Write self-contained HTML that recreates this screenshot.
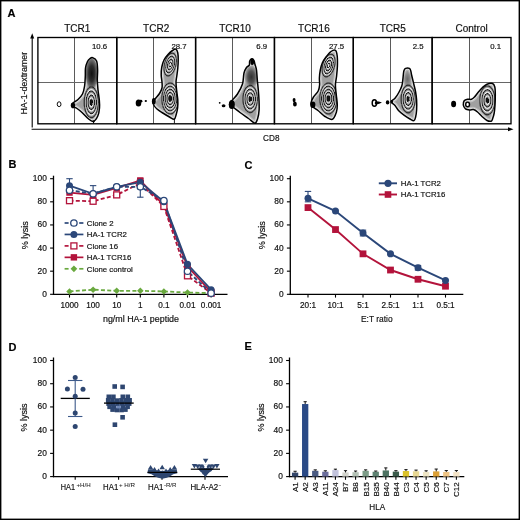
<!DOCTYPE html>
<html><head><meta charset="utf-8"><style>
html,body{margin:0;padding:0;background:#fff;width:520px;height:520px;overflow:hidden}
svg{display:block;will-change:transform}
text{font-family:"Liberation Sans",sans-serif;stroke:#111;stroke-width:0.18px;paint-order:stroke}
</style></head><body>
<svg width="520" height="520" viewBox="0 0 520 520" font-family="Liberation Sans, sans-serif"><text x="7.6" y="17.3" font-size="11" text-anchor="start" font-weight="bold" fill="#000" >A</text>
<text x="8.4" y="168.2" font-size="11" text-anchor="start" font-weight="bold" fill="#000" >B</text>
<text x="244.4" y="169.2" font-size="11" text-anchor="start" font-weight="bold" fill="#000" >C</text>
<text x="8.4" y="350.6" font-size="11" text-anchor="start" font-weight="bold" fill="#000" >D</text>
<text x="244.5" y="350.4" font-size="11" text-anchor="start" font-weight="bold" fill="#000" >E</text>
<line x1="32.2" y1="127.5" x2="32.2" y2="36.5" stroke="#000" stroke-width="1.1"/>
<path d="M32.2,33.2 L30.2,38.5 L34.2,38.5 Z" fill="#000"/>
<line x1="31.6" y1="129.3" x2="510" y2="129.3" stroke="#000" stroke-width="1.1"/>
<path d="M513.5,129.3 L508,127.3 L508,131.3 Z" fill="#000"/>
<text x="0" y="0" font-size="8.8" text-anchor="middle" font-weight="normal" fill="#111" transform="translate(26.5,83.2) rotate(-90)">HA-1-dextramer</text>
<text x="263.1" y="141.1" font-size="9.6" text-anchor="start" font-weight="normal" fill="#111" textLength="16.4" lengthAdjust="spacingAndGlyphs">CD8</text>
<text x="77.32499999999999" y="32.4" font-size="10" text-anchor="middle" font-weight="normal" fill="#111" >TCR1</text>
<text x="107.2" y="48.9" font-size="7.8" text-anchor="end" font-weight="normal" fill="#111" >10.6</text>
<text x="156.175" y="32.4" font-size="10" text-anchor="middle" font-weight="normal" fill="#111" >TCR2</text>
<text x="186.6" y="48.9" font-size="7.8" text-anchor="end" font-weight="normal" fill="#111" >28.7</text>
<text x="235.02499999999998" y="32.4" font-size="10" text-anchor="middle" font-weight="normal" fill="#111" >TCR10</text>
<text x="267.2" y="48.9" font-size="7.8" text-anchor="end" font-weight="normal" fill="#111" >6.9</text>
<text x="313.875" y="32.4" font-size="10" text-anchor="middle" font-weight="normal" fill="#111" >TCR16</text>
<text x="344.2" y="48.9" font-size="7.8" text-anchor="end" font-weight="normal" fill="#111" >27.5</text>
<text x="392.72499999999997" y="32.4" font-size="10" text-anchor="middle" font-weight="normal" fill="#111" >TCR5</text>
<text x="423.6" y="48.9" font-size="7.8" text-anchor="end" font-weight="normal" fill="#111" >2.5</text>
<text x="471.575" y="32.4" font-size="10" text-anchor="middle" font-weight="normal" fill="#111" >Control</text>
<text x="501.0" y="48.9" font-size="7.8" text-anchor="end" font-weight="normal" fill="#111" >0.1</text>
<line x1="74.5" y1="37.5" x2="74.5" y2="123.8" stroke="#5a5a5a" stroke-width="1.0"/>
<line x1="153.5" y1="37.5" x2="153.5" y2="123.8" stroke="#5a5a5a" stroke-width="1.0"/>
<line x1="232.5" y1="37.5" x2="232.5" y2="123.8" stroke="#5a5a5a" stroke-width="1.0"/>
<line x1="311.5" y1="37.5" x2="311.5" y2="123.8" stroke="#5a5a5a" stroke-width="1.0"/>
<line x1="390.5" y1="37.5" x2="390.5" y2="123.8" stroke="#5a5a5a" stroke-width="1.0"/>
<line x1="469.5" y1="37.5" x2="469.5" y2="123.8" stroke="#5a5a5a" stroke-width="1.0"/>
<line x1="37.9" y1="82.5" x2="510.99999999999994" y2="82.5" stroke="#666" stroke-width="1.0"/>
<clipPath id="cp1"><path d="M92.60,57.60 C93.70,58.02 95.77,58.93 96.60,61.00 C97.43,63.07 97.48,66.83 97.60,70.00 C97.72,73.17 97.23,76.67 97.30,80.00 C97.37,83.33 97.67,86.67 98.00,90.00 C98.33,93.33 99.05,97.00 99.30,100.00 C99.55,103.00 99.75,105.33 99.50,108.00 C99.25,110.67 98.83,113.77 97.80,116.00 C96.77,118.23 94.93,120.98 93.30,121.40 C91.67,121.82 89.88,119.98 88.00,118.50 C86.12,117.02 83.83,114.17 82.00,112.50 C80.17,110.83 78.42,109.45 77.00,108.50 C75.58,107.55 74.40,107.33 73.50,106.80 C72.60,106.27 71.60,106.02 71.60,105.30 C71.60,104.58 72.43,103.47 73.50,102.50 C74.57,101.53 76.50,100.92 78.00,99.50 C79.50,98.08 81.40,96.25 82.50,94.00 C83.60,91.75 84.13,89.00 84.60,86.00 C85.07,83.00 85.15,79.00 85.30,76.00 C85.45,73.00 85.13,70.42 85.50,68.00 C85.87,65.58 86.75,63.08 87.50,61.50 C88.25,59.92 89.15,59.15 90.00,58.50 C90.85,57.85 91.50,57.18 92.60,57.60 Z"/></clipPath>
<path d="M92.60,57.60 C93.70,58.02 95.77,58.93 96.60,61.00 C97.43,63.07 97.48,66.83 97.60,70.00 C97.72,73.17 97.23,76.67 97.30,80.00 C97.37,83.33 97.67,86.67 98.00,90.00 C98.33,93.33 99.05,97.00 99.30,100.00 C99.55,103.00 99.75,105.33 99.50,108.00 C99.25,110.67 98.83,113.77 97.80,116.00 C96.77,118.23 94.93,120.98 93.30,121.40 C91.67,121.82 89.88,119.98 88.00,118.50 C86.12,117.02 83.83,114.17 82.00,112.50 C80.17,110.83 78.42,109.45 77.00,108.50 C75.58,107.55 74.40,107.33 73.50,106.80 C72.60,106.27 71.60,106.02 71.60,105.30 C71.60,104.58 72.43,103.47 73.50,102.50 C74.57,101.53 76.50,100.92 78.00,99.50 C79.50,98.08 81.40,96.25 82.50,94.00 C83.60,91.75 84.13,89.00 84.60,86.00 C85.07,83.00 85.15,79.00 85.30,76.00 C85.45,73.00 85.13,70.42 85.50,68.00 C85.87,65.58 86.75,63.08 87.50,61.50 C88.25,59.92 89.15,59.15 90.00,58.50 C90.85,57.85 91.50,57.18 92.60,57.60 Z" fill="#a0a0a0" stroke="none"/>
<g clip-path="url(#cp1)">
<path d="M92.60,57.60 C93.70,58.02 95.77,58.93 96.60,61.00 C97.43,63.07 97.48,66.83 97.60,70.00 C97.72,73.17 97.23,76.67 97.30,80.00 C97.37,83.33 97.67,86.67 98.00,90.00 C98.33,93.33 99.05,97.00 99.30,100.00 C99.55,103.00 99.75,105.33 99.50,108.00 C99.25,110.67 98.83,113.77 97.80,116.00 C96.77,118.23 94.93,120.98 93.30,121.40 C91.67,121.82 89.88,119.98 88.00,118.50 C86.12,117.02 83.83,114.17 82.00,112.50 C80.17,110.83 78.42,109.45 77.00,108.50 C75.58,107.55 74.40,107.33 73.50,106.80 C72.60,106.27 71.60,106.02 71.60,105.30 C71.60,104.58 72.43,103.47 73.50,102.50 C74.57,101.53 76.50,100.92 78.00,99.50 C79.50,98.08 81.40,96.25 82.50,94.00 C83.60,91.75 84.13,89.00 84.60,86.00 C85.07,83.00 85.15,79.00 85.30,76.00 C85.45,73.00 85.13,70.42 85.50,68.00 C85.87,65.58 86.75,63.08 87.50,61.50 C88.25,59.92 89.15,59.15 90.00,58.50 C90.85,57.85 91.50,57.18 92.60,57.60 Z" fill="none" stroke="#f4f4f4" stroke-width="3.2"/>
<path d="M92.60,57.60 C93.70,58.02 95.77,58.93 96.60,61.00 C97.43,63.07 97.48,66.83 97.60,70.00 C97.72,73.17 97.23,76.67 97.30,80.00 C97.37,83.33 97.67,86.67 98.00,90.00 C98.33,93.33 99.05,97.00 99.30,100.00 C99.55,103.00 99.75,105.33 99.50,108.00 C99.25,110.67 98.83,113.77 97.80,116.00 C96.77,118.23 94.93,120.98 93.30,121.40 C91.67,121.82 89.88,119.98 88.00,118.50 C86.12,117.02 83.83,114.17 82.00,112.50 C80.17,110.83 78.42,109.45 77.00,108.50 C75.58,107.55 74.40,107.33 73.50,106.80 C72.60,106.27 71.60,106.02 71.60,105.30 C71.60,104.58 72.43,103.47 73.50,102.50 C74.57,101.53 76.50,100.92 78.00,99.50 C79.50,98.08 81.40,96.25 82.50,94.00 C83.60,91.75 84.13,89.00 84.60,86.00 C85.07,83.00 85.15,79.00 85.30,76.00 C85.45,73.00 85.13,70.42 85.50,68.00 C85.87,65.58 86.75,63.08 87.50,61.50 C88.25,59.92 89.15,59.15 90.00,58.50 C90.85,57.85 91.50,57.18 92.60,57.60 Z" fill="none" stroke="#d8d8d8" stroke-width="5.5" opacity="0.6"/>
<radialGradient id="rg1_1" cx="0.5" cy="0.5" r="0.5"><stop offset="0" stop-color="#111"/><stop offset="0.45" stop-color="#2e2e2e"/><stop offset="0.8" stop-color="#707070"/><stop offset="1" stop-color="#a0a0a0" stop-opacity="0"/></radialGradient>
<ellipse cx="91.7" cy="73.5" rx="6.8" ry="17.5" fill="url(#rg1_1)"/>
<radialGradient id="rg1_2" gradientUnits="userSpaceOnUse" cx="91.3" cy="102.3" r="7.6" gradientTransform="translate(91.3,102.3) rotate(0.0) scale(1,2.1711) translate(-91.3,-102.3)"><stop offset="0.000" stop-color="#141414"/><stop offset="0.170" stop-color="#141414"/><stop offset="0.174" stop-color="#f8f8f8"/><stop offset="0.177" stop-color="#f8f8f8"/><stop offset="0.188" stop-color="#8c8c8c"/><stop offset="0.196" stop-color="#2c2c2c"/><stop offset="0.200" stop-color="#f8f8f8"/><stop offset="0.262" stop-color="#f8f8f8"/><stop offset="0.350" stop-color="#8c8c8c"/><stop offset="0.446" stop-color="#2c2c2c"/><stop offset="0.450" stop-color="#f8f8f8"/><stop offset="0.512" stop-color="#f8f8f8"/><stop offset="0.600" stop-color="#8c8c8c"/><stop offset="0.696" stop-color="#2c2c2c"/><stop offset="0.700" stop-color="#f8f8f8"/><stop offset="0.762" stop-color="#f8f8f8"/><stop offset="0.850" stop-color="#8c8c8c"/><stop offset="0.946" stop-color="#2c2c2c"/><stop offset="0.950" stop-color="#f8f8f8"/><stop offset="1.000" stop-color="#a0a0a0"/></radialGradient>
<path d="M91.4,118.0 L91.0,118.0 L90.5,117.9 L90.1,117.8 L89.8,117.6 L89.5,117.5 L89.2,117.3 L88.9,117.1 L88.6,116.8 L88.3,116.6 L88.1,116.4 L87.9,116.1 L87.6,115.8 L87.4,115.5 L87.2,115.2 L87.0,114.9 L86.8,114.6 L86.6,114.3 L86.5,114.0 L86.3,113.6 L86.1,113.3 L86.0,112.9 L85.8,112.6 L85.7,112.2 L85.6,111.9 L85.4,111.5 L85.3,111.1 L85.2,110.7 L85.1,110.3 L85.0,110.0 L84.9,109.6 L84.8,109.1 L84.7,108.7 L84.6,108.3 L84.6,107.9 L84.5,107.5 L84.4,107.0 L84.4,106.6 L84.3,106.1 L84.2,105.7 L84.2,105.2 L84.2,104.8 L84.1,104.3 L84.1,103.8 L84.1,103.4 L84.1,102.9 L84.1,102.4 L84.1,101.9 L84.1,101.4 L84.1,101.0 L84.1,100.5 L84.2,100.0 L84.2,99.5 L84.2,99.1 L84.3,98.6 L84.3,98.2 L84.4,97.7 L84.5,97.3 L84.5,96.9 L84.6,96.5 L84.7,96.0 L84.8,95.6 L84.9,95.2 L85.0,94.8 L85.1,94.4 L85.2,94.0 L85.3,93.6 L85.4,93.3 L85.5,92.9 L85.7,92.5 L85.8,92.1 L86.0,91.8 L86.1,91.4 L86.3,91.1 L86.4,90.8 L86.6,90.4 L86.8,90.1 L87.0,89.8 L87.2,89.5 L87.4,89.2 L87.6,88.9 L87.8,88.6 L88.0,88.4 L88.3,88.1 L88.5,87.9 L88.8,87.6 L89.1,87.4 L89.4,87.2 L89.7,87.0 L90.0,86.9 L90.4,86.7 L90.8,86.7 L91.3,86.6 L91.8,86.7 L92.2,86.7 L92.6,86.9 L92.9,87.0 L93.2,87.2 L93.5,87.4 L93.8,87.6 L94.1,87.9 L94.3,88.1 L94.6,88.4 L94.8,88.6 L95.0,88.9 L95.2,89.2 L95.4,89.5 L95.6,89.8 L95.8,90.1 L96.0,90.4 L96.2,90.8 L96.3,91.1 L96.5,91.4 L96.6,91.8 L96.8,92.1 L96.9,92.5 L97.1,92.9 L97.2,93.3 L97.3,93.6 L97.4,94.0 L97.5,94.4 L97.6,94.8 L97.7,95.2 L97.8,95.6 L97.9,96.0 L98.0,96.5 L98.1,96.9 L98.1,97.3 L98.2,97.7 L98.3,98.2 L98.3,98.6 L98.4,99.1 L98.4,99.5 L98.4,100.0 L98.5,100.5 L98.5,101.0 L98.5,101.4 L98.5,101.9 L98.5,102.4 L98.5,102.9 L98.5,103.4 L98.5,103.8 L98.5,104.3 L98.4,104.8 L98.4,105.2 L98.4,105.7 L98.3,106.1 L98.2,106.6 L98.2,107.0 L98.1,107.5 L98.0,107.9 L98.0,108.3 L97.9,108.7 L97.8,109.1 L97.7,109.6 L97.6,110.0 L97.5,110.3 L97.4,110.7 L97.3,111.1 L97.2,111.5 L97.0,111.9 L96.9,112.2 L96.8,112.6 L96.6,112.9 L96.5,113.3 L96.3,113.6 L96.1,114.0 L96.0,114.3 L95.8,114.6 L95.6,114.9 L95.4,115.2 L95.2,115.5 L95.0,115.8 L94.7,116.1 L94.5,116.4 L94.3,116.6 L94.0,116.8 L93.7,117.1 L93.4,117.3 L93.1,117.5 L92.8,117.6 L92.5,117.8 L92.1,117.9 L91.6,118.0Z" fill="url(#rg1_2)" stroke="none"/>
<path d="M91.4,118.0 L91.0,118.0 L90.5,117.9 L90.1,117.8 L89.8,117.6 L89.5,117.5 L89.2,117.3 L88.9,117.1 L88.6,116.8 L88.3,116.6 L88.1,116.4 L87.9,116.1 L87.6,115.8 L87.4,115.5 L87.2,115.2 L87.0,114.9 L86.8,114.6 L86.6,114.3 L86.5,114.0 L86.3,113.6 L86.1,113.3 L86.0,112.9 L85.8,112.6 L85.7,112.2 L85.6,111.9 L85.4,111.5 L85.3,111.1 L85.2,110.7 L85.1,110.3 L85.0,110.0 L84.9,109.6 L84.8,109.1 L84.7,108.7 L84.6,108.3 L84.6,107.9 L84.5,107.5 L84.4,107.0 L84.4,106.6 L84.3,106.1 L84.2,105.7 L84.2,105.2 L84.2,104.8 L84.1,104.3 L84.1,103.8 L84.1,103.4 L84.1,102.9 L84.1,102.4 L84.1,101.9 L84.1,101.4 L84.1,101.0 L84.1,100.5 L84.2,100.0 L84.2,99.5 L84.2,99.1 L84.3,98.6 L84.3,98.2 L84.4,97.7 L84.5,97.3 L84.5,96.9 L84.6,96.5 L84.7,96.0 L84.8,95.6 L84.9,95.2 L85.0,94.8 L85.1,94.4 L85.2,94.0 L85.3,93.6 L85.4,93.3 L85.5,92.9 L85.7,92.5 L85.8,92.1 L86.0,91.8 L86.1,91.4 L86.3,91.1 L86.4,90.8 L86.6,90.4 L86.8,90.1 L87.0,89.8 L87.2,89.5 L87.4,89.2 L87.6,88.9 L87.8,88.6 L88.0,88.4 L88.3,88.1 L88.5,87.9 L88.8,87.6 L89.1,87.4 L89.4,87.2 L89.7,87.0 L90.0,86.9 L90.4,86.7 L90.8,86.7 L91.3,86.6 L91.8,86.7 L92.2,86.7 L92.6,86.9 L92.9,87.0 L93.2,87.2 L93.5,87.4 L93.8,87.6 L94.1,87.9 L94.3,88.1 L94.6,88.4 L94.8,88.6 L95.0,88.9 L95.2,89.2 L95.4,89.5 L95.6,89.8 L95.8,90.1 L96.0,90.4 L96.2,90.8 L96.3,91.1 L96.5,91.4 L96.6,91.8 L96.8,92.1 L96.9,92.5 L97.1,92.9 L97.2,93.3 L97.3,93.6 L97.4,94.0 L97.5,94.4 L97.6,94.8 L97.7,95.2 L97.8,95.6 L97.9,96.0 L98.0,96.5 L98.1,96.9 L98.1,97.3 L98.2,97.7 L98.3,98.2 L98.3,98.6 L98.4,99.1 L98.4,99.5 L98.4,100.0 L98.5,100.5 L98.5,101.0 L98.5,101.4 L98.5,101.9 L98.5,102.4 L98.5,102.9 L98.5,103.4 L98.5,103.8 L98.5,104.3 L98.4,104.8 L98.4,105.2 L98.4,105.7 L98.3,106.1 L98.2,106.6 L98.2,107.0 L98.1,107.5 L98.0,107.9 L98.0,108.3 L97.9,108.7 L97.8,109.1 L97.7,109.6 L97.6,110.0 L97.5,110.3 L97.4,110.7 L97.3,111.1 L97.2,111.5 L97.0,111.9 L96.9,112.2 L96.8,112.6 L96.6,112.9 L96.5,113.3 L96.3,113.6 L96.1,114.0 L96.0,114.3 L95.8,114.6 L95.6,114.9 L95.4,115.2 L95.2,115.5 L95.0,115.8 L94.7,116.1 L94.5,116.4 L94.3,116.6 L94.0,116.8 L93.7,117.1 L93.4,117.3 L93.1,117.5 L92.8,117.6 L92.5,117.8 L92.1,117.9 L91.6,118.0Z" fill="none" stroke="#000" stroke-width="0.7"/>
<path d="M91.9,113.8 L91.4,113.8 L90.9,113.8 L90.5,113.7 L90.1,113.6 L89.8,113.4 L89.5,113.2 L89.3,113.0 L89.0,112.7 L88.8,112.5 L88.5,112.2 L88.3,111.9 L88.1,111.6 L88.0,111.3 L87.8,111.0 L87.6,110.6 L87.5,110.3 L87.3,109.9 L87.2,109.6 L87.0,109.2 L86.9,108.8 L86.8,108.5 L86.7,108.1 L86.6,107.7 L86.5,107.3 L86.4,106.8 L86.3,106.4 L86.3,106.0 L86.2,105.6 L86.1,105.1 L86.1,104.7 L86.1,104.2 L86.0,103.7 L86.0,103.3 L86.0,102.8 L86.0,102.3 L86.0,101.8 L86.0,101.3 L86.0,100.9 L86.1,100.4 L86.1,99.9 L86.1,99.5 L86.2,99.0 L86.3,98.6 L86.3,98.2 L86.4,97.8 L86.5,97.3 L86.6,96.9 L86.7,96.5 L86.8,96.1 L86.9,95.8 L87.0,95.4 L87.2,95.0 L87.3,94.7 L87.5,94.3 L87.6,94.0 L87.8,93.6 L88.0,93.3 L88.2,93.0 L88.4,92.7 L88.6,92.4 L88.8,92.1 L89.0,91.9 L89.3,91.6 L89.6,91.4 L89.9,91.2 L90.2,91.0 L90.5,90.9 L91.0,90.8 L91.4,90.8 L91.8,90.8 L92.2,90.9 L92.5,91.1 L92.9,91.3 L93.2,91.5 L93.4,91.7 L93.7,92.0 L93.9,92.2 L94.1,92.5 L94.3,92.8 L94.5,93.1 L94.7,93.4 L94.9,93.8 L95.0,94.1 L95.2,94.4 L95.3,94.8 L95.5,95.2 L95.6,95.5 L95.7,95.9 L95.8,96.3 L95.9,96.7 L96.0,97.1 L96.1,97.5 L96.2,97.9 L96.3,98.4 L96.4,98.8 L96.4,99.2 L96.5,99.7 L96.5,100.1 L96.6,100.6 L96.6,101.1 L96.6,101.5 L96.6,102.0 L96.6,102.5 L96.6,103.0 L96.6,103.4 L96.6,103.9 L96.5,104.4 L96.5,104.8 L96.4,105.3 L96.4,105.7 L96.3,106.2 L96.2,106.6 L96.2,107.0 L96.1,107.4 L96.0,107.8 L95.9,108.2 L95.8,108.6 L95.6,109.0 L95.5,109.4 L95.4,109.7 L95.2,110.1 L95.1,110.4 L94.9,110.8 L94.8,111.1 L94.6,111.4 L94.4,111.7 L94.2,112.0 L94.0,112.3 L93.7,112.6 L93.5,112.8 L93.2,113.1 L93.0,113.3 L92.6,113.5 L92.3,113.6 L91.9,113.8Z" fill="none" stroke="#000" stroke-width="0.7"/>
<path d="M91.7,109.7 L91.2,109.7 L90.8,109.6 L90.4,109.5 L90.1,109.3 L89.9,109.1 L89.6,108.8 L89.4,108.5 L89.2,108.2 L89.0,107.9 L88.9,107.6 L88.7,107.2 L88.6,106.9 L88.5,106.5 L88.4,106.1 L88.3,105.7 L88.2,105.3 L88.1,104.9 L88.0,104.4 L88.0,104.0 L87.9,103.5 L87.9,103.1 L87.9,102.6 L87.9,102.1 L87.9,101.6 L87.9,101.2 L88.0,100.7 L88.0,100.3 L88.1,99.8 L88.2,99.4 L88.2,99.0 L88.3,98.6 L88.5,98.2 L88.6,97.8 L88.7,97.5 L88.9,97.1 L89.0,96.8 L89.2,96.4 L89.4,96.1 L89.6,95.9 L89.9,95.6 L90.1,95.3 L90.4,95.1 L90.7,95.0 L91.2,94.9 L91.7,94.9 L92.1,95.1 L92.4,95.3 L92.6,95.5 L92.9,95.7 L93.1,96.0 L93.3,96.3 L93.5,96.6 L93.7,97.0 L93.8,97.3 L94.0,97.7 L94.1,98.0 L94.2,98.4 L94.3,98.8 L94.4,99.2 L94.5,99.7 L94.6,100.1 L94.6,100.5 L94.7,101.0 L94.7,101.5 L94.7,101.9 L94.7,102.4 L94.7,102.9 L94.7,103.3 L94.7,103.8 L94.6,104.2 L94.5,104.7 L94.5,105.1 L94.4,105.5 L94.3,105.9 L94.2,106.3 L94.1,106.7 L93.9,107.1 L93.8,107.4 L93.6,107.8 L93.5,108.1 L93.3,108.4 L93.1,108.7 L92.8,109.0 L92.6,109.2 L92.3,109.4 L92.0,109.6Z" fill="none" stroke="#000" stroke-width="0.7"/>
<path d="M91.4,105.6 L91.0,105.5 L90.7,105.3 L90.5,105.1 L90.3,104.8 L90.1,104.4 L90.0,104.0 L89.9,103.6 L89.8,103.2 L89.8,102.8 L89.8,102.3 L89.8,101.8 L89.8,101.4 L89.9,101.0 L90.0,100.6 L90.1,100.2 L90.3,99.8 L90.5,99.5 L90.7,99.3 L91.0,99.1 L91.5,99.0 L91.8,99.2 L92.1,99.5 L92.3,99.8 L92.4,100.1 L92.6,100.5 L92.7,100.9 L92.7,101.3 L92.8,101.8 L92.8,102.2 L92.8,102.7 L92.8,103.1 L92.7,103.6 L92.6,104.0 L92.5,104.3 L92.4,104.7 L92.2,105.0 L92.0,105.3 L91.7,105.5Z" fill="none" stroke="#000" stroke-width="0.7"/>
</g>
<path d="M92.60,57.60 C93.70,58.02 95.77,58.93 96.60,61.00 C97.43,63.07 97.48,66.83 97.60,70.00 C97.72,73.17 97.23,76.67 97.30,80.00 C97.37,83.33 97.67,86.67 98.00,90.00 C98.33,93.33 99.05,97.00 99.30,100.00 C99.55,103.00 99.75,105.33 99.50,108.00 C99.25,110.67 98.83,113.77 97.80,116.00 C96.77,118.23 94.93,120.98 93.30,121.40 C91.67,121.82 89.88,119.98 88.00,118.50 C86.12,117.02 83.83,114.17 82.00,112.50 C80.17,110.83 78.42,109.45 77.00,108.50 C75.58,107.55 74.40,107.33 73.50,106.80 C72.60,106.27 71.60,106.02 71.60,105.30 C71.60,104.58 72.43,103.47 73.50,102.50 C74.57,101.53 76.50,100.92 78.00,99.50 C79.50,98.08 81.40,96.25 82.50,94.00 C83.60,91.75 84.13,89.00 84.60,86.00 C85.07,83.00 85.15,79.00 85.30,76.00 C85.45,73.00 85.13,70.42 85.50,68.00 C85.87,65.58 86.75,63.08 87.50,61.50 C88.25,59.92 89.15,59.15 90.00,58.50 C90.85,57.85 91.50,57.18 92.60,57.60 Z" fill="none" stroke="#000" stroke-width="1.5"/>
<ellipse cx="59.1" cy="104.2" rx="1.9" ry="2.45" fill="#fff" stroke="#000" stroke-width="0.95"/>
<ellipse cx="73" cy="105.4" rx="2.2" ry="2.8" fill="#000"/>
<clipPath id="cp2"><path d="M176.00,49.20 C176.88,49.62 177.43,51.20 177.80,53.00 C178.17,54.80 178.20,57.50 178.20,60.00 C178.20,62.50 178.03,65.33 177.80,68.00 C177.57,70.67 177.10,73.67 176.80,76.00 C176.50,78.33 176.03,79.67 176.00,82.00 C175.97,84.33 176.30,87.00 176.60,90.00 C176.90,93.00 177.63,97.00 177.80,100.00 C177.97,103.00 177.87,105.58 177.60,108.00 C177.33,110.42 176.77,112.62 176.20,114.50 C175.63,116.38 175.32,118.88 174.20,119.30 C173.08,119.72 171.53,118.13 169.50,117.00 C167.47,115.87 164.08,113.83 162.00,112.50 C159.92,111.17 158.33,110.17 157.00,109.00 C155.67,107.83 154.67,106.67 154.00,105.50 C153.33,104.33 152.75,103.17 153.00,102.00 C153.25,100.83 154.42,99.92 155.50,98.50 C156.58,97.08 158.42,95.25 159.50,93.50 C160.58,91.75 161.58,89.92 162.00,88.00 C162.42,86.08 162.13,84.17 162.00,82.00 C161.87,79.83 161.23,77.50 161.20,75.00 C161.17,72.50 161.33,69.50 161.80,67.00 C162.27,64.50 162.97,62.08 164.00,60.00 C165.03,57.92 166.58,56.08 168.00,54.50 C169.42,52.92 171.17,51.38 172.50,50.50 C173.83,49.62 175.12,48.78 176.00,49.20 Z"/></clipPath>
<path d="M176.00,49.20 C176.88,49.62 177.43,51.20 177.80,53.00 C178.17,54.80 178.20,57.50 178.20,60.00 C178.20,62.50 178.03,65.33 177.80,68.00 C177.57,70.67 177.10,73.67 176.80,76.00 C176.50,78.33 176.03,79.67 176.00,82.00 C175.97,84.33 176.30,87.00 176.60,90.00 C176.90,93.00 177.63,97.00 177.80,100.00 C177.97,103.00 177.87,105.58 177.60,108.00 C177.33,110.42 176.77,112.62 176.20,114.50 C175.63,116.38 175.32,118.88 174.20,119.30 C173.08,119.72 171.53,118.13 169.50,117.00 C167.47,115.87 164.08,113.83 162.00,112.50 C159.92,111.17 158.33,110.17 157.00,109.00 C155.67,107.83 154.67,106.67 154.00,105.50 C153.33,104.33 152.75,103.17 153.00,102.00 C153.25,100.83 154.42,99.92 155.50,98.50 C156.58,97.08 158.42,95.25 159.50,93.50 C160.58,91.75 161.58,89.92 162.00,88.00 C162.42,86.08 162.13,84.17 162.00,82.00 C161.87,79.83 161.23,77.50 161.20,75.00 C161.17,72.50 161.33,69.50 161.80,67.00 C162.27,64.50 162.97,62.08 164.00,60.00 C165.03,57.92 166.58,56.08 168.00,54.50 C169.42,52.92 171.17,51.38 172.50,50.50 C173.83,49.62 175.12,48.78 176.00,49.20 Z" fill="#a0a0a0" stroke="none"/>
<g clip-path="url(#cp2)">
<path d="M176.00,49.20 C176.88,49.62 177.43,51.20 177.80,53.00 C178.17,54.80 178.20,57.50 178.20,60.00 C178.20,62.50 178.03,65.33 177.80,68.00 C177.57,70.67 177.10,73.67 176.80,76.00 C176.50,78.33 176.03,79.67 176.00,82.00 C175.97,84.33 176.30,87.00 176.60,90.00 C176.90,93.00 177.63,97.00 177.80,100.00 C177.97,103.00 177.87,105.58 177.60,108.00 C177.33,110.42 176.77,112.62 176.20,114.50 C175.63,116.38 175.32,118.88 174.20,119.30 C173.08,119.72 171.53,118.13 169.50,117.00 C167.47,115.87 164.08,113.83 162.00,112.50 C159.92,111.17 158.33,110.17 157.00,109.00 C155.67,107.83 154.67,106.67 154.00,105.50 C153.33,104.33 152.75,103.17 153.00,102.00 C153.25,100.83 154.42,99.92 155.50,98.50 C156.58,97.08 158.42,95.25 159.50,93.50 C160.58,91.75 161.58,89.92 162.00,88.00 C162.42,86.08 162.13,84.17 162.00,82.00 C161.87,79.83 161.23,77.50 161.20,75.00 C161.17,72.50 161.33,69.50 161.80,67.00 C162.27,64.50 162.97,62.08 164.00,60.00 C165.03,57.92 166.58,56.08 168.00,54.50 C169.42,52.92 171.17,51.38 172.50,50.50 C173.83,49.62 175.12,48.78 176.00,49.20 Z" fill="none" stroke="#f4f4f4" stroke-width="3.2"/>
<path d="M176.00,49.20 C176.88,49.62 177.43,51.20 177.80,53.00 C178.17,54.80 178.20,57.50 178.20,60.00 C178.20,62.50 178.03,65.33 177.80,68.00 C177.57,70.67 177.10,73.67 176.80,76.00 C176.50,78.33 176.03,79.67 176.00,82.00 C175.97,84.33 176.30,87.00 176.60,90.00 C176.90,93.00 177.63,97.00 177.80,100.00 C177.97,103.00 177.87,105.58 177.60,108.00 C177.33,110.42 176.77,112.62 176.20,114.50 C175.63,116.38 175.32,118.88 174.20,119.30 C173.08,119.72 171.53,118.13 169.50,117.00 C167.47,115.87 164.08,113.83 162.00,112.50 C159.92,111.17 158.33,110.17 157.00,109.00 C155.67,107.83 154.67,106.67 154.00,105.50 C153.33,104.33 152.75,103.17 153.00,102.00 C153.25,100.83 154.42,99.92 155.50,98.50 C156.58,97.08 158.42,95.25 159.50,93.50 C160.58,91.75 161.58,89.92 162.00,88.00 C162.42,86.08 162.13,84.17 162.00,82.00 C161.87,79.83 161.23,77.50 161.20,75.00 C161.17,72.50 161.33,69.50 161.80,67.00 C162.27,64.50 162.97,62.08 164.00,60.00 C165.03,57.92 166.58,56.08 168.00,54.50 C169.42,52.92 171.17,51.38 172.50,50.50 C173.83,49.62 175.12,48.78 176.00,49.20 Z" fill="none" stroke="#d8d8d8" stroke-width="5.5" opacity="0.6"/>
<radialGradient id="rg2_1" gradientUnits="userSpaceOnUse" cx="170.2" cy="64.5" r="6.2" gradientTransform="translate(170.2,64.5) rotate(14) scale(1,2.0161) translate(-170.2,-64.5)"><stop offset="0.000" stop-color="#f4f4f4"/><stop offset="0.110" stop-color="#e0e0e0"/><stop offset="0.200" stop-color="#202020"/><stop offset="0.204" stop-color="#f8f8f8"/><stop offset="0.200" stop-color="#f8f8f8"/><stop offset="0.200" stop-color="#8c8c8c"/><stop offset="0.196" stop-color="#2c2c2c"/><stop offset="0.200" stop-color="#f8f8f8"/><stop offset="0.262" stop-color="#f8f8f8"/><stop offset="0.350" stop-color="#8c8c8c"/><stop offset="0.446" stop-color="#2c2c2c"/><stop offset="0.450" stop-color="#f8f8f8"/><stop offset="0.512" stop-color="#f8f8f8"/><stop offset="0.600" stop-color="#8c8c8c"/><stop offset="0.696" stop-color="#2c2c2c"/><stop offset="0.700" stop-color="#f8f8f8"/><stop offset="0.762" stop-color="#f8f8f8"/><stop offset="0.850" stop-color="#8c8c8c"/><stop offset="0.946" stop-color="#2c2c2c"/><stop offset="0.950" stop-color="#f8f8f8"/><stop offset="1.000" stop-color="#a0a0a0"/></radialGradient>
<path d="M168.3,76.1 L167.8,76.1 L167.4,76.0 L167.0,75.9 L166.7,75.8 L166.4,75.6 L166.1,75.4 L165.8,75.2 L165.6,74.9 L165.4,74.6 L165.1,74.3 L165.0,74.0 L164.8,73.7 L164.6,73.3 L164.5,73.0 L164.4,72.6 L164.3,72.2 L164.2,71.8 L164.1,71.4 L164.0,71.0 L163.9,70.6 L163.9,70.1 L163.8,69.6 L163.8,69.2 L163.8,68.7 L163.8,68.2 L163.8,67.7 L163.8,67.2 L163.9,66.8 L163.9,66.3 L164.0,65.9 L164.0,65.4 L164.1,65.0 L164.2,64.6 L164.2,64.2 L164.3,63.7 L164.4,63.3 L164.5,62.9 L164.6,62.5 L164.7,62.1 L164.8,61.8 L165.0,61.4 L165.1,61.0 L165.2,60.6 L165.4,60.3 L165.5,59.9 L165.6,59.6 L165.8,59.2 L166.0,58.9 L166.1,58.5 L166.3,58.2 L166.5,57.9 L166.6,57.6 L166.8,57.2 L167.0,56.9 L167.2,56.6 L167.4,56.3 L167.6,56.0 L167.8,55.8 L168.1,55.5 L168.3,55.2 L168.5,55.0 L168.8,54.7 L169.0,54.5 L169.3,54.2 L169.6,54.0 L169.9,53.8 L170.2,53.6 L170.5,53.4 L170.8,53.2 L171.2,53.1 L171.5,53.0 L172.0,52.9 L172.4,52.9 L172.8,52.9 L173.2,53.0 L173.6,53.2 L173.9,53.3 L174.2,53.6 L174.5,53.8 L174.7,54.0 L175.0,54.3 L175.2,54.6 L175.4,54.9 L175.5,55.2 L175.7,55.6 L175.8,55.9 L176.0,56.3 L176.1,56.7 L176.2,57.1 L176.3,57.5 L176.4,57.9 L176.4,58.3 L176.5,58.8 L176.5,59.2 L176.6,59.7 L176.6,60.2 L176.6,60.7 L176.6,61.2 L176.6,61.7 L176.5,62.1 L176.5,62.6 L176.4,63.1 L176.4,63.5 L176.3,63.9 L176.2,64.4 L176.2,64.8 L176.1,65.2 L176.0,65.6 L175.9,66.0 L175.8,66.4 L175.7,66.8 L175.6,67.2 L175.4,67.6 L175.3,67.9 L175.2,68.3 L175.0,68.7 L174.9,69.0 L174.8,69.4 L174.6,69.7 L174.4,70.1 L174.3,70.4 L174.1,70.7 L173.9,71.1 L173.8,71.4 L173.6,71.7 L173.4,72.0 L173.2,72.3 L173.0,72.6 L172.8,72.9 L172.6,73.2 L172.3,73.5 L172.1,73.7 L171.9,74.0 L171.6,74.3 L171.4,74.5 L171.1,74.7 L170.8,75.0 L170.6,75.2 L170.3,75.4 L169.9,75.6 L169.6,75.7 L169.3,75.9 L168.9,76.0 L168.4,76.1Z" fill="url(#rg2_1)" stroke="none"/>
<path d="M168.3,76.1 L167.8,76.1 L167.4,76.0 L167.0,75.9 L166.7,75.8 L166.4,75.6 L166.1,75.4 L165.8,75.2 L165.6,74.9 L165.4,74.6 L165.1,74.3 L165.0,74.0 L164.8,73.7 L164.6,73.3 L164.5,73.0 L164.4,72.6 L164.3,72.2 L164.2,71.8 L164.1,71.4 L164.0,71.0 L163.9,70.6 L163.9,70.1 L163.8,69.6 L163.8,69.2 L163.8,68.7 L163.8,68.2 L163.8,67.7 L163.8,67.2 L163.9,66.8 L163.9,66.3 L164.0,65.9 L164.0,65.4 L164.1,65.0 L164.2,64.6 L164.2,64.2 L164.3,63.7 L164.4,63.3 L164.5,62.9 L164.6,62.5 L164.7,62.1 L164.8,61.8 L165.0,61.4 L165.1,61.0 L165.2,60.6 L165.4,60.3 L165.5,59.9 L165.6,59.6 L165.8,59.2 L166.0,58.9 L166.1,58.5 L166.3,58.2 L166.5,57.9 L166.6,57.6 L166.8,57.2 L167.0,56.9 L167.2,56.6 L167.4,56.3 L167.6,56.0 L167.8,55.8 L168.1,55.5 L168.3,55.2 L168.5,55.0 L168.8,54.7 L169.0,54.5 L169.3,54.2 L169.6,54.0 L169.9,53.8 L170.2,53.6 L170.5,53.4 L170.8,53.2 L171.2,53.1 L171.5,53.0 L172.0,52.9 L172.4,52.9 L172.8,52.9 L173.2,53.0 L173.6,53.2 L173.9,53.3 L174.2,53.6 L174.5,53.8 L174.7,54.0 L175.0,54.3 L175.2,54.6 L175.4,54.9 L175.5,55.2 L175.7,55.6 L175.8,55.9 L176.0,56.3 L176.1,56.7 L176.2,57.1 L176.3,57.5 L176.4,57.9 L176.4,58.3 L176.5,58.8 L176.5,59.2 L176.6,59.7 L176.6,60.2 L176.6,60.7 L176.6,61.2 L176.6,61.7 L176.5,62.1 L176.5,62.6 L176.4,63.1 L176.4,63.5 L176.3,63.9 L176.2,64.4 L176.2,64.8 L176.1,65.2 L176.0,65.6 L175.9,66.0 L175.8,66.4 L175.7,66.8 L175.6,67.2 L175.4,67.6 L175.3,67.9 L175.2,68.3 L175.0,68.7 L174.9,69.0 L174.8,69.4 L174.6,69.7 L174.4,70.1 L174.3,70.4 L174.1,70.7 L173.9,71.1 L173.8,71.4 L173.6,71.7 L173.4,72.0 L173.2,72.3 L173.0,72.6 L172.8,72.9 L172.6,73.2 L172.3,73.5 L172.1,73.7 L171.9,74.0 L171.6,74.3 L171.4,74.5 L171.1,74.7 L170.8,75.0 L170.6,75.2 L170.3,75.4 L169.9,75.6 L169.6,75.7 L169.3,75.9 L168.9,76.0 L168.4,76.1Z" fill="none" stroke="#000" stroke-width="0.7"/>
<path d="M169.1,73.0 L168.6,73.1 L168.1,73.0 L167.8,72.9 L167.4,72.7 L167.1,72.5 L166.9,72.3 L166.7,72.0 L166.5,71.7 L166.3,71.4 L166.1,71.1 L166.0,70.7 L165.9,70.3 L165.8,69.9 L165.7,69.5 L165.6,69.1 L165.5,68.6 L165.5,68.2 L165.5,67.7 L165.5,67.2 L165.5,66.7 L165.5,66.2 L165.6,65.8 L165.6,65.3 L165.7,64.9 L165.8,64.5 L165.8,64.1 L165.9,63.6 L166.0,63.2 L166.1,62.9 L166.3,62.5 L166.4,62.1 L166.5,61.7 L166.6,61.4 L166.8,61.0 L166.9,60.7 L167.1,60.3 L167.3,60.0 L167.4,59.7 L167.6,59.3 L167.8,59.0 L168.0,58.7 L168.2,58.4 L168.4,58.1 L168.6,57.8 L168.9,57.6 L169.1,57.3 L169.4,57.1 L169.6,56.8 L169.9,56.6 L170.2,56.4 L170.5,56.3 L170.9,56.1 L171.3,56.0 L171.7,55.9 L172.2,56.0 L172.6,56.1 L172.9,56.3 L173.2,56.5 L173.5,56.7 L173.7,57.0 L173.9,57.3 L174.1,57.6 L174.2,57.9 L174.4,58.3 L174.5,58.7 L174.6,59.1 L174.7,59.5 L174.8,59.9 L174.8,60.3 L174.9,60.8 L174.9,61.3 L174.9,61.8 L174.9,62.3 L174.9,62.8 L174.8,63.2 L174.8,63.7 L174.7,64.1 L174.6,64.5 L174.5,65.0 L174.5,65.4 L174.3,65.8 L174.2,66.2 L174.1,66.5 L174.0,66.9 L173.9,67.3 L173.7,67.7 L173.6,68.0 L173.4,68.4 L173.3,68.7 L173.1,69.0 L172.9,69.4 L172.8,69.7 L172.6,70.0 L172.4,70.3 L172.2,70.6 L172.0,70.9 L171.7,71.2 L171.5,71.4 L171.3,71.7 L171.0,71.9 L170.7,72.2 L170.5,72.4 L170.1,72.6 L169.8,72.8 L169.5,72.9 L169.1,73.0Z" fill="none" stroke="#000" stroke-width="0.7"/>
<path d="M169.3,70.0 L168.9,70.0 L168.5,69.8 L168.2,69.6 L168.0,69.4 L167.8,69.1 L167.6,68.8 L167.5,68.4 L167.3,68.0 L167.3,67.6 L167.2,67.2 L167.2,66.7 L167.2,66.2 L167.2,65.7 L167.2,65.2 L167.3,64.8 L167.4,64.4 L167.5,64.0 L167.6,63.6 L167.7,63.2 L167.8,62.8 L167.9,62.4 L168.1,62.1 L168.2,61.7 L168.4,61.4 L168.6,61.1 L168.8,60.8 L169.0,60.5 L169.2,60.2 L169.4,59.9 L169.7,59.7 L170.0,59.5 L170.3,59.3 L170.6,59.1 L171.0,59.0 L171.5,59.0 L171.9,59.2 L172.2,59.4 L172.4,59.6 L172.6,59.9 L172.8,60.3 L172.9,60.6 L173.0,61.0 L173.1,61.5 L173.2,61.9 L173.2,62.4 L173.2,62.9 L173.2,63.4 L173.1,63.9 L173.1,64.3 L173.0,64.7 L172.9,65.1 L172.8,65.5 L172.7,65.9 L172.6,66.3 L172.4,66.6 L172.3,67.0 L172.1,67.3 L171.9,67.7 L171.8,68.0 L171.6,68.3 L171.4,68.6 L171.1,68.8 L170.9,69.1 L170.6,69.4 L170.3,69.6 L170.0,69.8 L169.7,69.9 L169.3,70.0Z" fill="none" stroke="#000" stroke-width="0.7"/>
<path d="M169.9,66.9 L169.5,66.9 L169.2,66.7 L169.0,66.4 L168.9,66.0 L168.9,65.5 L168.9,65.0 L168.9,64.5 L169.0,64.1 L169.1,63.7 L169.3,63.4 L169.4,63.1 L169.6,62.7 L169.9,62.5 L170.1,62.2 L170.4,62.1 L170.9,62.1 L171.2,62.3 L171.3,62.6 L171.5,63.0 L171.5,63.5 L171.5,63.9 L171.5,64.3 L171.4,64.7 L171.3,65.1 L171.2,65.5 L171.0,65.8 L170.8,66.1 L170.6,66.4 L170.4,66.7 L170.0,66.9Z" fill="none" stroke="#000" stroke-width="0.7"/>
<radialGradient id="rg2_2" gradientUnits="userSpaceOnUse" cx="170.2" cy="98.5" r="9.0" gradientTransform="translate(170.2,98.5) rotate(0.0) scale(1,1.8333) translate(-170.2,-98.5)"><stop offset="0.000" stop-color="#141414"/><stop offset="0.170" stop-color="#141414"/><stop offset="0.174" stop-color="#f8f8f8"/><stop offset="0.177" stop-color="#f8f8f8"/><stop offset="0.188" stop-color="#8c8c8c"/><stop offset="0.196" stop-color="#2c2c2c"/><stop offset="0.200" stop-color="#f8f8f8"/><stop offset="0.247" stop-color="#f8f8f8"/><stop offset="0.312" stop-color="#8c8c8c"/><stop offset="0.383" stop-color="#2c2c2c"/><stop offset="0.387" stop-color="#f8f8f8"/><stop offset="0.434" stop-color="#f8f8f8"/><stop offset="0.500" stop-color="#8c8c8c"/><stop offset="0.571" stop-color="#2c2c2c"/><stop offset="0.575" stop-color="#f8f8f8"/><stop offset="0.622" stop-color="#f8f8f8"/><stop offset="0.688" stop-color="#8c8c8c"/><stop offset="0.758" stop-color="#2c2c2c"/><stop offset="0.762" stop-color="#f8f8f8"/><stop offset="0.809" stop-color="#f8f8f8"/><stop offset="0.875" stop-color="#8c8c8c"/><stop offset="0.946" stop-color="#2c2c2c"/><stop offset="0.950" stop-color="#f8f8f8"/><stop offset="1.000" stop-color="#a0a0a0"/></radialGradient>
<path d="M171.0,114.1 L170.5,114.2 L170.0,114.2 L169.5,114.1 L169.1,114.1 L168.7,113.9 L168.3,113.8 L168.0,113.7 L167.7,113.5 L167.4,113.3 L167.1,113.1 L166.8,112.9 L166.5,112.7 L166.2,112.4 L166.0,112.2 L165.8,111.9 L165.5,111.6 L165.3,111.4 L165.1,111.1 L164.9,110.8 L164.7,110.5 L164.5,110.2 L164.3,109.9 L164.1,109.6 L163.9,109.2 L163.8,108.9 L163.6,108.6 L163.5,108.2 L163.3,107.9 L163.2,107.5 L163.0,107.1 L162.9,106.8 L162.8,106.4 L162.7,106.0 L162.6,105.6 L162.5,105.2 L162.4,104.8 L162.3,104.4 L162.2,104.0 L162.1,103.6 L162.0,103.2 L162.0,102.7 L161.9,102.3 L161.8,101.8 L161.8,101.4 L161.7,100.9 L161.7,100.5 L161.7,100.0 L161.7,99.5 L161.7,99.0 L161.7,98.5 L161.7,98.0 L161.7,97.5 L161.7,97.0 L161.7,96.5 L161.8,96.1 L161.8,95.6 L161.8,95.2 L161.9,94.7 L162.0,94.3 L162.0,93.8 L162.1,93.4 L162.2,93.0 L162.3,92.6 L162.4,92.2 L162.5,91.8 L162.6,91.4 L162.7,91.0 L162.8,90.6 L162.9,90.2 L163.1,89.9 L163.2,89.5 L163.3,89.1 L163.5,88.8 L163.6,88.4 L163.8,88.1 L164.0,87.8 L164.1,87.4 L164.3,87.1 L164.5,86.8 L164.7,86.5 L164.9,86.2 L165.1,85.9 L165.3,85.6 L165.5,85.4 L165.8,85.1 L166.0,84.8 L166.3,84.6 L166.5,84.3 L166.8,84.1 L167.1,83.9 L167.4,83.7 L167.7,83.5 L168.0,83.3 L168.4,83.2 L168.7,83.1 L169.1,82.9 L169.5,82.9 L170.0,82.8 L170.5,82.8 L171.0,82.9 L171.4,83.0 L171.8,83.1 L172.1,83.2 L172.5,83.4 L172.8,83.6 L173.1,83.8 L173.4,84.0 L173.7,84.2 L173.9,84.4 L174.2,84.7 L174.4,84.9 L174.7,85.2 L174.9,85.5 L175.1,85.7 L175.4,86.0 L175.6,86.3 L175.7,86.6 L175.9,87.0 L175.9,87.4 L176.1,87.8 L176.1,88.3 L176.2,88.7 L176.3,89.1 L176.3,89.5 L176.4,90.0 L176.5,90.4 L176.5,90.8 L176.6,91.3 L176.7,91.7 L176.7,92.1 L176.8,92.6 L176.9,93.0 L176.9,93.5 L177.0,93.9 L177.0,94.3 L177.1,94.8 L177.2,95.2 L177.2,95.7 L177.3,96.1 L177.3,96.5 L177.4,97.0 L177.5,97.4 L177.5,97.9 L177.6,98.3 L177.6,98.8 L177.6,99.2 L177.7,99.7 L177.7,100.2 L177.7,100.7 L177.7,101.2 L177.7,101.7 L177.7,102.2 L177.7,102.7 L177.7,103.2 L177.7,103.7 L177.7,104.2 L177.6,104.6 L177.5,105.0 L177.5,105.5 L177.4,106.0 L177.4,106.4 L177.3,106.8 L177.2,107.2 L177.1,107.6 L177.0,108.0 L176.8,108.4 L176.7,108.7 L176.5,109.0 L176.3,109.4 L176.2,109.7 L176.0,110.0 L175.8,110.3 L175.6,110.6 L175.4,110.9 L175.2,111.2 L175.0,111.5 L174.7,111.8 L174.5,112.0 L174.3,112.3 L174.0,112.5 L173.7,112.8 L173.5,113.0 L173.2,113.2 L172.9,113.4 L172.5,113.6 L172.2,113.7 L171.8,113.9 L171.5,114.0 L171.1,114.1Z" fill="url(#rg2_2)" stroke="none"/>
<path d="M171.0,114.1 L170.5,114.2 L170.0,114.2 L169.5,114.1 L169.1,114.1 L168.7,113.9 L168.3,113.8 L168.0,113.7 L167.7,113.5 L167.4,113.3 L167.1,113.1 L166.8,112.9 L166.5,112.7 L166.2,112.4 L166.0,112.2 L165.8,111.9 L165.5,111.6 L165.3,111.4 L165.1,111.1 L164.9,110.8 L164.7,110.5 L164.5,110.2 L164.3,109.9 L164.1,109.6 L163.9,109.2 L163.8,108.9 L163.6,108.6 L163.5,108.2 L163.3,107.9 L163.2,107.5 L163.0,107.1 L162.9,106.8 L162.8,106.4 L162.7,106.0 L162.6,105.6 L162.5,105.2 L162.4,104.8 L162.3,104.4 L162.2,104.0 L162.1,103.6 L162.0,103.2 L162.0,102.7 L161.9,102.3 L161.8,101.8 L161.8,101.4 L161.7,100.9 L161.7,100.5 L161.7,100.0 L161.7,99.5 L161.7,99.0 L161.7,98.5 L161.7,98.0 L161.7,97.5 L161.7,97.0 L161.7,96.5 L161.8,96.1 L161.8,95.6 L161.8,95.2 L161.9,94.7 L162.0,94.3 L162.0,93.8 L162.1,93.4 L162.2,93.0 L162.3,92.6 L162.4,92.2 L162.5,91.8 L162.6,91.4 L162.7,91.0 L162.8,90.6 L162.9,90.2 L163.1,89.9 L163.2,89.5 L163.3,89.1 L163.5,88.8 L163.6,88.4 L163.8,88.1 L164.0,87.8 L164.1,87.4 L164.3,87.1 L164.5,86.8 L164.7,86.5 L164.9,86.2 L165.1,85.9 L165.3,85.6 L165.5,85.4 L165.8,85.1 L166.0,84.8 L166.3,84.6 L166.5,84.3 L166.8,84.1 L167.1,83.9 L167.4,83.7 L167.7,83.5 L168.0,83.3 L168.4,83.2 L168.7,83.1 L169.1,82.9 L169.5,82.9 L170.0,82.8 L170.5,82.8 L171.0,82.9 L171.4,83.0 L171.8,83.1 L172.1,83.2 L172.5,83.4 L172.8,83.6 L173.1,83.8 L173.4,84.0 L173.7,84.2 L173.9,84.4 L174.2,84.7 L174.4,84.9 L174.7,85.2 L174.9,85.5 L175.1,85.7 L175.4,86.0 L175.6,86.3 L175.7,86.6 L175.9,87.0 L175.9,87.4 L176.1,87.8 L176.1,88.3 L176.2,88.7 L176.3,89.1 L176.3,89.5 L176.4,90.0 L176.5,90.4 L176.5,90.8 L176.6,91.3 L176.7,91.7 L176.7,92.1 L176.8,92.6 L176.9,93.0 L176.9,93.5 L177.0,93.9 L177.0,94.3 L177.1,94.8 L177.2,95.2 L177.2,95.7 L177.3,96.1 L177.3,96.5 L177.4,97.0 L177.5,97.4 L177.5,97.9 L177.6,98.3 L177.6,98.8 L177.6,99.2 L177.7,99.7 L177.7,100.2 L177.7,100.7 L177.7,101.2 L177.7,101.7 L177.7,102.2 L177.7,102.7 L177.7,103.2 L177.7,103.7 L177.7,104.2 L177.6,104.6 L177.5,105.0 L177.5,105.5 L177.4,106.0 L177.4,106.4 L177.3,106.8 L177.2,107.2 L177.1,107.6 L177.0,108.0 L176.8,108.4 L176.7,108.7 L176.5,109.0 L176.3,109.4 L176.2,109.7 L176.0,110.0 L175.8,110.3 L175.6,110.6 L175.4,110.9 L175.2,111.2 L175.0,111.5 L174.7,111.8 L174.5,112.0 L174.3,112.3 L174.0,112.5 L173.7,112.8 L173.5,113.0 L173.2,113.2 L172.9,113.4 L172.5,113.6 L172.2,113.7 L171.8,113.9 L171.5,114.0 L171.1,114.1Z" fill="none" stroke="#000" stroke-width="0.7"/>
<path d="M170.9,111.0 L170.4,111.1 L169.9,111.1 L169.4,111.0 L169.0,110.9 L168.7,110.8 L168.3,110.6 L168.0,110.4 L167.7,110.2 L167.4,110.0 L167.2,109.8 L166.9,109.6 L166.7,109.3 L166.4,109.0 L166.2,108.8 L166.0,108.5 L165.8,108.2 L165.6,107.9 L165.4,107.6 L165.2,107.2 L165.1,106.9 L164.9,106.6 L164.8,106.2 L164.6,105.9 L164.5,105.5 L164.4,105.1 L164.2,104.7 L164.1,104.4 L164.0,104.0 L163.9,103.6 L163.8,103.2 L163.7,102.8 L163.7,102.3 L163.6,101.9 L163.5,101.5 L163.5,101.0 L163.4,100.6 L163.4,100.1 L163.4,99.6 L163.3,99.1 L163.3,98.7 L163.3,98.2 L163.3,97.8 L163.4,97.3 L163.4,96.8 L163.4,96.3 L163.5,95.9 L163.5,95.5 L163.6,95.0 L163.7,94.6 L163.8,94.2 L163.8,93.8 L163.9,93.3 L164.0,93.0 L164.1,92.6 L164.3,92.2 L164.4,91.8 L164.5,91.4 L164.7,91.1 L164.8,90.7 L165.0,90.4 L165.1,90.0 L165.3,89.7 L165.5,89.4 L165.6,89.1 L165.8,88.8 L166.0,88.5 L166.3,88.2 L166.5,87.9 L166.7,87.6 L167.0,87.4 L167.2,87.1 L167.5,86.9 L167.8,86.7 L168.1,86.5 L168.4,86.3 L168.8,86.2 L169.1,86.1 L169.5,86.0 L170.0,85.9 L170.5,85.9 L170.9,86.0 L171.3,86.1 L171.7,86.2 L172.1,86.4 L172.4,86.6 L172.7,86.8 L173.0,87.0 L173.2,87.2 L173.5,87.5 L173.7,87.7 L174.0,88.0 L174.2,88.3 L174.4,88.6 L174.6,88.9 L174.8,89.2 L175.0,89.5 L175.2,89.8 L175.3,90.2 L175.5,90.5 L175.6,90.8 L175.8,91.2 L175.9,91.6 L176.0,91.9 L176.2,92.3 L176.3,92.7 L176.4,93.1 L176.5,93.5 L176.6,93.9 L176.6,94.4 L176.7,94.8 L176.7,95.2 L176.8,95.7 L176.9,96.1 L176.9,96.6 L177.0,97.0 L177.0,97.5 L177.0,97.9 L177.1,98.4 L177.1,98.9 L177.0,99.4 L177.0,99.8 L177.0,100.3 L176.9,100.8 L176.9,101.2 L176.8,101.7 L176.8,102.1 L176.7,102.5 L176.6,102.9 L176.5,103.3 L176.4,103.7 L176.3,104.1 L176.2,104.5 L176.1,104.9 L176.0,105.3 L175.8,105.7 L175.7,106.0 L175.5,106.4 L175.4,106.7 L175.2,107.0 L175.1,107.4 L174.9,107.7 L174.7,108.0 L174.5,108.3 L174.3,108.6 L174.1,108.9 L173.8,109.2 L173.6,109.4 L173.3,109.7 L173.1,109.9 L172.8,110.1 L172.5,110.3 L172.2,110.5 L171.9,110.7 L171.5,110.8 L171.1,111.0Z" fill="none" stroke="#000" stroke-width="0.7"/>
<path d="M170.8,107.9 L170.3,108.0 L169.8,108.0 L169.4,107.9 L169.0,107.7 L168.7,107.6 L168.4,107.4 L168.1,107.2 L167.8,106.9 L167.6,106.7 L167.3,106.4 L167.1,106.2 L166.9,105.9 L166.7,105.6 L166.5,105.2 L166.4,104.9 L166.2,104.6 L166.1,104.2 L165.9,103.9 L165.8,103.5 L165.7,103.1 L165.6,102.7 L165.5,102.3 L165.4,101.9 L165.3,101.5 L165.2,101.1 L165.2,100.6 L165.1,100.2 L165.1,99.7 L165.0,99.2 L165.0,98.8 L165.0,98.3 L165.0,97.8 L165.1,97.4 L165.1,96.9 L165.1,96.5 L165.2,96.0 L165.3,95.6 L165.4,95.2 L165.4,94.8 L165.5,94.4 L165.6,94.0 L165.8,93.6 L165.9,93.2 L166.0,92.9 L166.2,92.5 L166.3,92.2 L166.5,91.8 L166.7,91.5 L166.9,91.2 L167.1,90.9 L167.3,90.6 L167.5,90.4 L167.8,90.1 L168.0,89.9 L168.3,89.6 L168.6,89.5 L169.0,89.3 L169.3,89.1 L169.7,89.0 L170.2,89.0 L170.7,89.1 L171.1,89.2 L171.4,89.3 L171.8,89.5 L172.1,89.7 L172.4,89.9 L172.6,90.1 L172.9,90.4 L173.1,90.7 L173.3,91.0 L173.5,91.3 L173.7,91.6 L173.9,91.9 L174.1,92.2 L174.2,92.6 L174.4,92.9 L174.5,93.3 L174.6,93.6 L174.8,94.0 L174.9,94.4 L175.0,94.8 L175.0,95.2 L175.1,95.7 L175.2,96.1 L175.3,96.5 L175.3,97.0 L175.3,97.4 L175.4,97.9 L175.4,98.4 L175.4,98.9 L175.4,99.4 L175.3,99.8 L175.3,100.3 L175.2,100.7 L175.2,101.2 L175.1,101.6 L175.0,102.0 L174.9,102.4 L174.8,102.8 L174.7,103.2 L174.6,103.6 L174.4,103.9 L174.3,104.3 L174.1,104.6 L174.0,105.0 L173.8,105.3 L173.6,105.6 L173.4,105.9 L173.2,106.2 L173.0,106.5 L172.7,106.8 L172.5,107.0 L172.2,107.2 L171.9,107.4 L171.6,107.6 L171.2,107.8 L170.9,107.9Z" fill="none" stroke="#000" stroke-width="0.7"/>
<path d="M170.2,104.9 L169.8,104.9 L169.4,104.7 L169.1,104.6 L168.8,104.4 L168.5,104.1 L168.3,103.9 L168.1,103.6 L167.9,103.3 L167.7,103.0 L167.5,102.6 L167.4,102.3 L167.2,101.9 L167.1,101.6 L167.0,101.2 L166.9,100.8 L166.9,100.3 L166.8,99.9 L166.7,99.4 L166.7,99.0 L166.7,98.5 L166.7,98.0 L166.7,97.6 L166.8,97.1 L166.9,96.7 L166.9,96.2 L167.0,95.8 L167.1,95.4 L167.2,95.1 L167.4,94.7 L167.5,94.4 L167.7,94.0 L167.9,93.7 L168.1,93.4 L168.3,93.1 L168.5,92.9 L168.8,92.6 L169.1,92.4 L169.4,92.3 L169.8,92.1 L170.3,92.1 L170.8,92.2 L171.1,92.3 L171.4,92.5 L171.7,92.8 L172.0,93.0 L172.2,93.3 L172.4,93.6 L172.6,93.9 L172.8,94.2 L172.9,94.5 L173.1,94.9 L173.2,95.3 L173.3,95.7 L173.4,96.1 L173.5,96.5 L173.6,96.9 L173.6,97.4 L173.7,97.8 L173.7,98.3 L173.7,98.8 L173.7,99.3 L173.6,99.7 L173.6,100.2 L173.5,100.6 L173.4,101.0 L173.3,101.4 L173.2,101.8 L173.0,102.2 L172.9,102.5 L172.7,102.9 L172.6,103.2 L172.4,103.5 L172.2,103.8 L171.9,104.0 L171.7,104.3 L171.4,104.5 L171.1,104.7 L170.7,104.8 L170.3,104.9Z" fill="none" stroke="#000" stroke-width="0.7"/>
<path d="M170.2,101.8 L169.8,101.7 L169.5,101.6 L169.2,101.3 L169.0,101.0 L168.9,100.7 L168.7,100.4 L168.6,100.0 L168.5,99.6 L168.4,99.2 L168.4,98.7 L168.4,98.2 L168.4,97.8 L168.5,97.3 L168.6,96.9 L168.7,96.6 L168.9,96.2 L169.1,95.9 L169.3,95.6 L169.6,95.4 L169.9,95.2 L170.4,95.2 L170.8,95.4 L171.0,95.6 L171.3,95.9 L171.5,96.2 L171.6,96.5 L171.8,96.9 L171.9,97.3 L171.9,97.7 L172.0,98.2 L172.0,98.7 L172.0,99.2 L171.9,99.6 L171.8,100.0 L171.7,100.4 L171.5,100.7 L171.3,101.1 L171.1,101.3 L170.8,101.6 L170.5,101.7Z" fill="none" stroke="#000" stroke-width="0.7"/>
</g>
<path d="M176.00,49.20 C176.88,49.62 177.43,51.20 177.80,53.00 C178.17,54.80 178.20,57.50 178.20,60.00 C178.20,62.50 178.03,65.33 177.80,68.00 C177.57,70.67 177.10,73.67 176.80,76.00 C176.50,78.33 176.03,79.67 176.00,82.00 C175.97,84.33 176.30,87.00 176.60,90.00 C176.90,93.00 177.63,97.00 177.80,100.00 C177.97,103.00 177.87,105.58 177.60,108.00 C177.33,110.42 176.77,112.62 176.20,114.50 C175.63,116.38 175.32,118.88 174.20,119.30 C173.08,119.72 171.53,118.13 169.50,117.00 C167.47,115.87 164.08,113.83 162.00,112.50 C159.92,111.17 158.33,110.17 157.00,109.00 C155.67,107.83 154.67,106.67 154.00,105.50 C153.33,104.33 152.75,103.17 153.00,102.00 C153.25,100.83 154.42,99.92 155.50,98.50 C156.58,97.08 158.42,95.25 159.50,93.50 C160.58,91.75 161.58,89.92 162.00,88.00 C162.42,86.08 162.13,84.17 162.00,82.00 C161.87,79.83 161.23,77.50 161.20,75.00 C161.17,72.50 161.33,69.50 161.80,67.00 C162.27,64.50 162.97,62.08 164.00,60.00 C165.03,57.92 166.58,56.08 168.00,54.50 C169.42,52.92 171.17,51.38 172.50,50.50 C173.83,49.62 175.12,48.78 176.00,49.20 Z" fill="none" stroke="#000" stroke-width="1.5"/>
<ellipse cx="138.5" cy="103" rx="2.8" ry="3.5" fill="#000"/>
<ellipse cx="140.8" cy="101.2" rx="1.6" ry="1.4" fill="#000"/>
<ellipse cx="145.8" cy="101.1" rx="1.15" ry="1.0" fill="#000"/>
<ellipse cx="153.8" cy="101.3" rx="1.9" ry="3.2" fill="#000"/>
<clipPath id="cp3"><path d="M251.90,58.80 C252.62,58.72 253.48,59.55 254.00,60.50 C254.52,61.45 254.58,62.92 255.00,64.50 C255.42,66.08 256.12,67.42 256.50,70.00 C256.88,72.58 257.00,76.67 257.30,80.00 C257.60,83.33 258.02,86.67 258.30,90.00 C258.58,93.33 258.87,96.67 259.00,100.00 C259.13,103.33 259.30,107.00 259.10,110.00 C258.90,113.00 258.48,115.80 257.80,118.00 C257.12,120.20 256.55,123.12 255.00,123.20 C253.45,123.28 251.00,120.28 248.50,118.50 C246.00,116.72 242.58,114.42 240.00,112.50 C237.42,110.58 234.75,108.28 233.00,107.00 C231.25,105.72 229.67,105.88 229.50,104.80 C229.33,103.72 230.67,102.30 232.00,100.50 C233.33,98.70 235.75,96.75 237.50,94.00 C239.25,91.25 241.42,87.50 242.50,84.00 C243.58,80.50 243.33,75.75 244.00,73.00 C244.67,70.25 245.62,68.80 246.50,67.50 C247.38,66.20 248.77,66.28 249.30,65.20 C249.83,64.12 249.27,62.07 249.70,61.00 C250.13,59.93 251.18,58.88 251.90,58.80 Z"/></clipPath>
<path d="M251.90,58.80 C252.62,58.72 253.48,59.55 254.00,60.50 C254.52,61.45 254.58,62.92 255.00,64.50 C255.42,66.08 256.12,67.42 256.50,70.00 C256.88,72.58 257.00,76.67 257.30,80.00 C257.60,83.33 258.02,86.67 258.30,90.00 C258.58,93.33 258.87,96.67 259.00,100.00 C259.13,103.33 259.30,107.00 259.10,110.00 C258.90,113.00 258.48,115.80 257.80,118.00 C257.12,120.20 256.55,123.12 255.00,123.20 C253.45,123.28 251.00,120.28 248.50,118.50 C246.00,116.72 242.58,114.42 240.00,112.50 C237.42,110.58 234.75,108.28 233.00,107.00 C231.25,105.72 229.67,105.88 229.50,104.80 C229.33,103.72 230.67,102.30 232.00,100.50 C233.33,98.70 235.75,96.75 237.50,94.00 C239.25,91.25 241.42,87.50 242.50,84.00 C243.58,80.50 243.33,75.75 244.00,73.00 C244.67,70.25 245.62,68.80 246.50,67.50 C247.38,66.20 248.77,66.28 249.30,65.20 C249.83,64.12 249.27,62.07 249.70,61.00 C250.13,59.93 251.18,58.88 251.90,58.80 Z" fill="#a0a0a0" stroke="none"/>
<g clip-path="url(#cp3)">
<path d="M251.90,58.80 C252.62,58.72 253.48,59.55 254.00,60.50 C254.52,61.45 254.58,62.92 255.00,64.50 C255.42,66.08 256.12,67.42 256.50,70.00 C256.88,72.58 257.00,76.67 257.30,80.00 C257.60,83.33 258.02,86.67 258.30,90.00 C258.58,93.33 258.87,96.67 259.00,100.00 C259.13,103.33 259.30,107.00 259.10,110.00 C258.90,113.00 258.48,115.80 257.80,118.00 C257.12,120.20 256.55,123.12 255.00,123.20 C253.45,123.28 251.00,120.28 248.50,118.50 C246.00,116.72 242.58,114.42 240.00,112.50 C237.42,110.58 234.75,108.28 233.00,107.00 C231.25,105.72 229.67,105.88 229.50,104.80 C229.33,103.72 230.67,102.30 232.00,100.50 C233.33,98.70 235.75,96.75 237.50,94.00 C239.25,91.25 241.42,87.50 242.50,84.00 C243.58,80.50 243.33,75.75 244.00,73.00 C244.67,70.25 245.62,68.80 246.50,67.50 C247.38,66.20 248.77,66.28 249.30,65.20 C249.83,64.12 249.27,62.07 249.70,61.00 C250.13,59.93 251.18,58.88 251.90,58.80 Z" fill="none" stroke="#f4f4f4" stroke-width="3.2"/>
<path d="M251.90,58.80 C252.62,58.72 253.48,59.55 254.00,60.50 C254.52,61.45 254.58,62.92 255.00,64.50 C255.42,66.08 256.12,67.42 256.50,70.00 C256.88,72.58 257.00,76.67 257.30,80.00 C257.60,83.33 258.02,86.67 258.30,90.00 C258.58,93.33 258.87,96.67 259.00,100.00 C259.13,103.33 259.30,107.00 259.10,110.00 C258.90,113.00 258.48,115.80 257.80,118.00 C257.12,120.20 256.55,123.12 255.00,123.20 C253.45,123.28 251.00,120.28 248.50,118.50 C246.00,116.72 242.58,114.42 240.00,112.50 C237.42,110.58 234.75,108.28 233.00,107.00 C231.25,105.72 229.67,105.88 229.50,104.80 C229.33,103.72 230.67,102.30 232.00,100.50 C233.33,98.70 235.75,96.75 237.50,94.00 C239.25,91.25 241.42,87.50 242.50,84.00 C243.58,80.50 243.33,75.75 244.00,73.00 C244.67,70.25 245.62,68.80 246.50,67.50 C247.38,66.20 248.77,66.28 249.30,65.20 C249.83,64.12 249.27,62.07 249.70,61.00 C250.13,59.93 251.18,58.88 251.90,58.80 Z" fill="none" stroke="#d8d8d8" stroke-width="5.5" opacity="0.6"/>
<radialGradient id="rg3_1" cx="0.5" cy="0.5" r="0.5"><stop offset="0" stop-color="#303030"/><stop offset="0.5" stop-color="#555"/><stop offset="0.85" stop-color="#999"/><stop offset="1" stop-color="#a0a0a0" stop-opacity="0"/></radialGradient>
<ellipse cx="251.3" cy="77" rx="7" ry="12" fill="url(#rg3_1)"/>
<radialGradient id="rg3_2" gradientUnits="userSpaceOnUse" cx="250.2" cy="99" r="7.8" gradientTransform="translate(250.2,99) rotate(0.0) scale(1,1.8590) translate(-250.2,-99)"><stop offset="0.000" stop-color="#141414"/><stop offset="0.170" stop-color="#141414"/><stop offset="0.174" stop-color="#f8f8f8"/><stop offset="0.177" stop-color="#f8f8f8"/><stop offset="0.188" stop-color="#8c8c8c"/><stop offset="0.196" stop-color="#2c2c2c"/><stop offset="0.200" stop-color="#f8f8f8"/><stop offset="0.262" stop-color="#f8f8f8"/><stop offset="0.350" stop-color="#8c8c8c"/><stop offset="0.446" stop-color="#2c2c2c"/><stop offset="0.450" stop-color="#f8f8f8"/><stop offset="0.512" stop-color="#f8f8f8"/><stop offset="0.600" stop-color="#8c8c8c"/><stop offset="0.696" stop-color="#2c2c2c"/><stop offset="0.700" stop-color="#f8f8f8"/><stop offset="0.762" stop-color="#f8f8f8"/><stop offset="0.850" stop-color="#8c8c8c"/><stop offset="0.946" stop-color="#2c2c2c"/><stop offset="0.950" stop-color="#f8f8f8"/><stop offset="1.000" stop-color="#a0a0a0"/></radialGradient>
<path d="M250.9,112.7 L250.4,112.8 L249.9,112.8 L249.4,112.7 L249.0,112.6 L248.7,112.5 L248.3,112.3 L248.0,112.1 L247.7,112.0 L247.4,111.7 L247.1,111.5 L246.9,111.3 L246.6,111.0 L246.4,110.8 L246.1,110.5 L245.9,110.2 L245.7,109.9 L245.5,109.6 L245.3,109.3 L245.1,109.0 L244.9,108.7 L244.8,108.4 L244.6,108.0 L244.5,107.7 L244.3,107.3 L244.2,107.0 L244.0,106.6 L243.9,106.2 L243.8,105.9 L243.7,105.5 L243.6,105.1 L243.5,104.7 L243.4,104.3 L243.3,103.9 L243.2,103.5 L243.1,103.0 L243.0,102.6 L243.0,102.2 L242.9,101.7 L242.9,101.2 L242.9,100.8 L242.8,100.3 L242.8,99.8 L242.8,99.3 L242.8,98.8 L242.8,98.3 L242.8,97.8 L242.8,97.3 L242.9,96.8 L242.9,96.4 L243.0,95.9 L243.0,95.5 L243.1,95.1 L243.2,94.6 L243.3,94.2 L243.3,93.8 L243.4,93.4 L243.5,93.0 L243.6,92.6 L243.8,92.2 L243.9,91.8 L244.0,91.5 L244.1,91.1 L244.3,90.7 L244.4,90.4 L244.6,90.0 L244.7,89.7 L244.9,89.4 L245.1,89.0 L245.3,88.7 L245.5,88.4 L245.7,88.1 L245.9,87.8 L246.1,87.5 L246.3,87.3 L246.6,87.0 L246.8,86.8 L247.1,86.5 L247.3,86.3 L247.6,86.1 L247.9,85.9 L248.3,85.7 L248.6,85.6 L249.0,85.4 L249.4,85.3 L249.8,85.2 L250.3,85.2 L250.8,85.3 L251.2,85.3 L251.6,85.5 L251.9,85.6 L252.3,85.8 L252.6,86.0 L252.9,86.2 L253.2,86.4 L253.4,86.6 L253.7,86.8 L253.9,87.1 L254.2,87.4 L254.4,87.6 L254.6,87.9 L254.8,88.2 L255.0,88.5 L255.2,88.8 L255.4,89.2 L255.6,89.5 L255.7,89.8 L255.9,90.2 L256.0,90.5 L256.2,90.9 L256.3,91.2 L256.4,91.6 L256.6,92.0 L256.7,92.3 L256.8,92.7 L256.9,93.1 L257.0,93.5 L257.1,93.9 L257.2,94.4 L257.3,94.8 L257.3,95.2 L257.4,95.7 L257.4,96.1 L257.5,96.5 L257.5,97.0 L257.6,97.5 L257.6,98.0 L257.6,98.4 L257.6,98.9 L257.6,99.4 L257.6,99.9 L257.6,100.3 L257.5,100.8 L257.5,101.3 L257.5,101.7 L257.4,102.2 L257.4,102.6 L257.3,103.0 L257.2,103.5 L257.1,103.9 L257.0,104.3 L256.9,104.7 L256.8,105.1 L256.7,105.5 L256.6,105.9 L256.5,106.3 L256.4,106.6 L256.2,107.0 L256.1,107.4 L255.9,107.7 L255.8,108.0 L255.6,108.4 L255.5,108.7 L255.3,109.0 L255.1,109.4 L254.9,109.7 L254.7,110.0 L254.5,110.2 L254.3,110.5 L254.0,110.8 L253.8,111.1 L253.5,111.3 L253.3,111.5 L253.0,111.8 L252.7,112.0 L252.4,112.2 L252.1,112.3 L251.7,112.5 L251.4,112.6 L251.0,112.7Z" fill="url(#rg3_2)" stroke="none"/>
<path d="M250.9,112.7 L250.4,112.8 L249.9,112.8 L249.4,112.7 L249.0,112.6 L248.7,112.5 L248.3,112.3 L248.0,112.1 L247.7,112.0 L247.4,111.7 L247.1,111.5 L246.9,111.3 L246.6,111.0 L246.4,110.8 L246.1,110.5 L245.9,110.2 L245.7,109.9 L245.5,109.6 L245.3,109.3 L245.1,109.0 L244.9,108.7 L244.8,108.4 L244.6,108.0 L244.5,107.7 L244.3,107.3 L244.2,107.0 L244.0,106.6 L243.9,106.2 L243.8,105.9 L243.7,105.5 L243.6,105.1 L243.5,104.7 L243.4,104.3 L243.3,103.9 L243.2,103.5 L243.1,103.0 L243.0,102.6 L243.0,102.2 L242.9,101.7 L242.9,101.2 L242.9,100.8 L242.8,100.3 L242.8,99.8 L242.8,99.3 L242.8,98.8 L242.8,98.3 L242.8,97.8 L242.8,97.3 L242.9,96.8 L242.9,96.4 L243.0,95.9 L243.0,95.5 L243.1,95.1 L243.2,94.6 L243.3,94.2 L243.3,93.8 L243.4,93.4 L243.5,93.0 L243.6,92.6 L243.8,92.2 L243.9,91.8 L244.0,91.5 L244.1,91.1 L244.3,90.7 L244.4,90.4 L244.6,90.0 L244.7,89.7 L244.9,89.4 L245.1,89.0 L245.3,88.7 L245.5,88.4 L245.7,88.1 L245.9,87.8 L246.1,87.5 L246.3,87.3 L246.6,87.0 L246.8,86.8 L247.1,86.5 L247.3,86.3 L247.6,86.1 L247.9,85.9 L248.3,85.7 L248.6,85.6 L249.0,85.4 L249.4,85.3 L249.8,85.2 L250.3,85.2 L250.8,85.3 L251.2,85.3 L251.6,85.5 L251.9,85.6 L252.3,85.8 L252.6,86.0 L252.9,86.2 L253.2,86.4 L253.4,86.6 L253.7,86.8 L253.9,87.1 L254.2,87.4 L254.4,87.6 L254.6,87.9 L254.8,88.2 L255.0,88.5 L255.2,88.8 L255.4,89.2 L255.6,89.5 L255.7,89.8 L255.9,90.2 L256.0,90.5 L256.2,90.9 L256.3,91.2 L256.4,91.6 L256.6,92.0 L256.7,92.3 L256.8,92.7 L256.9,93.1 L257.0,93.5 L257.1,93.9 L257.2,94.4 L257.3,94.8 L257.3,95.2 L257.4,95.7 L257.4,96.1 L257.5,96.5 L257.5,97.0 L257.6,97.5 L257.6,98.0 L257.6,98.4 L257.6,98.9 L257.6,99.4 L257.6,99.9 L257.6,100.3 L257.5,100.8 L257.5,101.3 L257.5,101.7 L257.4,102.2 L257.4,102.6 L257.3,103.0 L257.2,103.5 L257.1,103.9 L257.0,104.3 L256.9,104.7 L256.8,105.1 L256.7,105.5 L256.6,105.9 L256.5,106.3 L256.4,106.6 L256.2,107.0 L256.1,107.4 L255.9,107.7 L255.8,108.0 L255.6,108.4 L255.5,108.7 L255.3,109.0 L255.1,109.4 L254.9,109.7 L254.7,110.0 L254.5,110.2 L254.3,110.5 L254.0,110.8 L253.8,111.1 L253.5,111.3 L253.3,111.5 L253.0,111.8 L252.7,112.0 L252.4,112.2 L252.1,112.3 L251.7,112.5 L251.4,112.6 L251.0,112.7Z" fill="none" stroke="#000" stroke-width="0.7"/>
<path d="M250.7,109.1 L250.2,109.1 L249.7,109.1 L249.3,109.0 L249.0,108.9 L248.6,108.7 L248.3,108.5 L248.0,108.3 L247.8,108.1 L247.5,107.8 L247.3,107.6 L247.1,107.3 L246.8,107.0 L246.6,106.7 L246.5,106.4 L246.3,106.1 L246.1,105.7 L246.0,105.4 L245.8,105.0 L245.7,104.7 L245.5,104.3 L245.4,103.9 L245.3,103.5 L245.2,103.1 L245.1,102.7 L245.0,102.3 L245.0,101.9 L244.9,101.4 L244.8,101.0 L244.8,100.5 L244.8,100.1 L244.7,99.6 L244.7,99.1 L244.7,98.6 L244.8,98.1 L244.8,97.6 L244.8,97.2 L244.9,96.7 L244.9,96.3 L245.0,95.9 L245.1,95.4 L245.2,95.0 L245.3,94.6 L245.4,94.2 L245.5,93.9 L245.6,93.5 L245.8,93.1 L245.9,92.8 L246.1,92.4 L246.2,92.1 L246.4,91.7 L246.6,91.4 L246.8,91.1 L247.0,90.8 L247.2,90.5 L247.4,90.3 L247.7,90.0 L247.9,89.8 L248.2,89.6 L248.5,89.4 L248.8,89.2 L249.2,89.0 L249.6,88.9 L250.0,88.9 L250.5,88.9 L250.9,88.9 L251.3,89.1 L251.6,89.2 L252.0,89.4 L252.3,89.6 L252.5,89.8 L252.8,90.1 L253.0,90.3 L253.3,90.6 L253.5,90.9 L253.7,91.2 L253.9,91.5 L254.0,91.8 L254.2,92.1 L254.4,92.5 L254.5,92.8 L254.7,93.2 L254.8,93.5 L254.9,93.9 L255.0,94.3 L255.1,94.7 L255.2,95.1 L255.3,95.5 L255.4,95.9 L255.5,96.4 L255.5,96.8 L255.6,97.3 L255.6,97.7 L255.6,98.2 L255.7,98.7 L255.7,99.2 L255.6,99.7 L255.6,100.2 L255.6,100.6 L255.5,101.1 L255.5,101.5 L255.4,102.0 L255.3,102.4 L255.3,102.8 L255.2,103.2 L255.1,103.6 L255.0,104.0 L254.8,104.4 L254.7,104.8 L254.6,105.1 L254.4,105.5 L254.3,105.8 L254.1,106.1 L253.9,106.5 L253.7,106.8 L253.5,107.1 L253.3,107.4 L253.1,107.6 L252.8,107.9 L252.6,108.1 L252.3,108.4 L252.0,108.6 L251.7,108.8 L251.4,108.9 L251.0,109.0Z" fill="none" stroke="#000" stroke-width="0.7"/>
<path d="M250.5,105.5 L250.0,105.5 L249.6,105.4 L249.3,105.3 L249.0,105.1 L248.7,104.9 L248.4,104.6 L248.2,104.3 L248.0,104.1 L247.8,103.7 L247.6,103.4 L247.5,103.1 L247.3,102.7 L247.2,102.4 L247.1,102.0 L247.0,101.6 L246.9,101.2 L246.8,100.7 L246.8,100.3 L246.7,99.8 L246.7,99.3 L246.7,98.8 L246.7,98.3 L246.8,97.8 L246.8,97.4 L246.9,96.9 L247.0,96.5 L247.1,96.1 L247.2,95.7 L247.3,95.4 L247.4,95.0 L247.6,94.6 L247.8,94.3 L247.9,94.0 L248.2,93.7 L248.4,93.4 L248.6,93.2 L248.9,92.9 L249.2,92.8 L249.5,92.6 L249.9,92.5 L250.4,92.5 L250.8,92.6 L251.1,92.7 L251.4,92.9 L251.7,93.1 L252.0,93.4 L252.2,93.6 L252.4,93.9 L252.6,94.2 L252.8,94.6 L252.9,94.9 L253.1,95.3 L253.2,95.6 L253.3,96.0 L253.4,96.4 L253.5,96.8 L253.6,97.3 L253.6,97.7 L253.7,98.2 L253.7,98.6 L253.7,99.1 L253.7,99.6 L253.7,100.0 L253.6,100.5 L253.6,100.9 L253.5,101.3 L253.4,101.7 L253.3,102.1 L253.2,102.5 L253.0,102.9 L252.9,103.2 L252.7,103.6 L252.5,103.9 L252.3,104.2 L252.1,104.5 L251.9,104.7 L251.6,105.0 L251.3,105.2 L251.0,105.4 L250.6,105.5Z" fill="none" stroke="#000" stroke-width="0.7"/>
<path d="M250.2,101.9 L249.8,101.8 L249.5,101.6 L249.3,101.4 L249.1,101.0 L248.9,100.7 L248.8,100.3 L248.7,99.9 L248.7,99.5 L248.6,99.0 L248.7,98.5 L248.7,98.1 L248.8,97.7 L248.9,97.3 L249.1,97.0 L249.3,96.6 L249.5,96.4 L249.8,96.2 L250.3,96.1 L250.7,96.2 L251.0,96.5 L251.2,96.8 L251.4,97.1 L251.5,97.4 L251.6,97.8 L251.7,98.2 L251.8,98.7 L251.8,99.2 L251.7,99.7 L251.6,100.1 L251.5,100.5 L251.4,100.9 L251.2,101.2 L251.0,101.5 L250.8,101.7 L250.4,101.9Z" fill="none" stroke="#000" stroke-width="0.7"/>
</g>
<path d="M251.90,58.80 C252.62,58.72 253.48,59.55 254.00,60.50 C254.52,61.45 254.58,62.92 255.00,64.50 C255.42,66.08 256.12,67.42 256.50,70.00 C256.88,72.58 257.00,76.67 257.30,80.00 C257.60,83.33 258.02,86.67 258.30,90.00 C258.58,93.33 258.87,96.67 259.00,100.00 C259.13,103.33 259.30,107.00 259.10,110.00 C258.90,113.00 258.48,115.80 257.80,118.00 C257.12,120.20 256.55,123.12 255.00,123.20 C253.45,123.28 251.00,120.28 248.50,118.50 C246.00,116.72 242.58,114.42 240.00,112.50 C237.42,110.58 234.75,108.28 233.00,107.00 C231.25,105.72 229.67,105.88 229.50,104.80 C229.33,103.72 230.67,102.30 232.00,100.50 C233.33,98.70 235.75,96.75 237.50,94.00 C239.25,91.25 241.42,87.50 242.50,84.00 C243.58,80.50 243.33,75.75 244.00,73.00 C244.67,70.25 245.62,68.80 246.50,67.50 C247.38,66.20 248.77,66.28 249.30,65.20 C249.83,64.12 249.27,62.07 249.70,61.00 C250.13,59.93 251.18,58.88 251.90,58.80 Z" fill="none" stroke="#000" stroke-width="1.5"/>
<ellipse cx="231.8" cy="104.5" rx="3.0" ry="4.6" fill="#000"/>
<ellipse cx="252.2" cy="61.8" rx="1.9" ry="3.2" fill="#000"/>
<ellipse cx="223.6" cy="105.8" rx="1.9" ry="1.5" fill="#000"/>
<ellipse cx="219.7" cy="102.8" rx="0.9" ry="0.9" fill="#000"/>
<clipPath id="cp4"><path d="M335.50,50.40 C336.53,51.15 336.88,53.40 337.20,56.00 C337.52,58.60 337.50,62.67 337.40,66.00 C337.30,69.33 336.93,72.83 336.60,76.00 C336.27,79.17 335.45,81.83 335.40,85.00 C335.35,88.17 335.98,91.67 336.30,95.00 C336.62,98.33 337.30,102.08 337.30,105.00 C337.30,107.92 337.12,110.12 336.30,112.50 C335.48,114.88 334.28,118.63 332.40,119.30 C330.52,119.97 327.40,117.97 325.00,116.50 C322.60,115.03 320.08,112.17 318.00,110.50 C315.92,108.83 313.67,107.75 312.50,106.50 C311.33,105.25 310.83,104.58 311.00,103.00 C311.17,101.42 312.30,99.00 313.50,97.00 C314.70,95.00 317.18,93.00 318.20,91.00 C319.22,89.00 319.40,87.17 319.60,85.00 C319.80,82.83 319.28,80.50 319.40,78.00 C319.52,75.50 319.82,72.50 320.30,70.00 C320.78,67.50 321.35,65.17 322.30,63.00 C323.25,60.83 324.55,58.92 326.00,57.00 C327.45,55.08 329.42,52.60 331.00,51.50 C332.58,50.40 334.47,49.65 335.50,50.40 Z"/></clipPath>
<path d="M335.50,50.40 C336.53,51.15 336.88,53.40 337.20,56.00 C337.52,58.60 337.50,62.67 337.40,66.00 C337.30,69.33 336.93,72.83 336.60,76.00 C336.27,79.17 335.45,81.83 335.40,85.00 C335.35,88.17 335.98,91.67 336.30,95.00 C336.62,98.33 337.30,102.08 337.30,105.00 C337.30,107.92 337.12,110.12 336.30,112.50 C335.48,114.88 334.28,118.63 332.40,119.30 C330.52,119.97 327.40,117.97 325.00,116.50 C322.60,115.03 320.08,112.17 318.00,110.50 C315.92,108.83 313.67,107.75 312.50,106.50 C311.33,105.25 310.83,104.58 311.00,103.00 C311.17,101.42 312.30,99.00 313.50,97.00 C314.70,95.00 317.18,93.00 318.20,91.00 C319.22,89.00 319.40,87.17 319.60,85.00 C319.80,82.83 319.28,80.50 319.40,78.00 C319.52,75.50 319.82,72.50 320.30,70.00 C320.78,67.50 321.35,65.17 322.30,63.00 C323.25,60.83 324.55,58.92 326.00,57.00 C327.45,55.08 329.42,52.60 331.00,51.50 C332.58,50.40 334.47,49.65 335.50,50.40 Z" fill="#a0a0a0" stroke="none"/>
<g clip-path="url(#cp4)">
<path d="M335.50,50.40 C336.53,51.15 336.88,53.40 337.20,56.00 C337.52,58.60 337.50,62.67 337.40,66.00 C337.30,69.33 336.93,72.83 336.60,76.00 C336.27,79.17 335.45,81.83 335.40,85.00 C335.35,88.17 335.98,91.67 336.30,95.00 C336.62,98.33 337.30,102.08 337.30,105.00 C337.30,107.92 337.12,110.12 336.30,112.50 C335.48,114.88 334.28,118.63 332.40,119.30 C330.52,119.97 327.40,117.97 325.00,116.50 C322.60,115.03 320.08,112.17 318.00,110.50 C315.92,108.83 313.67,107.75 312.50,106.50 C311.33,105.25 310.83,104.58 311.00,103.00 C311.17,101.42 312.30,99.00 313.50,97.00 C314.70,95.00 317.18,93.00 318.20,91.00 C319.22,89.00 319.40,87.17 319.60,85.00 C319.80,82.83 319.28,80.50 319.40,78.00 C319.52,75.50 319.82,72.50 320.30,70.00 C320.78,67.50 321.35,65.17 322.30,63.00 C323.25,60.83 324.55,58.92 326.00,57.00 C327.45,55.08 329.42,52.60 331.00,51.50 C332.58,50.40 334.47,49.65 335.50,50.40 Z" fill="none" stroke="#f4f4f4" stroke-width="3.2"/>
<path d="M335.50,50.40 C336.53,51.15 336.88,53.40 337.20,56.00 C337.52,58.60 337.50,62.67 337.40,66.00 C337.30,69.33 336.93,72.83 336.60,76.00 C336.27,79.17 335.45,81.83 335.40,85.00 C335.35,88.17 335.98,91.67 336.30,95.00 C336.62,98.33 337.30,102.08 337.30,105.00 C337.30,107.92 337.12,110.12 336.30,112.50 C335.48,114.88 334.28,118.63 332.40,119.30 C330.52,119.97 327.40,117.97 325.00,116.50 C322.60,115.03 320.08,112.17 318.00,110.50 C315.92,108.83 313.67,107.75 312.50,106.50 C311.33,105.25 310.83,104.58 311.00,103.00 C311.17,101.42 312.30,99.00 313.50,97.00 C314.70,95.00 317.18,93.00 318.20,91.00 C319.22,89.00 319.40,87.17 319.60,85.00 C319.80,82.83 319.28,80.50 319.40,78.00 C319.52,75.50 319.82,72.50 320.30,70.00 C320.78,67.50 321.35,65.17 322.30,63.00 C323.25,60.83 324.55,58.92 326.00,57.00 C327.45,55.08 329.42,52.60 331.00,51.50 C332.58,50.40 334.47,49.65 335.50,50.40 Z" fill="none" stroke="#d8d8d8" stroke-width="5.5" opacity="0.6"/>
<radialGradient id="rg4_1" gradientUnits="userSpaceOnUse" cx="328.6" cy="65.5" r="6.4" gradientTransform="translate(328.6,65.5) rotate(16) scale(1,1.9531) translate(-328.6,-65.5)"><stop offset="0.000" stop-color="#f4f4f4"/><stop offset="0.110" stop-color="#e0e0e0"/><stop offset="0.200" stop-color="#202020"/><stop offset="0.204" stop-color="#f8f8f8"/><stop offset="0.200" stop-color="#f8f8f8"/><stop offset="0.200" stop-color="#8c8c8c"/><stop offset="0.196" stop-color="#2c2c2c"/><stop offset="0.200" stop-color="#f8f8f8"/><stop offset="0.262" stop-color="#f8f8f8"/><stop offset="0.350" stop-color="#8c8c8c"/><stop offset="0.446" stop-color="#2c2c2c"/><stop offset="0.450" stop-color="#f8f8f8"/><stop offset="0.512" stop-color="#f8f8f8"/><stop offset="0.600" stop-color="#8c8c8c"/><stop offset="0.696" stop-color="#2c2c2c"/><stop offset="0.700" stop-color="#f8f8f8"/><stop offset="0.762" stop-color="#f8f8f8"/><stop offset="0.850" stop-color="#8c8c8c"/><stop offset="0.946" stop-color="#2c2c2c"/><stop offset="0.950" stop-color="#f8f8f8"/><stop offset="1.000" stop-color="#a0a0a0"/></radialGradient>
<path d="M326.7,77.0 L326.2,77.0 L325.7,77.0 L325.3,76.9 L325.0,76.8 L324.6,76.6 L324.3,76.4 L324.0,76.2 L323.8,75.9 L323.6,75.7 L323.3,75.4 L323.1,75.1 L323.0,74.8 L322.8,74.4 L322.6,74.1 L322.5,73.7 L322.4,73.3 L322.3,72.9 L322.2,72.5 L322.1,72.1 L322.0,71.7 L322.0,71.2 L321.9,70.8 L321.9,70.3 L321.9,69.8 L321.9,69.3 L321.9,68.8 L321.9,68.3 L322.0,67.9 L322.0,67.4 L322.1,67.0 L322.2,66.5 L322.2,66.1 L322.3,65.7 L322.4,65.3 L322.5,64.9 L322.6,64.5 L322.7,64.1 L322.8,63.7 L322.9,63.3 L323.0,62.9 L323.2,62.5 L323.3,62.2 L323.5,61.8 L323.6,61.5 L323.8,61.1 L323.9,60.8 L324.1,60.5 L324.3,60.2 L324.5,59.8 L324.7,59.5 L324.9,59.2 L325.0,58.9 L325.3,58.6 L325.5,58.3 L325.7,58.0 L325.9,57.7 L326.1,57.5 L326.3,57.2 L326.5,56.9 L326.7,56.6 L327.0,56.4 L327.2,56.1 L327.5,55.8 L327.7,55.6 L327.9,55.3 L328.2,55.1 L328.5,54.8 L328.8,54.6 L329.1,54.5 L329.4,54.3 L329.8,54.2 L330.2,54.1 L330.6,54.0 L331.1,54.0 L331.5,54.0 L331.9,54.1 L332.3,54.2 L332.6,54.4 L332.9,54.6 L333.2,54.8 L333.5,55.1 L333.7,55.3 L333.9,55.6 L334.1,55.9 L334.3,56.3 L334.4,56.6 L334.6,56.9 L334.7,57.3 L334.8,57.7 L334.9,58.1 L335.0,58.5 L335.1,58.9 L335.2,59.4 L335.2,59.8 L335.3,60.3 L335.3,60.7 L335.3,61.2 L335.3,61.7 L335.3,62.2 L335.3,62.6 L335.2,63.1 L335.2,63.5 L335.1,64.0 L335.1,64.4 L335.0,64.9 L334.9,65.3 L334.8,65.7 L334.7,66.1 L334.6,66.5 L334.5,66.9 L334.4,67.3 L334.3,67.7 L334.2,68.1 L334.1,68.4 L333.9,68.8 L333.8,69.2 L333.6,69.5 L333.5,69.9 L333.3,70.2 L333.2,70.6 L333.0,70.9 L332.9,71.2 L332.7,71.6 L332.5,71.9 L332.3,72.2 L332.1,72.5 L331.9,72.8 L331.7,73.1 L331.5,73.4 L331.3,73.7 L331.1,74.0 L330.9,74.2 L330.7,74.5 L330.4,74.8 L330.2,75.0 L329.9,75.3 L329.6,75.5 L329.4,75.7 L329.1,76.0 L328.8,76.2 L328.5,76.4 L328.2,76.5 L327.8,76.7 L327.5,76.8 L327.1,76.9 L326.7,77.0Z" fill="url(#rg4_1)" stroke="none"/>
<path d="M326.7,77.0 L326.2,77.0 L325.7,77.0 L325.3,76.9 L325.0,76.8 L324.6,76.6 L324.3,76.4 L324.0,76.2 L323.8,75.9 L323.6,75.7 L323.3,75.4 L323.1,75.1 L323.0,74.8 L322.8,74.4 L322.6,74.1 L322.5,73.7 L322.4,73.3 L322.3,72.9 L322.2,72.5 L322.1,72.1 L322.0,71.7 L322.0,71.2 L321.9,70.8 L321.9,70.3 L321.9,69.8 L321.9,69.3 L321.9,68.8 L321.9,68.3 L322.0,67.9 L322.0,67.4 L322.1,67.0 L322.2,66.5 L322.2,66.1 L322.3,65.7 L322.4,65.3 L322.5,64.9 L322.6,64.5 L322.7,64.1 L322.8,63.7 L322.9,63.3 L323.0,62.9 L323.2,62.5 L323.3,62.2 L323.5,61.8 L323.6,61.5 L323.8,61.1 L323.9,60.8 L324.1,60.5 L324.3,60.2 L324.5,59.8 L324.7,59.5 L324.9,59.2 L325.0,58.9 L325.3,58.6 L325.5,58.3 L325.7,58.0 L325.9,57.7 L326.1,57.5 L326.3,57.2 L326.5,56.9 L326.7,56.6 L327.0,56.4 L327.2,56.1 L327.5,55.8 L327.7,55.6 L327.9,55.3 L328.2,55.1 L328.5,54.8 L328.8,54.6 L329.1,54.5 L329.4,54.3 L329.8,54.2 L330.2,54.1 L330.6,54.0 L331.1,54.0 L331.5,54.0 L331.9,54.1 L332.3,54.2 L332.6,54.4 L332.9,54.6 L333.2,54.8 L333.5,55.1 L333.7,55.3 L333.9,55.6 L334.1,55.9 L334.3,56.3 L334.4,56.6 L334.6,56.9 L334.7,57.3 L334.8,57.7 L334.9,58.1 L335.0,58.5 L335.1,58.9 L335.2,59.4 L335.2,59.8 L335.3,60.3 L335.3,60.7 L335.3,61.2 L335.3,61.7 L335.3,62.2 L335.3,62.6 L335.2,63.1 L335.2,63.5 L335.1,64.0 L335.1,64.4 L335.0,64.9 L334.9,65.3 L334.8,65.7 L334.7,66.1 L334.6,66.5 L334.5,66.9 L334.4,67.3 L334.3,67.7 L334.2,68.1 L334.1,68.4 L333.9,68.8 L333.8,69.2 L333.6,69.5 L333.5,69.9 L333.3,70.2 L333.2,70.6 L333.0,70.9 L332.9,71.2 L332.7,71.6 L332.5,71.9 L332.3,72.2 L332.1,72.5 L331.9,72.8 L331.7,73.1 L331.5,73.4 L331.3,73.7 L331.1,74.0 L330.9,74.2 L330.7,74.5 L330.4,74.8 L330.2,75.0 L329.9,75.3 L329.6,75.5 L329.4,75.7 L329.1,76.0 L328.8,76.2 L328.5,76.4 L328.2,76.5 L327.8,76.7 L327.5,76.8 L327.1,76.9 L326.7,77.0Z" fill="none" stroke="#000" stroke-width="0.7"/>
<path d="M326.9,74.0 L326.5,74.0 L326.1,73.9 L325.7,73.7 L325.4,73.5 L325.2,73.3 L324.9,73.0 L324.7,72.7 L324.5,72.4 L324.3,72.1 L324.2,71.7 L324.1,71.4 L323.9,71.0 L323.9,70.6 L323.8,70.1 L323.7,69.7 L323.7,69.2 L323.7,68.8 L323.7,68.3 L323.7,67.9 L323.7,67.4 L323.8,66.9 L323.8,66.5 L323.9,66.1 L324.0,65.6 L324.1,65.2 L324.1,64.8 L324.3,64.4 L324.4,64.0 L324.5,63.7 L324.6,63.3 L324.7,62.9 L324.9,62.6 L325.0,62.2 L325.2,61.9 L325.4,61.5 L325.5,61.2 L325.7,60.9 L325.9,60.6 L326.1,60.2 L326.3,59.9 L326.5,59.6 L326.7,59.4 L326.9,59.1 L327.1,58.8 L327.4,58.6 L327.6,58.3 L327.9,58.1 L328.2,57.9 L328.5,57.6 L328.8,57.5 L329.1,57.3 L329.5,57.1 L329.9,57.0 L330.3,57.0 L330.7,57.0 L331.1,57.1 L331.5,57.3 L331.8,57.5 L332.0,57.7 L332.3,57.9 L332.5,58.2 L332.7,58.5 L332.9,58.9 L333.0,59.2 L333.1,59.6 L333.3,60.0 L333.3,60.4 L333.4,60.8 L333.5,61.2 L333.5,61.7 L333.5,62.2 L333.5,62.7 L333.5,63.2 L333.5,63.7 L333.4,64.1 L333.4,64.6 L333.3,65.0 L333.2,65.4 L333.1,65.8 L333.1,66.2 L332.9,66.6 L332.8,67.0 L332.7,67.4 L332.6,67.8 L332.5,68.1 L332.3,68.5 L332.2,68.8 L332.0,69.2 L331.8,69.5 L331.7,69.8 L331.5,70.2 L331.3,70.5 L331.1,70.8 L330.9,71.1 L330.7,71.4 L330.5,71.7 L330.3,71.9 L330.0,72.2 L329.8,72.5 L329.6,72.7 L329.3,73.0 L329.0,73.2 L328.7,73.4 L328.4,73.6 L328.1,73.7 L327.7,73.9 L327.3,74.0 L326.9,74.0Z" fill="none" stroke="#000" stroke-width="0.7"/>
<path d="M327.9,70.9 L327.4,71.0 L327.0,70.9 L326.6,70.7 L326.4,70.5 L326.1,70.2 L325.9,69.9 L325.8,69.6 L325.7,69.2 L325.6,68.8 L325.5,68.3 L325.4,67.9 L325.4,67.4 L325.4,66.9 L325.5,66.5 L325.5,66.0 L325.6,65.6 L325.7,65.2 L325.8,64.8 L325.9,64.4 L326.1,64.0 L326.2,63.7 L326.3,63.3 L326.5,63.0 L326.7,62.6 L326.9,62.3 L327.0,62.0 L327.3,61.7 L327.5,61.4 L327.7,61.2 L328.0,60.9 L328.2,60.7 L328.5,60.5 L328.8,60.3 L329.2,60.1 L329.6,60.0 L330.1,60.1 L330.4,60.2 L330.7,60.4 L331.0,60.7 L331.2,60.9 L331.4,61.3 L331.5,61.6 L331.6,62.0 L331.7,62.4 L331.7,62.9 L331.8,63.4 L331.8,63.7 L331.7,64.2 L331.7,64.7 L331.6,65.1 L331.6,65.5 L331.5,65.9 L331.4,66.3 L331.2,66.7 L331.1,67.1 L331.0,67.4 L330.8,67.8 L330.7,68.1 L330.5,68.5 L330.3,68.8 L330.1,69.1 L329.9,69.4 L329.7,69.6 L329.4,69.9 L329.2,70.2 L328.9,70.4 L328.6,70.6 L328.3,70.8 L327.9,70.9Z" fill="none" stroke="#000" stroke-width="0.7"/>
<path d="M328.3,67.9 L327.9,67.9 L327.6,67.7 L327.4,67.4 L327.3,67.0 L327.2,66.5 L327.2,66.0 L327.3,65.6 L327.4,65.1 L327.5,64.8 L327.7,64.4 L327.8,64.1 L328.0,63.8 L328.3,63.5 L328.5,63.3 L328.9,63.1 L329.3,63.1 L329.6,63.3 L329.8,63.5 L329.9,63.9 L330.0,64.3 L330.0,64.8 L330.0,65.2 L329.9,65.7 L329.8,66.0 L329.6,66.4 L329.5,66.7 L329.3,67.1 L329.1,67.3 L328.8,67.6 L328.5,67.8Z" fill="none" stroke="#000" stroke-width="0.7"/>
<radialGradient id="rg4_2" gradientUnits="userSpaceOnUse" cx="328.4" cy="98.5" r="9.2" gradientTransform="translate(328.4,98.5) rotate(0.0) scale(1,1.7935) translate(-328.4,-98.5)"><stop offset="0.000" stop-color="#141414"/><stop offset="0.170" stop-color="#141414"/><stop offset="0.174" stop-color="#f8f8f8"/><stop offset="0.177" stop-color="#f8f8f8"/><stop offset="0.188" stop-color="#8c8c8c"/><stop offset="0.196" stop-color="#2c2c2c"/><stop offset="0.200" stop-color="#f8f8f8"/><stop offset="0.247" stop-color="#f8f8f8"/><stop offset="0.312" stop-color="#8c8c8c"/><stop offset="0.383" stop-color="#2c2c2c"/><stop offset="0.387" stop-color="#f8f8f8"/><stop offset="0.434" stop-color="#f8f8f8"/><stop offset="0.500" stop-color="#8c8c8c"/><stop offset="0.571" stop-color="#2c2c2c"/><stop offset="0.575" stop-color="#f8f8f8"/><stop offset="0.622" stop-color="#f8f8f8"/><stop offset="0.688" stop-color="#8c8c8c"/><stop offset="0.758" stop-color="#2c2c2c"/><stop offset="0.762" stop-color="#f8f8f8"/><stop offset="0.809" stop-color="#f8f8f8"/><stop offset="0.875" stop-color="#8c8c8c"/><stop offset="0.946" stop-color="#2c2c2c"/><stop offset="0.950" stop-color="#f8f8f8"/><stop offset="1.000" stop-color="#a0a0a0"/></radialGradient>
<path d="M329.2,114.1 L328.7,114.2 L328.2,114.2 L327.7,114.1 L327.3,114.0 L326.9,113.9 L326.5,113.8 L326.2,113.7 L325.9,113.5 L325.5,113.3 L325.2,113.1 L324.9,112.9 L324.7,112.7 L324.4,112.4 L324.2,112.2 L323.9,111.9 L323.7,111.7 L323.4,111.4 L323.2,111.1 L323.0,110.8 L322.8,110.5 L322.6,110.2 L322.4,109.9 L322.2,109.6 L322.1,109.3 L321.9,108.9 L321.7,108.6 L321.6,108.3 L321.4,107.9 L321.3,107.6 L321.1,107.2 L321.0,106.8 L320.9,106.5 L320.8,106.1 L320.6,105.7 L320.5,105.3 L320.4,104.9 L320.3,104.5 L320.2,104.1 L320.2,103.7 L320.1,103.3 L320.0,102.8 L319.9,102.4 L319.9,101.9 L319.8,101.5 L319.8,101.0 L319.7,100.6 L319.7,100.1 L319.7,99.6 L319.7,99.2 L319.7,98.7 L319.7,98.2 L319.7,97.7 L319.7,97.3 L319.7,96.8 L319.7,96.3 L319.8,95.9 L319.8,95.4 L319.9,95.0 L319.9,94.5 L320.0,94.1 L320.1,93.7 L320.2,93.2 L320.3,92.8 L320.3,92.4 L320.4,92.0 L320.6,91.6 L320.7,91.2 L320.8,90.8 L320.9,90.5 L321.0,90.1 L321.2,89.7 L321.3,89.4 L321.4,89.0 L321.6,88.7 L321.8,88.3 L321.9,88.0 L322.1,87.7 L322.3,87.3 L322.5,87.0 L322.6,86.7 L322.8,86.4 L323.1,86.1 L323.3,85.8 L323.5,85.6 L323.7,85.3 L324.0,85.0 L324.2,84.8 L324.5,84.5 L324.7,84.3 L325.0,84.1 L325.3,83.9 L325.6,83.7 L325.9,83.5 L326.3,83.3 L326.6,83.2 L327.0,83.0 L327.4,82.9 L327.8,82.9 L328.3,82.8 L328.8,82.8 L329.3,82.9 L329.7,83.0 L330.0,83.1 L330.4,83.2 L330.7,83.4 L331.1,83.6 L331.4,83.8 L331.7,84.0 L332.0,84.2 L332.2,84.4 L332.5,84.6 L332.7,84.9 L333.0,85.1 L333.2,85.4 L333.4,85.7 L333.7,86.0 L333.9,86.3 L334.1,86.6 L334.3,86.9 L334.5,87.2 L334.6,87.5 L334.8,87.8 L335.0,88.2 L335.1,88.6 L335.2,88.9 L335.3,89.4 L335.4,89.8 L335.4,90.2 L335.5,90.6 L335.6,91.1 L335.7,91.5 L335.7,91.9 L335.8,92.3 L335.8,92.8 L335.9,93.2 L335.9,93.7 L336.0,94.1 L336.1,94.6 L336.1,95.0 L336.2,95.5 L336.2,95.9 L336.3,96.4 L336.3,96.8 L336.3,97.3 L336.4,97.7 L336.4,98.2 L336.5,98.6 L336.6,99.1 L336.6,99.5 L336.7,100.0 L336.7,100.5 L336.7,100.9 L336.7,101.4 L336.7,101.9 L336.7,102.4 L336.7,102.9 L336.7,103.4 L336.6,103.8 L336.5,104.2 L336.5,104.6 L336.4,105.0 L336.2,105.4 L336.1,105.8 L336.0,106.2 L335.9,106.6 L335.8,106.9 L335.6,107.3 L335.5,107.7 L335.4,108.0 L335.2,108.4 L335.0,108.7 L334.9,109.0 L334.7,109.4 L334.5,109.7 L334.3,110.0 L334.2,110.3 L334.0,110.6 L333.7,110.9 L333.5,111.2 L333.3,111.5 L333.1,111.7 L332.8,112.0 L332.6,112.3 L332.3,112.5 L332.1,112.7 L331.8,113.0 L331.5,113.2 L331.2,113.4 L330.9,113.5 L330.5,113.7 L330.2,113.8 L329.8,114.0 L329.4,114.1Z" fill="url(#rg4_2)" stroke="none"/>
<path d="M329.2,114.1 L328.7,114.2 L328.2,114.2 L327.7,114.1 L327.3,114.0 L326.9,113.9 L326.5,113.8 L326.2,113.7 L325.9,113.5 L325.5,113.3 L325.2,113.1 L324.9,112.9 L324.7,112.7 L324.4,112.4 L324.2,112.2 L323.9,111.9 L323.7,111.7 L323.4,111.4 L323.2,111.1 L323.0,110.8 L322.8,110.5 L322.6,110.2 L322.4,109.9 L322.2,109.6 L322.1,109.3 L321.9,108.9 L321.7,108.6 L321.6,108.3 L321.4,107.9 L321.3,107.6 L321.1,107.2 L321.0,106.8 L320.9,106.5 L320.8,106.1 L320.6,105.7 L320.5,105.3 L320.4,104.9 L320.3,104.5 L320.2,104.1 L320.2,103.7 L320.1,103.3 L320.0,102.8 L319.9,102.4 L319.9,101.9 L319.8,101.5 L319.8,101.0 L319.7,100.6 L319.7,100.1 L319.7,99.6 L319.7,99.2 L319.7,98.7 L319.7,98.2 L319.7,97.7 L319.7,97.3 L319.7,96.8 L319.7,96.3 L319.8,95.9 L319.8,95.4 L319.9,95.0 L319.9,94.5 L320.0,94.1 L320.1,93.7 L320.2,93.2 L320.3,92.8 L320.3,92.4 L320.4,92.0 L320.6,91.6 L320.7,91.2 L320.8,90.8 L320.9,90.5 L321.0,90.1 L321.2,89.7 L321.3,89.4 L321.4,89.0 L321.6,88.7 L321.8,88.3 L321.9,88.0 L322.1,87.7 L322.3,87.3 L322.5,87.0 L322.6,86.7 L322.8,86.4 L323.1,86.1 L323.3,85.8 L323.5,85.6 L323.7,85.3 L324.0,85.0 L324.2,84.8 L324.5,84.5 L324.7,84.3 L325.0,84.1 L325.3,83.9 L325.6,83.7 L325.9,83.5 L326.3,83.3 L326.6,83.2 L327.0,83.0 L327.4,82.9 L327.8,82.9 L328.3,82.8 L328.8,82.8 L329.3,82.9 L329.7,83.0 L330.0,83.1 L330.4,83.2 L330.7,83.4 L331.1,83.6 L331.4,83.8 L331.7,84.0 L332.0,84.2 L332.2,84.4 L332.5,84.6 L332.7,84.9 L333.0,85.1 L333.2,85.4 L333.4,85.7 L333.7,86.0 L333.9,86.3 L334.1,86.6 L334.3,86.9 L334.5,87.2 L334.6,87.5 L334.8,87.8 L335.0,88.2 L335.1,88.6 L335.2,88.9 L335.3,89.4 L335.4,89.8 L335.4,90.2 L335.5,90.6 L335.6,91.1 L335.7,91.5 L335.7,91.9 L335.8,92.3 L335.8,92.8 L335.9,93.2 L335.9,93.7 L336.0,94.1 L336.1,94.6 L336.1,95.0 L336.2,95.5 L336.2,95.9 L336.3,96.4 L336.3,96.8 L336.3,97.3 L336.4,97.7 L336.4,98.2 L336.5,98.6 L336.6,99.1 L336.6,99.5 L336.7,100.0 L336.7,100.5 L336.7,100.9 L336.7,101.4 L336.7,101.9 L336.7,102.4 L336.7,102.9 L336.7,103.4 L336.6,103.8 L336.5,104.2 L336.5,104.6 L336.4,105.0 L336.2,105.4 L336.1,105.8 L336.0,106.2 L335.9,106.6 L335.8,106.9 L335.6,107.3 L335.5,107.7 L335.4,108.0 L335.2,108.4 L335.0,108.7 L334.9,109.0 L334.7,109.4 L334.5,109.7 L334.3,110.0 L334.2,110.3 L334.0,110.6 L333.7,110.9 L333.5,111.2 L333.3,111.5 L333.1,111.7 L332.8,112.0 L332.6,112.3 L332.3,112.5 L332.1,112.7 L331.8,113.0 L331.5,113.2 L331.2,113.4 L330.9,113.5 L330.5,113.7 L330.2,113.8 L329.8,114.0 L329.4,114.1Z" fill="none" stroke="#000" stroke-width="0.7"/>
<path d="M329.2,111.0 L328.7,111.1 L328.2,111.1 L327.7,111.0 L327.3,110.9 L326.9,110.8 L326.6,110.6 L326.3,110.5 L326.0,110.3 L325.7,110.1 L325.4,109.8 L325.1,109.6 L324.9,109.4 L324.6,109.1 L324.4,108.8 L324.2,108.5 L324.0,108.3 L323.8,108.0 L323.6,107.6 L323.4,107.3 L323.2,107.0 L323.1,106.7 L322.9,106.3 L322.8,106.0 L322.6,105.6 L322.5,105.2 L322.4,104.9 L322.2,104.5 L322.1,104.1 L322.0,103.7 L321.9,103.3 L321.8,102.9 L321.7,102.5 L321.7,102.1 L321.6,101.6 L321.5,101.2 L321.5,100.7 L321.5,100.3 L321.4,99.8 L321.4,99.3 L321.4,98.8 L321.4,98.3 L321.4,97.8 L321.4,97.3 L321.4,96.8 L321.5,96.4 L321.5,95.9 L321.6,95.5 L321.7,95.0 L321.7,94.6 L321.8,94.2 L321.9,93.8 L322.0,93.4 L322.1,93.0 L322.2,92.6 L322.3,92.2 L322.5,91.8 L322.6,91.5 L322.7,91.1 L322.9,90.8 L323.0,90.4 L323.2,90.1 L323.4,89.7 L323.6,89.4 L323.7,89.1 L323.9,88.8 L324.1,88.5 L324.4,88.2 L324.6,88.0 L324.8,87.7 L325.1,87.4 L325.3,87.2 L325.6,87.0 L325.9,86.8 L326.2,86.6 L326.5,86.4 L326.9,86.2 L327.2,86.1 L327.6,86.0 L328.1,85.9 L328.6,85.9 L329.1,86.0 L329.5,86.1 L329.9,86.2 L330.2,86.3 L330.5,86.5 L330.8,86.7 L331.1,86.9 L331.4,87.1 L331.7,87.4 L331.9,87.6 L332.2,87.9 L332.4,88.1 L332.6,88.4 L332.8,88.7 L333.0,89.0 L333.2,89.3 L333.4,89.6 L333.6,90.0 L333.7,90.3 L333.9,90.6 L334.0,91.0 L334.2,91.4 L334.3,91.7 L334.4,92.1 L334.6,92.5 L334.7,92.9 L334.8,93.2 L334.9,93.6 L335.0,94.1 L335.1,94.5 L335.1,94.9 L335.2,95.3 L335.3,95.8 L335.3,96.2 L335.3,96.7 L335.4,97.1 L335.4,97.6 L335.4,98.1 L335.4,98.6 L335.4,99.1 L335.4,99.6 L335.4,100.0 L335.3,100.5 L335.3,101.0 L335.2,101.4 L335.2,101.8 L335.1,102.3 L335.0,102.7 L334.9,103.1 L334.8,103.5 L334.7,103.9 L334.6,104.3 L334.5,104.7 L334.4,105.1 L334.3,105.4 L334.1,105.8 L334.0,106.1 L333.8,106.5 L333.7,106.8 L333.5,107.2 L333.3,107.5 L333.1,107.8 L332.9,108.1 L332.7,108.4 L332.5,108.7 L332.3,109.0 L332.1,109.2 L331.8,109.5 L331.6,109.7 L331.3,110.0 L331.0,110.2 L330.7,110.4 L330.4,110.6 L330.1,110.7 L329.7,110.9 L329.3,111.0Z" fill="none" stroke="#000" stroke-width="0.7"/>
<path d="M329.1,107.9 L328.6,108.0 L328.1,108.0 L327.7,107.9 L327.3,107.8 L326.9,107.6 L326.6,107.4 L326.3,107.2 L326.1,107.0 L325.8,106.7 L325.6,106.5 L325.3,106.2 L325.1,105.9 L324.9,105.6 L324.7,105.3 L324.5,105.0 L324.4,104.7 L324.2,104.3 L324.1,104.0 L323.9,103.6 L323.8,103.2 L323.7,102.8 L323.6,102.4 L323.5,102.0 L323.4,101.6 L323.3,101.2 L323.3,100.8 L323.2,100.3 L323.2,99.9 L323.1,99.4 L323.1,98.9 L323.1,98.4 L323.1,97.9 L323.1,97.4 L323.2,97.0 L323.2,96.5 L323.3,96.1 L323.4,95.6 L323.4,95.2 L323.5,94.8 L323.6,94.4 L323.7,94.0 L323.9,93.6 L324.0,93.3 L324.1,92.9 L324.3,92.6 L324.4,92.2 L324.6,91.9 L324.8,91.6 L325.0,91.3 L325.2,91.0 L325.4,90.7 L325.6,90.4 L325.9,90.2 L326.2,89.9 L326.4,89.7 L326.7,89.5 L327.1,89.3 L327.4,89.2 L327.8,89.1 L328.3,89.0 L328.8,89.0 L329.2,89.1 L329.6,89.2 L329.9,89.4 L330.2,89.6 L330.5,89.8 L330.8,90.0 L331.1,90.3 L331.3,90.5 L331.5,90.8 L331.7,91.1 L331.9,91.4 L332.1,91.7 L332.3,92.0 L332.5,92.4 L332.6,92.7 L332.7,93.1 L332.9,93.4 L333.0,93.8 L333.1,94.2 L333.2,94.6 L333.3,95.0 L333.4,95.4 L333.5,95.8 L333.5,96.3 L333.6,96.7 L333.6,97.2 L333.7,97.7 L333.7,98.1 L333.7,98.6 L333.7,99.1 L333.7,99.5 L333.6,100.0 L333.6,100.5 L333.5,100.9 L333.5,101.3 L333.4,101.7 L333.3,102.2 L333.2,102.6 L333.1,102.9 L333.0,103.3 L332.8,103.7 L332.7,104.1 L332.5,104.4 L332.4,104.8 L332.2,105.1 L332.0,105.4 L331.8,105.7 L331.6,106.0 L331.4,106.3 L331.2,106.6 L331.0,106.8 L330.7,107.1 L330.4,107.3 L330.1,107.5 L329.8,107.7 L329.4,107.8 L329.1,107.9Z" fill="none" stroke="#000" stroke-width="0.7"/>
<path d="M329.0,104.8 L328.5,104.9 L328.0,104.8 L327.6,104.7 L327.3,104.6 L327.0,104.4 L326.7,104.1 L326.5,103.9 L326.3,103.6 L326.0,103.3 L325.9,103.0 L325.7,102.6 L325.5,102.3 L325.4,101.9 L325.3,101.6 L325.2,101.2 L325.1,100.8 L325.0,100.3 L324.9,99.9 L324.9,99.4 L324.8,99.0 L324.8,98.5 L324.8,98.0 L324.9,97.6 L324.9,97.1 L325.0,96.7 L325.1,96.2 L325.2,95.8 L325.3,95.4 L325.4,95.1 L325.5,94.7 L325.7,94.4 L325.9,94.0 L326.0,93.7 L326.2,93.4 L326.5,93.1 L326.7,92.9 L327.0,92.6 L327.3,92.4 L327.6,92.3 L328.0,92.2 L328.5,92.1 L329.0,92.2 L329.3,92.3 L329.6,92.5 L329.9,92.7 L330.2,93.0 L330.4,93.2 L330.6,93.5 L330.8,93.8 L331.0,94.1 L331.2,94.5 L331.3,94.8 L331.5,95.2 L331.6,95.6 L331.7,96.0 L331.8,96.4 L331.8,96.8 L331.9,97.2 L331.9,97.7 L332.0,98.2 L332.0,98.7 L331.9,99.2 L331.9,99.7 L331.9,100.1 L331.8,100.6 L331.7,101.0 L331.6,101.4 L331.5,101.7 L331.3,102.1 L331.2,102.5 L331.0,102.8 L330.9,103.1 L330.7,103.4 L330.5,103.7 L330.2,104.0 L330.0,104.2 L329.7,104.5 L329.4,104.7 L329.0,104.8Z" fill="none" stroke="#000" stroke-width="0.7"/>
<path d="M328.8,101.7 L328.3,101.8 L327.9,101.7 L327.6,101.4 L327.3,101.2 L327.1,100.9 L327.0,100.6 L326.8,100.2 L326.7,99.8 L326.6,99.4 L326.6,98.9 L326.6,98.5 L326.6,98.1 L326.6,97.6 L326.7,97.2 L326.8,96.8 L327.0,96.4 L327.1,96.1 L327.3,95.8 L327.6,95.6 L327.9,95.3 L328.3,95.2 L328.6,95.2 L329.0,95.4 L329.3,95.6 L329.5,95.8 L329.7,96.1 L329.9,96.5 L330.0,96.8 L330.1,97.2 L330.2,97.6 L330.2,98.1 L330.2,98.6 L330.2,99.1 L330.2,99.5 L330.1,99.9 L329.9,100.3 L329.8,100.7 L329.6,101.0 L329.4,101.3 L329.2,101.5 L328.8,101.7Z" fill="none" stroke="#000" stroke-width="0.7"/>
</g>
<path d="M335.50,50.40 C336.53,51.15 336.88,53.40 337.20,56.00 C337.52,58.60 337.50,62.67 337.40,66.00 C337.30,69.33 336.93,72.83 336.60,76.00 C336.27,79.17 335.45,81.83 335.40,85.00 C335.35,88.17 335.98,91.67 336.30,95.00 C336.62,98.33 337.30,102.08 337.30,105.00 C337.30,107.92 337.12,110.12 336.30,112.50 C335.48,114.88 334.28,118.63 332.40,119.30 C330.52,119.97 327.40,117.97 325.00,116.50 C322.60,115.03 320.08,112.17 318.00,110.50 C315.92,108.83 313.67,107.75 312.50,106.50 C311.33,105.25 310.83,104.58 311.00,103.00 C311.17,101.42 312.30,99.00 313.50,97.00 C314.70,95.00 317.18,93.00 318.20,91.00 C319.22,89.00 319.40,87.17 319.60,85.00 C319.80,82.83 319.28,80.50 319.40,78.00 C319.52,75.50 319.82,72.50 320.30,70.00 C320.78,67.50 321.35,65.17 322.30,63.00 C323.25,60.83 324.55,58.92 326.00,57.00 C327.45,55.08 329.42,52.60 331.00,51.50 C332.58,50.40 334.47,49.65 335.50,50.40 Z" fill="none" stroke="#000" stroke-width="1.5"/>
<ellipse cx="312.8" cy="104.8" rx="2.6" ry="3.2" fill="#000"/>
<ellipse cx="294.1" cy="100.1" rx="1.45" ry="2.2" fill="#000"/>
<ellipse cx="294.9" cy="104" rx="1.9" ry="2.5" fill="#000"/>
<clipPath id="cp5"><path d="M405.60,68.40 C406.50,68.05 408.53,67.97 409.40,68.40 C410.27,68.83 410.43,69.90 410.80,71.00 C411.17,72.10 411.27,73.50 411.60,75.00 C411.93,76.50 412.40,78.33 412.80,80.00 C413.20,81.67 413.53,83.00 414.00,85.00 C414.47,87.00 415.17,89.50 415.60,92.00 C416.03,94.50 416.43,97.00 416.60,100.00 C416.77,103.00 416.77,107.17 416.60,110.00 C416.43,112.83 416.03,115.23 415.60,117.00 C415.17,118.77 414.93,120.27 414.00,120.60 C413.07,120.93 411.67,119.90 410.00,119.00 C408.33,118.10 405.92,116.62 404.00,115.20 C402.08,113.78 400.00,112.12 398.50,110.50 C397.00,108.88 396.22,106.95 395.00,105.50 C393.78,104.05 391.20,103.00 391.20,101.80 C391.20,100.60 393.73,99.85 395.00,98.30 C396.27,96.75 397.67,94.55 398.80,92.50 C399.93,90.45 401.13,88.08 401.80,86.00 C402.47,83.92 402.53,82.00 402.80,80.00 C403.07,78.00 403.20,75.58 403.40,74.00 C403.60,72.42 403.63,71.43 404.00,70.50 C404.37,69.57 404.70,68.75 405.60,68.40 Z"/></clipPath>
<path d="M405.60,68.40 C406.50,68.05 408.53,67.97 409.40,68.40 C410.27,68.83 410.43,69.90 410.80,71.00 C411.17,72.10 411.27,73.50 411.60,75.00 C411.93,76.50 412.40,78.33 412.80,80.00 C413.20,81.67 413.53,83.00 414.00,85.00 C414.47,87.00 415.17,89.50 415.60,92.00 C416.03,94.50 416.43,97.00 416.60,100.00 C416.77,103.00 416.77,107.17 416.60,110.00 C416.43,112.83 416.03,115.23 415.60,117.00 C415.17,118.77 414.93,120.27 414.00,120.60 C413.07,120.93 411.67,119.90 410.00,119.00 C408.33,118.10 405.92,116.62 404.00,115.20 C402.08,113.78 400.00,112.12 398.50,110.50 C397.00,108.88 396.22,106.95 395.00,105.50 C393.78,104.05 391.20,103.00 391.20,101.80 C391.20,100.60 393.73,99.85 395.00,98.30 C396.27,96.75 397.67,94.55 398.80,92.50 C399.93,90.45 401.13,88.08 401.80,86.00 C402.47,83.92 402.53,82.00 402.80,80.00 C403.07,78.00 403.20,75.58 403.40,74.00 C403.60,72.42 403.63,71.43 404.00,70.50 C404.37,69.57 404.70,68.75 405.60,68.40 Z" fill="#a0a0a0" stroke="none"/>
<g clip-path="url(#cp5)">
<path d="M405.60,68.40 C406.50,68.05 408.53,67.97 409.40,68.40 C410.27,68.83 410.43,69.90 410.80,71.00 C411.17,72.10 411.27,73.50 411.60,75.00 C411.93,76.50 412.40,78.33 412.80,80.00 C413.20,81.67 413.53,83.00 414.00,85.00 C414.47,87.00 415.17,89.50 415.60,92.00 C416.03,94.50 416.43,97.00 416.60,100.00 C416.77,103.00 416.77,107.17 416.60,110.00 C416.43,112.83 416.03,115.23 415.60,117.00 C415.17,118.77 414.93,120.27 414.00,120.60 C413.07,120.93 411.67,119.90 410.00,119.00 C408.33,118.10 405.92,116.62 404.00,115.20 C402.08,113.78 400.00,112.12 398.50,110.50 C397.00,108.88 396.22,106.95 395.00,105.50 C393.78,104.05 391.20,103.00 391.20,101.80 C391.20,100.60 393.73,99.85 395.00,98.30 C396.27,96.75 397.67,94.55 398.80,92.50 C399.93,90.45 401.13,88.08 401.80,86.00 C402.47,83.92 402.53,82.00 402.80,80.00 C403.07,78.00 403.20,75.58 403.40,74.00 C403.60,72.42 403.63,71.43 404.00,70.50 C404.37,69.57 404.70,68.75 405.60,68.40 Z" fill="none" stroke="#f4f4f4" stroke-width="3.2"/>
<path d="M405.60,68.40 C406.50,68.05 408.53,67.97 409.40,68.40 C410.27,68.83 410.43,69.90 410.80,71.00 C411.17,72.10 411.27,73.50 411.60,75.00 C411.93,76.50 412.40,78.33 412.80,80.00 C413.20,81.67 413.53,83.00 414.00,85.00 C414.47,87.00 415.17,89.50 415.60,92.00 C416.03,94.50 416.43,97.00 416.60,100.00 C416.77,103.00 416.77,107.17 416.60,110.00 C416.43,112.83 416.03,115.23 415.60,117.00 C415.17,118.77 414.93,120.27 414.00,120.60 C413.07,120.93 411.67,119.90 410.00,119.00 C408.33,118.10 405.92,116.62 404.00,115.20 C402.08,113.78 400.00,112.12 398.50,110.50 C397.00,108.88 396.22,106.95 395.00,105.50 C393.78,104.05 391.20,103.00 391.20,101.80 C391.20,100.60 393.73,99.85 395.00,98.30 C396.27,96.75 397.67,94.55 398.80,92.50 C399.93,90.45 401.13,88.08 401.80,86.00 C402.47,83.92 402.53,82.00 402.80,80.00 C403.07,78.00 403.20,75.58 403.40,74.00 C403.60,72.42 403.63,71.43 404.00,70.50 C404.37,69.57 404.70,68.75 405.60,68.40 Z" fill="none" stroke="#d8d8d8" stroke-width="5.5" opacity="0.6"/>
<radialGradient id="rg5_1" cx="0.5" cy="0.5" r="0.5"><stop offset="0" stop-color="#6a6a6a"/><stop offset="0.5" stop-color="#8a8a8a"/><stop offset="1" stop-color="#a0a0a0" stop-opacity="0"/></radialGradient>
<ellipse cx="407.5" cy="79" rx="5" ry="10" fill="url(#rg5_1)"/>
<radialGradient id="rg5_2" gradientUnits="userSpaceOnUse" cx="408.2" cy="99" r="7.6" gradientTransform="translate(408.2,99) rotate(0.0) scale(1,1.9474) translate(-408.2,-99)"><stop offset="0.000" stop-color="#141414"/><stop offset="0.170" stop-color="#141414"/><stop offset="0.174" stop-color="#f8f8f8"/><stop offset="0.177" stop-color="#f8f8f8"/><stop offset="0.188" stop-color="#8c8c8c"/><stop offset="0.196" stop-color="#2c2c2c"/><stop offset="0.200" stop-color="#f8f8f8"/><stop offset="0.262" stop-color="#f8f8f8"/><stop offset="0.350" stop-color="#8c8c8c"/><stop offset="0.446" stop-color="#2c2c2c"/><stop offset="0.450" stop-color="#f8f8f8"/><stop offset="0.512" stop-color="#f8f8f8"/><stop offset="0.600" stop-color="#8c8c8c"/><stop offset="0.696" stop-color="#2c2c2c"/><stop offset="0.700" stop-color="#f8f8f8"/><stop offset="0.762" stop-color="#f8f8f8"/><stop offset="0.850" stop-color="#8c8c8c"/><stop offset="0.946" stop-color="#2c2c2c"/><stop offset="0.950" stop-color="#f8f8f8"/><stop offset="1.000" stop-color="#a0a0a0"/></radialGradient>
<path d="M408.8,113.0 L408.3,113.1 L407.8,113.0 L407.4,113.0 L407.0,112.9 L406.6,112.7 L406.3,112.6 L406.0,112.4 L405.7,112.2 L405.4,112.0 L405.1,111.7 L404.9,111.5 L404.6,111.2 L404.4,111.0 L404.2,110.7 L404.0,110.4 L403.8,110.1 L403.6,109.8 L403.4,109.5 L403.2,109.1 L403.0,108.8 L402.9,108.5 L402.7,108.1 L402.6,107.8 L402.4,107.4 L402.3,107.1 L402.2,106.7 L402.0,106.3 L401.9,105.9 L401.8,105.5 L401.7,105.1 L401.6,104.7 L401.5,104.3 L401.4,103.9 L401.4,103.5 L401.3,103.1 L401.2,102.6 L401.2,102.2 L401.1,101.7 L401.1,101.3 L401.0,100.8 L401.0,100.3 L401.0,99.9 L401.0,99.4 L401.0,98.9 L401.0,98.4 L401.0,98.0 L401.0,97.5 L401.1,97.0 L401.1,96.5 L401.1,96.1 L401.2,95.6 L401.2,95.2 L401.3,94.8 L401.4,94.3 L401.5,93.9 L401.6,93.5 L401.6,93.1 L401.7,92.7 L401.9,92.3 L402.0,91.9 L402.1,91.5 L402.2,91.2 L402.3,90.8 L402.5,90.4 L402.6,90.1 L402.8,89.7 L402.9,89.4 L403.1,89.0 L403.3,88.7 L403.5,88.4 L403.6,88.1 L403.8,87.8 L404.0,87.5 L404.3,87.2 L404.5,86.9 L404.7,86.7 L405.0,86.4 L405.2,86.2 L405.5,86.0 L405.8,85.7 L406.1,85.5 L406.4,85.4 L406.8,85.2 L407.1,85.1 L407.5,85.0 L408.0,84.9 L408.5,85.0 L408.9,85.0 L409.3,85.1 L409.7,85.2 L410.0,85.4 L410.4,85.6 L410.7,85.8 L411.0,86.0 L411.2,86.2 L411.5,86.5 L411.7,86.7 L412.0,87.0 L412.2,87.3 L412.4,87.6 L412.6,87.9 L412.8,88.2 L413.0,88.5 L413.2,88.8 L413.3,89.1 L413.5,89.5 L413.7,89.8 L413.8,90.1 L414.0,90.5 L414.1,90.9 L414.2,91.2 L414.3,91.6 L414.5,92.0 L414.6,92.4 L414.7,92.8 L414.8,93.2 L414.9,93.6 L414.9,94.0 L415.0,94.4 L415.1,94.9 L415.2,95.3 L415.2,95.7 L415.3,96.2 L415.3,96.6 L415.4,97.1 L415.4,97.6 L415.4,98.0 L415.4,98.5 L415.4,99.0 L415.4,99.5 L415.4,100.0 L415.4,100.4 L415.4,100.9 L415.3,101.4 L415.3,101.8 L415.2,102.3 L415.2,102.7 L415.1,103.1 L415.0,103.6 L414.9,104.0 L414.9,104.4 L414.8,104.8 L414.7,105.2 L414.6,105.6 L414.5,106.0 L414.3,106.4 L414.2,106.8 L414.1,107.1 L413.9,107.5 L413.8,107.9 L413.7,108.2 L413.5,108.5 L413.3,108.9 L413.2,109.2 L413.0,109.5 L412.8,109.8 L412.6,110.1 L412.4,110.4 L412.2,110.7 L412.0,111.0 L411.7,111.3 L411.5,111.5 L411.2,111.8 L410.9,112.0 L410.7,112.2 L410.4,112.4 L410.0,112.6 L409.7,112.8 L409.3,112.9 L408.9,113.0Z" fill="url(#rg5_2)" stroke="none"/>
<path d="M408.8,113.0 L408.3,113.1 L407.8,113.0 L407.4,113.0 L407.0,112.9 L406.6,112.7 L406.3,112.6 L406.0,112.4 L405.7,112.2 L405.4,112.0 L405.1,111.7 L404.9,111.5 L404.6,111.2 L404.4,111.0 L404.2,110.7 L404.0,110.4 L403.8,110.1 L403.6,109.8 L403.4,109.5 L403.2,109.1 L403.0,108.8 L402.9,108.5 L402.7,108.1 L402.6,107.8 L402.4,107.4 L402.3,107.1 L402.2,106.7 L402.0,106.3 L401.9,105.9 L401.8,105.5 L401.7,105.1 L401.6,104.7 L401.5,104.3 L401.4,103.9 L401.4,103.5 L401.3,103.1 L401.2,102.6 L401.2,102.2 L401.1,101.7 L401.1,101.3 L401.0,100.8 L401.0,100.3 L401.0,99.9 L401.0,99.4 L401.0,98.9 L401.0,98.4 L401.0,98.0 L401.0,97.5 L401.1,97.0 L401.1,96.5 L401.1,96.1 L401.2,95.6 L401.2,95.2 L401.3,94.8 L401.4,94.3 L401.5,93.9 L401.6,93.5 L401.6,93.1 L401.7,92.7 L401.9,92.3 L402.0,91.9 L402.1,91.5 L402.2,91.2 L402.3,90.8 L402.5,90.4 L402.6,90.1 L402.8,89.7 L402.9,89.4 L403.1,89.0 L403.3,88.7 L403.5,88.4 L403.6,88.1 L403.8,87.8 L404.0,87.5 L404.3,87.2 L404.5,86.9 L404.7,86.7 L405.0,86.4 L405.2,86.2 L405.5,86.0 L405.8,85.7 L406.1,85.5 L406.4,85.4 L406.8,85.2 L407.1,85.1 L407.5,85.0 L408.0,84.9 L408.5,85.0 L408.9,85.0 L409.3,85.1 L409.7,85.2 L410.0,85.4 L410.4,85.6 L410.7,85.8 L411.0,86.0 L411.2,86.2 L411.5,86.5 L411.7,86.7 L412.0,87.0 L412.2,87.3 L412.4,87.6 L412.6,87.9 L412.8,88.2 L413.0,88.5 L413.2,88.8 L413.3,89.1 L413.5,89.5 L413.7,89.8 L413.8,90.1 L414.0,90.5 L414.1,90.9 L414.2,91.2 L414.3,91.6 L414.5,92.0 L414.6,92.4 L414.7,92.8 L414.8,93.2 L414.9,93.6 L414.9,94.0 L415.0,94.4 L415.1,94.9 L415.2,95.3 L415.2,95.7 L415.3,96.2 L415.3,96.6 L415.4,97.1 L415.4,97.6 L415.4,98.0 L415.4,98.5 L415.4,99.0 L415.4,99.5 L415.4,100.0 L415.4,100.4 L415.4,100.9 L415.3,101.4 L415.3,101.8 L415.2,102.3 L415.2,102.7 L415.1,103.1 L415.0,103.6 L414.9,104.0 L414.9,104.4 L414.8,104.8 L414.7,105.2 L414.6,105.6 L414.5,106.0 L414.3,106.4 L414.2,106.8 L414.1,107.1 L413.9,107.5 L413.8,107.9 L413.7,108.2 L413.5,108.5 L413.3,108.9 L413.2,109.2 L413.0,109.5 L412.8,109.8 L412.6,110.1 L412.4,110.4 L412.2,110.7 L412.0,111.0 L411.7,111.3 L411.5,111.5 L411.2,111.8 L410.9,112.0 L410.7,112.2 L410.4,112.4 L410.0,112.6 L409.7,112.8 L409.3,112.9 L408.9,113.0Z" fill="none" stroke="#000" stroke-width="0.7"/>
<path d="M408.7,109.3 L408.2,109.4 L407.7,109.3 L407.3,109.2 L407.0,109.1 L406.6,108.9 L406.3,108.7 L406.1,108.5 L405.8,108.2 L405.6,108.0 L405.3,107.7 L405.1,107.4 L404.9,107.1 L404.7,106.8 L404.5,106.5 L404.4,106.2 L404.2,105.8 L404.1,105.5 L403.9,105.1 L403.8,104.8 L403.7,104.4 L403.5,104.0 L403.4,103.6 L403.3,103.2 L403.3,102.8 L403.2,102.4 L403.1,101.9 L403.0,101.5 L403.0,101.1 L402.9,100.6 L402.9,100.1 L402.9,99.7 L402.9,99.2 L402.9,98.7 L402.9,98.2 L402.9,97.8 L403.0,97.3 L403.0,96.8 L403.0,96.4 L403.1,96.0 L403.2,95.5 L403.3,95.1 L403.4,94.7 L403.5,94.3 L403.6,93.9 L403.7,93.5 L403.8,93.2 L403.9,92.8 L404.1,92.4 L404.2,92.1 L404.4,91.7 L404.6,91.4 L404.8,91.1 L404.9,90.8 L405.2,90.5 L405.4,90.2 L405.6,90.0 L405.8,89.7 L406.1,89.5 L406.4,89.3 L406.7,89.1 L407.0,88.9 L407.4,88.8 L407.8,88.7 L408.3,88.6 L408.8,88.7 L409.1,88.8 L409.5,89.0 L409.8,89.1 L410.1,89.3 L410.4,89.6 L410.7,89.8 L410.9,90.1 L411.1,90.3 L411.3,90.6 L411.5,90.9 L411.7,91.2 L411.9,91.6 L412.1,91.9 L412.2,92.2 L412.4,92.6 L412.5,92.9 L412.6,93.3 L412.8,93.7 L412.9,94.1 L413.0,94.5 L413.1,94.9 L413.2,95.3 L413.2,95.7 L413.3,96.1 L413.4,96.6 L413.4,97.0 L413.5,97.5 L413.5,98.0 L413.5,98.4 L413.5,98.9 L413.5,99.4 L413.5,99.9 L413.5,100.3 L413.4,100.8 L413.4,101.2 L413.3,101.7 L413.3,102.1 L413.2,102.5 L413.1,103.0 L413.0,103.4 L412.9,103.8 L412.8,104.2 L412.7,104.5 L412.6,104.9 L412.4,105.3 L412.3,105.6 L412.1,106.0 L412.0,106.3 L411.8,106.6 L411.6,107.0 L411.4,107.3 L411.2,107.6 L411.0,107.8 L410.7,108.1 L410.5,108.3 L410.2,108.6 L409.9,108.8 L409.6,109.0 L409.3,109.1 L408.9,109.3Z" fill="none" stroke="#000" stroke-width="0.7"/>
<path d="M408.6,105.6 L408.1,105.7 L407.7,105.6 L407.3,105.4 L407.0,105.2 L406.7,105.0 L406.5,104.8 L406.3,104.5 L406.1,104.2 L405.9,103.9 L405.7,103.5 L405.5,103.2 L405.4,102.8 L405.3,102.5 L405.2,102.1 L405.1,101.7 L405.0,101.3 L404.9,100.8 L404.9,100.4 L404.8,99.9 L404.8,99.5 L404.8,99.0 L404.8,98.5 L404.8,98.1 L404.9,97.6 L404.9,97.2 L405.0,96.7 L405.1,96.3 L405.2,95.9 L405.3,95.5 L405.4,95.2 L405.5,94.8 L405.7,94.5 L405.9,94.1 L406.1,93.8 L406.3,93.5 L406.5,93.2 L406.7,93.0 L407.0,92.8 L407.3,92.6 L407.7,92.4 L408.1,92.3 L408.6,92.4 L409.0,92.5 L409.3,92.7 L409.6,92.9 L409.8,93.1 L410.1,93.4 L410.3,93.7 L410.5,94.0 L410.6,94.3 L410.8,94.7 L410.9,95.0 L411.1,95.4 L411.2,95.8 L411.3,96.2 L411.4,96.6 L411.5,97.0 L411.5,97.4 L411.6,97.9 L411.6,98.3 L411.6,98.8 L411.6,99.3 L411.6,99.7 L411.6,100.2 L411.5,100.7 L411.4,101.1 L411.4,101.5 L411.3,101.9 L411.2,102.3 L411.0,102.7 L410.9,103.1 L410.8,103.4 L410.6,103.7 L410.4,104.1 L410.2,104.4 L410.0,104.7 L409.8,104.9 L409.5,105.2 L409.2,105.4 L408.9,105.5Z" fill="none" stroke="#000" stroke-width="0.7"/>
<path d="M408.4,101.9 L407.9,101.9 L407.6,101.7 L407.4,101.5 L407.2,101.2 L407.0,100.8 L406.9,100.5 L406.8,100.1 L406.7,99.6 L406.7,99.2 L406.7,98.7 L406.7,98.3 L406.8,97.8 L406.9,97.5 L407.0,97.1 L407.2,96.8 L407.4,96.5 L407.7,96.2 L408.0,96.1 L408.5,96.1 L408.8,96.3 L409.0,96.5 L409.2,96.8 L409.4,97.2 L409.5,97.5 L409.6,97.9 L409.7,98.4 L409.7,98.8 L409.7,99.3 L409.7,99.7 L409.6,100.2 L409.5,100.5 L409.4,100.9 L409.2,101.2 L409.0,101.5 L408.7,101.8 L408.4,101.9Z" fill="none" stroke="#000" stroke-width="0.7"/>
</g>
<path d="M405.60,68.40 C406.50,68.05 408.53,67.97 409.40,68.40 C410.27,68.83 410.43,69.90 410.80,71.00 C411.17,72.10 411.27,73.50 411.60,75.00 C411.93,76.50 412.40,78.33 412.80,80.00 C413.20,81.67 413.53,83.00 414.00,85.00 C414.47,87.00 415.17,89.50 415.60,92.00 C416.03,94.50 416.43,97.00 416.60,100.00 C416.77,103.00 416.77,107.17 416.60,110.00 C416.43,112.83 416.03,115.23 415.60,117.00 C415.17,118.77 414.93,120.27 414.00,120.60 C413.07,120.93 411.67,119.90 410.00,119.00 C408.33,118.10 405.92,116.62 404.00,115.20 C402.08,113.78 400.00,112.12 398.50,110.50 C397.00,108.88 396.22,106.95 395.00,105.50 C393.78,104.05 391.20,103.00 391.20,101.80 C391.20,100.60 393.73,99.85 395.00,98.30 C396.27,96.75 397.67,94.55 398.80,92.50 C399.93,90.45 401.13,88.08 401.80,86.00 C402.47,83.92 402.53,82.00 402.80,80.00 C403.07,78.00 403.20,75.58 403.40,74.00 C403.60,72.42 403.63,71.43 404.00,70.50 C404.37,69.57 404.70,68.75 405.60,68.40 Z" fill="none" stroke="#000" stroke-width="1.5"/>
<ellipse cx="374.4" cy="103" rx="2.2" ry="3.3" fill="#fff" stroke="#000" stroke-width="1.45"/>
<path d="M375.60,101.30 C376.63,100.97 381.80,102.05 381.80,102.60 C381.80,103.15 376.63,104.82 375.60,104.60 C374.57,104.38 374.57,101.63 375.60,101.30 Z" fill="#000"/>
<ellipse cx="387.6" cy="102.4" rx="1.8" ry="2.1" fill="#000"/>
<ellipse cx="391.8" cy="101.8" rx="1.3" ry="1.8" fill="#000"/>
<clipPath id="cp6"><path d="M487.00,84.20 C488.67,83.53 491.20,83.03 492.50,83.50 C493.80,83.97 494.33,85.08 494.80,87.00 C495.27,88.92 495.27,92.00 495.30,95.00 C495.33,98.00 495.18,102.00 495.00,105.00 C494.82,108.00 494.62,110.67 494.20,113.00 C493.78,115.33 493.00,117.63 492.50,119.00 C492.00,120.37 492.12,120.95 491.20,121.20 C490.28,121.45 488.53,121.28 487.00,120.50 C485.47,119.72 483.58,117.92 482.00,116.50 C480.42,115.08 478.92,113.15 477.50,112.00 C476.08,110.85 474.83,109.95 473.50,109.60 C472.17,109.25 470.83,110.03 469.50,109.90 C468.17,109.77 466.53,109.62 465.50,108.80 C464.47,107.98 463.52,106.33 463.30,105.00 C463.08,103.67 463.50,101.77 464.20,100.80 C464.90,99.83 466.28,99.45 467.50,99.20 C468.72,98.95 470.33,99.67 471.50,99.30 C472.67,98.93 473.42,98.13 474.50,97.00 C475.58,95.87 476.67,94.08 478.00,92.50 C479.33,90.92 481.00,88.88 482.50,87.50 C484.00,86.12 485.33,84.87 487.00,84.20 Z"/></clipPath>
<path d="M487.00,84.20 C488.67,83.53 491.20,83.03 492.50,83.50 C493.80,83.97 494.33,85.08 494.80,87.00 C495.27,88.92 495.27,92.00 495.30,95.00 C495.33,98.00 495.18,102.00 495.00,105.00 C494.82,108.00 494.62,110.67 494.20,113.00 C493.78,115.33 493.00,117.63 492.50,119.00 C492.00,120.37 492.12,120.95 491.20,121.20 C490.28,121.45 488.53,121.28 487.00,120.50 C485.47,119.72 483.58,117.92 482.00,116.50 C480.42,115.08 478.92,113.15 477.50,112.00 C476.08,110.85 474.83,109.95 473.50,109.60 C472.17,109.25 470.83,110.03 469.50,109.90 C468.17,109.77 466.53,109.62 465.50,108.80 C464.47,107.98 463.52,106.33 463.30,105.00 C463.08,103.67 463.50,101.77 464.20,100.80 C464.90,99.83 466.28,99.45 467.50,99.20 C468.72,98.95 470.33,99.67 471.50,99.30 C472.67,98.93 473.42,98.13 474.50,97.00 C475.58,95.87 476.67,94.08 478.00,92.50 C479.33,90.92 481.00,88.88 482.50,87.50 C484.00,86.12 485.33,84.87 487.00,84.20 Z" fill="#a0a0a0" stroke="none"/>
<g clip-path="url(#cp6)">
<path d="M487.00,84.20 C488.67,83.53 491.20,83.03 492.50,83.50 C493.80,83.97 494.33,85.08 494.80,87.00 C495.27,88.92 495.27,92.00 495.30,95.00 C495.33,98.00 495.18,102.00 495.00,105.00 C494.82,108.00 494.62,110.67 494.20,113.00 C493.78,115.33 493.00,117.63 492.50,119.00 C492.00,120.37 492.12,120.95 491.20,121.20 C490.28,121.45 488.53,121.28 487.00,120.50 C485.47,119.72 483.58,117.92 482.00,116.50 C480.42,115.08 478.92,113.15 477.50,112.00 C476.08,110.85 474.83,109.95 473.50,109.60 C472.17,109.25 470.83,110.03 469.50,109.90 C468.17,109.77 466.53,109.62 465.50,108.80 C464.47,107.98 463.52,106.33 463.30,105.00 C463.08,103.67 463.50,101.77 464.20,100.80 C464.90,99.83 466.28,99.45 467.50,99.20 C468.72,98.95 470.33,99.67 471.50,99.30 C472.67,98.93 473.42,98.13 474.50,97.00 C475.58,95.87 476.67,94.08 478.00,92.50 C479.33,90.92 481.00,88.88 482.50,87.50 C484.00,86.12 485.33,84.87 487.00,84.20 Z" fill="none" stroke="#f4f4f4" stroke-width="3.2"/>
<path d="M487.00,84.20 C488.67,83.53 491.20,83.03 492.50,83.50 C493.80,83.97 494.33,85.08 494.80,87.00 C495.27,88.92 495.27,92.00 495.30,95.00 C495.33,98.00 495.18,102.00 495.00,105.00 C494.82,108.00 494.62,110.67 494.20,113.00 C493.78,115.33 493.00,117.63 492.50,119.00 C492.00,120.37 492.12,120.95 491.20,121.20 C490.28,121.45 488.53,121.28 487.00,120.50 C485.47,119.72 483.58,117.92 482.00,116.50 C480.42,115.08 478.92,113.15 477.50,112.00 C476.08,110.85 474.83,109.95 473.50,109.60 C472.17,109.25 470.83,110.03 469.50,109.90 C468.17,109.77 466.53,109.62 465.50,108.80 C464.47,107.98 463.52,106.33 463.30,105.00 C463.08,103.67 463.50,101.77 464.20,100.80 C464.90,99.83 466.28,99.45 467.50,99.20 C468.72,98.95 470.33,99.67 471.50,99.30 C472.67,98.93 473.42,98.13 474.50,97.00 C475.58,95.87 476.67,94.08 478.00,92.50 C479.33,90.92 481.00,88.88 482.50,87.50 C484.00,86.12 485.33,84.87 487.00,84.20 Z" fill="none" stroke="#d8d8d8" stroke-width="5.5" opacity="0.6"/>
<radialGradient id="rg6_1" gradientUnits="userSpaceOnUse" cx="487.4" cy="100.3" r="8.2" gradientTransform="translate(487.4,100.3) rotate(0.0) scale(1,1.8902) translate(-487.4,-100.3)"><stop offset="0.000" stop-color="#141414"/><stop offset="0.170" stop-color="#141414"/><stop offset="0.174" stop-color="#f8f8f8"/><stop offset="0.177" stop-color="#f8f8f8"/><stop offset="0.188" stop-color="#8c8c8c"/><stop offset="0.196" stop-color="#2c2c2c"/><stop offset="0.200" stop-color="#f8f8f8"/><stop offset="0.262" stop-color="#f8f8f8"/><stop offset="0.350" stop-color="#8c8c8c"/><stop offset="0.446" stop-color="#2c2c2c"/><stop offset="0.450" stop-color="#f8f8f8"/><stop offset="0.512" stop-color="#f8f8f8"/><stop offset="0.600" stop-color="#8c8c8c"/><stop offset="0.696" stop-color="#2c2c2c"/><stop offset="0.700" stop-color="#f8f8f8"/><stop offset="0.762" stop-color="#f8f8f8"/><stop offset="0.850" stop-color="#8c8c8c"/><stop offset="0.946" stop-color="#2c2c2c"/><stop offset="0.950" stop-color="#f8f8f8"/><stop offset="1.000" stop-color="#a0a0a0"/></radialGradient>
<path d="M487.5,115.0 L487.1,115.0 L486.6,115.0 L486.2,114.9 L485.8,114.7 L485.5,114.6 L485.2,114.4 L484.9,114.2 L484.6,114.0 L484.3,113.8 L484.0,113.6 L483.8,113.3 L483.5,113.1 L483.3,112.8 L483.1,112.5 L482.8,112.2 L482.6,112.0 L482.4,111.7 L482.2,111.3 L482.1,111.0 L481.9,110.7 L481.7,110.4 L481.5,110.0 L481.4,109.7 L481.2,109.3 L481.1,109.0 L481.0,108.6 L480.8,108.2 L480.7,107.9 L480.6,107.5 L480.5,107.1 L480.4,106.7 L480.3,106.3 L480.2,105.9 L480.1,105.5 L480.0,105.1 L480.0,104.6 L479.9,104.2 L479.8,103.8 L479.8,103.3 L479.7,102.9 L479.7,102.4 L479.7,101.9 L479.6,101.5 L479.6,101.0 L479.6,100.5 L479.6,100.0 L479.6,99.5 L479.6,99.0 L479.7,98.6 L479.7,98.1 L479.7,97.6 L479.8,97.2 L479.8,96.7 L479.9,96.3 L480.0,95.9 L480.0,95.5 L480.1,95.0 L480.2,94.6 L480.3,94.2 L480.4,93.8 L480.5,93.4 L480.6,93.0 L480.7,92.7 L480.9,92.3 L481.0,91.9 L481.1,91.5 L481.3,91.2 L481.4,90.8 L481.6,90.5 L481.7,90.2 L481.9,89.8 L482.1,89.5 L482.3,89.2 L482.5,88.9 L482.7,88.6 L482.9,88.3 L483.1,88.0 L483.3,87.7 L483.5,87.5 L483.8,87.2 L484.0,87.0 L484.3,86.8 L484.6,86.5 L484.9,86.3 L485.2,86.2 L485.5,86.0 L485.9,85.8 L486.3,85.7 L486.7,85.6 L487.1,85.6 L487.6,85.6 L488.0,85.6 L488.5,85.7 L488.8,85.8 L489.2,86.0 L489.5,86.1 L489.8,86.3 L490.1,86.5 L490.4,86.7 L490.7,87.0 L491.0,87.2 L491.2,87.5 L491.4,87.7 L491.7,88.0 L491.9,88.3 L492.1,88.6 L492.3,88.9 L492.5,89.2 L492.7,89.5 L492.9,89.8 L493.0,90.1 L493.2,90.5 L493.4,90.8 L493.5,91.2 L493.7,91.5 L493.8,91.9 L493.9,92.3 L494.0,92.6 L494.2,93.0 L494.3,93.4 L494.4,93.8 L494.5,94.2 L494.6,94.6 L494.7,95.0 L494.7,95.4 L494.8,95.9 L494.8,96.4 L494.9,96.8 L494.9,97.3 L494.9,97.8 L494.9,98.3 L494.9,98.8 L495.0,99.2 L494.9,99.6 L494.9,100.1 L494.9,100.6 L494.9,101.1 L494.9,101.6 L494.8,102.1 L494.8,102.5 L494.8,103.0 L494.8,103.5 L494.7,103.9 L494.7,104.4 L494.6,104.8 L494.6,105.3 L494.5,105.7 L494.4,106.2 L494.4,106.6 L494.3,107.0 L494.2,107.4 L494.1,107.8 L494.0,108.2 L493.8,108.6 L493.7,108.9 L493.6,109.3 L493.4,109.6 L493.3,110.0 L493.1,110.3 L492.9,110.6 L492.7,111.0 L492.6,111.3 L492.4,111.6 L492.2,111.9 L492.0,112.2 L491.7,112.5 L491.5,112.8 L491.3,113.0 L491.0,113.3 L490.8,113.5 L490.5,113.8 L490.2,114.0 L489.9,114.2 L489.6,114.4 L489.3,114.6 L489.0,114.7 L488.6,114.8 L488.2,114.9 L487.7,115.0Z" fill="url(#rg6_1)" stroke="none"/>
<path d="M487.5,115.0 L487.1,115.0 L486.6,115.0 L486.2,114.9 L485.8,114.7 L485.5,114.6 L485.2,114.4 L484.9,114.2 L484.6,114.0 L484.3,113.8 L484.0,113.6 L483.8,113.3 L483.5,113.1 L483.3,112.8 L483.1,112.5 L482.8,112.2 L482.6,112.0 L482.4,111.7 L482.2,111.3 L482.1,111.0 L481.9,110.7 L481.7,110.4 L481.5,110.0 L481.4,109.7 L481.2,109.3 L481.1,109.0 L481.0,108.6 L480.8,108.2 L480.7,107.9 L480.6,107.5 L480.5,107.1 L480.4,106.7 L480.3,106.3 L480.2,105.9 L480.1,105.5 L480.0,105.1 L480.0,104.6 L479.9,104.2 L479.8,103.8 L479.8,103.3 L479.7,102.9 L479.7,102.4 L479.7,101.9 L479.6,101.5 L479.6,101.0 L479.6,100.5 L479.6,100.0 L479.6,99.5 L479.6,99.0 L479.7,98.6 L479.7,98.1 L479.7,97.6 L479.8,97.2 L479.8,96.7 L479.9,96.3 L480.0,95.9 L480.0,95.5 L480.1,95.0 L480.2,94.6 L480.3,94.2 L480.4,93.8 L480.5,93.4 L480.6,93.0 L480.7,92.7 L480.9,92.3 L481.0,91.9 L481.1,91.5 L481.3,91.2 L481.4,90.8 L481.6,90.5 L481.7,90.2 L481.9,89.8 L482.1,89.5 L482.3,89.2 L482.5,88.9 L482.7,88.6 L482.9,88.3 L483.1,88.0 L483.3,87.7 L483.5,87.5 L483.8,87.2 L484.0,87.0 L484.3,86.8 L484.6,86.5 L484.9,86.3 L485.2,86.2 L485.5,86.0 L485.9,85.8 L486.3,85.7 L486.7,85.6 L487.1,85.6 L487.6,85.6 L488.0,85.6 L488.5,85.7 L488.8,85.8 L489.2,86.0 L489.5,86.1 L489.8,86.3 L490.1,86.5 L490.4,86.7 L490.7,87.0 L491.0,87.2 L491.2,87.5 L491.4,87.7 L491.7,88.0 L491.9,88.3 L492.1,88.6 L492.3,88.9 L492.5,89.2 L492.7,89.5 L492.9,89.8 L493.0,90.1 L493.2,90.5 L493.4,90.8 L493.5,91.2 L493.7,91.5 L493.8,91.9 L493.9,92.3 L494.0,92.6 L494.2,93.0 L494.3,93.4 L494.4,93.8 L494.5,94.2 L494.6,94.6 L494.7,95.0 L494.7,95.4 L494.8,95.9 L494.8,96.4 L494.9,96.8 L494.9,97.3 L494.9,97.8 L494.9,98.3 L494.9,98.8 L495.0,99.2 L494.9,99.6 L494.9,100.1 L494.9,100.6 L494.9,101.1 L494.9,101.6 L494.8,102.1 L494.8,102.5 L494.8,103.0 L494.8,103.5 L494.7,103.9 L494.7,104.4 L494.6,104.8 L494.6,105.3 L494.5,105.7 L494.4,106.2 L494.4,106.6 L494.3,107.0 L494.2,107.4 L494.1,107.8 L494.0,108.2 L493.8,108.6 L493.7,108.9 L493.6,109.3 L493.4,109.6 L493.3,110.0 L493.1,110.3 L492.9,110.6 L492.7,111.0 L492.6,111.3 L492.4,111.6 L492.2,111.9 L492.0,112.2 L491.7,112.5 L491.5,112.8 L491.3,113.0 L491.0,113.3 L490.8,113.5 L490.5,113.8 L490.2,114.0 L489.9,114.2 L489.6,114.4 L489.3,114.6 L489.0,114.7 L488.6,114.8 L488.2,114.9 L487.7,115.0Z" fill="none" stroke="#000" stroke-width="0.7"/>
<path d="M487.7,111.1 L487.2,111.1 L486.8,111.1 L486.4,111.0 L486.0,110.8 L485.7,110.7 L485.4,110.5 L485.1,110.3 L484.8,110.0 L484.6,109.8 L484.4,109.5 L484.1,109.2 L483.9,109.0 L483.7,108.7 L483.5,108.3 L483.4,108.0 L483.2,107.7 L483.0,107.4 L482.9,107.0 L482.7,106.6 L482.6,106.3 L482.5,105.9 L482.4,105.5 L482.3,105.1 L482.2,104.7 L482.1,104.3 L482.0,103.9 L481.9,103.5 L481.8,103.0 L481.8,102.6 L481.7,102.1 L481.7,101.7 L481.7,101.2 L481.7,100.7 L481.7,100.2 L481.7,99.7 L481.7,99.2 L481.7,98.7 L481.8,98.3 L481.8,97.8 L481.9,97.4 L481.9,96.9 L482.0,96.5 L482.1,96.1 L482.2,95.7 L482.3,95.3 L482.4,94.9 L482.5,94.5 L482.6,94.2 L482.8,93.8 L482.9,93.5 L483.1,93.1 L483.2,92.8 L483.4,92.4 L483.6,92.1 L483.8,91.8 L484.0,91.5 L484.2,91.2 L484.4,91.0 L484.7,90.7 L484.9,90.5 L485.2,90.2 L485.5,90.0 L485.8,89.9 L486.1,89.7 L486.5,89.6 L486.9,89.5 L487.4,89.5 L487.9,89.5 L488.3,89.6 L488.7,89.7 L489.0,89.9 L489.3,90.1 L489.6,90.3 L489.9,90.5 L490.1,90.8 L490.4,91.0 L490.6,91.3 L490.8,91.6 L491.0,91.9 L491.2,92.2 L491.4,92.5 L491.6,92.8 L491.7,93.2 L491.9,93.5 L492.0,93.9 L492.2,94.2 L492.3,94.6 L492.4,95.0 L492.5,95.4 L492.6,95.8 L492.7,96.2 L492.8,96.6 L492.9,97.0 L492.9,97.5 L493.0,97.9 L493.0,98.3 L493.1,98.8 L493.1,99.3 L493.1,99.8 L493.1,100.3 L493.1,100.8 L493.1,101.3 L493.1,101.8 L493.0,102.3 L493.0,102.7 L492.9,103.1 L492.9,103.6 L492.8,104.0 L492.7,104.4 L492.6,104.8 L492.5,105.2 L492.4,105.6 L492.3,106.0 L492.1,106.4 L492.0,106.7 L491.9,107.1 L491.7,107.4 L491.5,107.8 L491.4,108.1 L491.2,108.4 L491.0,108.7 L490.8,109.0 L490.6,109.3 L490.3,109.6 L490.1,109.8 L489.8,110.1 L489.6,110.3 L489.3,110.5 L489.0,110.7 L488.6,110.9 L488.3,111.0 L487.8,111.1Z" fill="none" stroke="#000" stroke-width="0.7"/>
<path d="M487.8,107.2 L487.3,107.3 L486.9,107.2 L486.5,107.1 L486.2,106.9 L485.9,106.7 L485.6,106.4 L485.4,106.2 L485.2,105.9 L485.0,105.6 L484.8,105.3 L484.6,104.9 L484.5,104.6 L484.3,104.2 L484.2,103.9 L484.1,103.5 L484.0,103.1 L483.9,102.7 L483.9,102.2 L483.8,101.8 L483.7,101.3 L483.7,100.9 L483.7,100.4 L483.7,99.9 L483.7,99.4 L483.8,99.0 L483.8,98.5 L483.9,98.1 L484.0,97.7 L484.1,97.3 L484.2,96.9 L484.3,96.5 L484.4,96.1 L484.6,95.8 L484.7,95.5 L484.9,95.1 L485.1,94.8 L485.3,94.5 L485.5,94.3 L485.8,94.0 L486.0,93.8 L486.3,93.6 L486.7,93.4 L487.1,93.3 L487.6,93.3 L488.0,93.4 L488.4,93.6 L488.7,93.8 L489.0,94.0 L489.2,94.3 L489.5,94.5 L489.7,94.8 L489.9,95.1 L490.0,95.4 L490.2,95.8 L490.4,96.1 L490.5,96.5 L490.6,96.9 L490.7,97.3 L490.8,97.7 L490.9,98.1 L491.0,98.5 L491.0,99.0 L491.1,99.4 L491.1,99.9 L491.1,100.4 L491.1,100.9 L491.0,101.4 L491.0,101.8 L490.9,102.2 L490.9,102.7 L490.8,103.1 L490.7,103.5 L490.6,103.9 L490.4,104.2 L490.3,104.6 L490.1,105.0 L490.0,105.3 L489.8,105.6 L489.6,105.9 L489.4,106.2 L489.1,106.4 L488.8,106.7 L488.6,106.9 L488.2,107.1 L487.9,107.2Z" fill="none" stroke="#000" stroke-width="0.7"/>
<path d="M487.7,103.3 L487.2,103.4 L486.8,103.2 L486.6,103.0 L486.4,102.7 L486.2,102.4 L486.0,102.0 L485.9,101.7 L485.8,101.3 L485.8,100.8 L485.8,100.3 L485.8,99.8 L485.8,99.3 L485.9,98.9 L486.0,98.6 L486.2,98.2 L486.4,97.9 L486.6,97.6 L486.8,97.4 L487.2,97.2 L487.6,97.2 L487.9,97.4 L488.2,97.6 L488.4,97.9 L488.6,98.2 L488.7,98.5 L488.9,98.9 L489.0,99.3 L489.0,99.8 L489.0,100.3 L489.0,100.8 L488.9,101.3 L488.9,101.7 L488.7,102.1 L488.6,102.4 L488.4,102.7 L488.2,103.0 L487.9,103.2Z" fill="none" stroke="#000" stroke-width="0.7"/>
</g>
<path d="M487.00,84.20 C488.67,83.53 491.20,83.03 492.50,83.50 C493.80,83.97 494.33,85.08 494.80,87.00 C495.27,88.92 495.27,92.00 495.30,95.00 C495.33,98.00 495.18,102.00 495.00,105.00 C494.82,108.00 494.62,110.67 494.20,113.00 C493.78,115.33 493.00,117.63 492.50,119.00 C492.00,120.37 492.12,120.95 491.20,121.20 C490.28,121.45 488.53,121.28 487.00,120.50 C485.47,119.72 483.58,117.92 482.00,116.50 C480.42,115.08 478.92,113.15 477.50,112.00 C476.08,110.85 474.83,109.95 473.50,109.60 C472.17,109.25 470.83,110.03 469.50,109.90 C468.17,109.77 466.53,109.62 465.50,108.80 C464.47,107.98 463.52,106.33 463.30,105.00 C463.08,103.67 463.50,101.77 464.20,100.80 C464.90,99.83 466.28,99.45 467.50,99.20 C468.72,98.95 470.33,99.67 471.50,99.30 C472.67,98.93 473.42,98.13 474.50,97.00 C475.58,95.87 476.67,94.08 478.00,92.50 C479.33,90.92 481.00,88.88 482.50,87.50 C484.00,86.12 485.33,84.87 487.00,84.20 Z" fill="none" stroke="#000" stroke-width="1.5"/>
<ellipse cx="467.6" cy="104.4" rx="1.9" ry="2.3" fill="#fff" stroke="#000" stroke-width="1.45"/>
<ellipse cx="453.6" cy="104" rx="2.5" ry="3.3" fill="#000"/>
<line x1="93.6" y1="120.5" x2="93.6" y2="123.5" stroke="#000" stroke-width="1.0"/>
<path d="M92.2,120.8 L95,120.8 L93.6,123 Z" fill="#000"/>
<line x1="174.4" y1="118.5" x2="174.4" y2="123.5" stroke="#000" stroke-width="0.9"/>
<rect x="37.90" y="37.5" width="78.85" height="86.3" fill="none" stroke="#000" stroke-width="1.35"/>
<rect x="116.75" y="37.5" width="78.85" height="86.3" fill="none" stroke="#000" stroke-width="1.35"/>
<rect x="195.60" y="37.5" width="78.85" height="86.3" fill="none" stroke="#000" stroke-width="1.35"/>
<rect x="274.45" y="37.5" width="78.85" height="86.3" fill="none" stroke="#000" stroke-width="1.35"/>
<rect x="353.30" y="37.5" width="78.85" height="86.3" fill="none" stroke="#000" stroke-width="1.35"/>
<rect x="432.15" y="37.5" width="78.85" height="86.3" fill="none" stroke="#000" stroke-width="1.35"/>
<line x1="53.5" y1="175.70000000000002" x2="53.5" y2="294.90000000000003" stroke="#000" stroke-width="1.3"/>
<line x1="50.1" y1="294.3" x2="53.5" y2="294.3" stroke="#000" stroke-width="1.1"/>
<text x="46.800000000000004" y="296.8" font-size="8.4" text-anchor="end" font-weight="normal" fill="#111" >0</text>
<line x1="50.1" y1="271.18" x2="53.5" y2="271.18" stroke="#000" stroke-width="1.1"/>
<text x="46.800000000000004" y="273.68" font-size="8.4" text-anchor="end" font-weight="normal" fill="#111" >20</text>
<line x1="50.1" y1="248.06" x2="53.5" y2="248.06" stroke="#000" stroke-width="1.1"/>
<text x="46.800000000000004" y="250.56" font-size="8.4" text-anchor="end" font-weight="normal" fill="#111" >40</text>
<line x1="50.1" y1="224.94" x2="53.5" y2="224.94" stroke="#000" stroke-width="1.1"/>
<text x="46.800000000000004" y="227.44" font-size="8.4" text-anchor="end" font-weight="normal" fill="#111" >60</text>
<line x1="50.1" y1="201.82000000000002" x2="53.5" y2="201.82000000000002" stroke="#000" stroke-width="1.1"/>
<text x="46.800000000000004" y="204.32000000000002" font-size="8.4" text-anchor="end" font-weight="normal" fill="#111" >80</text>
<line x1="50.1" y1="178.70000000000002" x2="53.5" y2="178.70000000000002" stroke="#000" stroke-width="1.1"/>
<text x="46.800000000000004" y="181.20000000000002" font-size="8.4" text-anchor="end" font-weight="normal" fill="#111" >100</text>
<text x="0" y="0" font-size="9" text-anchor="middle" font-weight="normal" fill="#111" transform="translate(28.3,235.2) rotate(-90)">% lysis</text>
<line x1="52.9" y1="294.3" x2="227.5" y2="294.3" stroke="#000" stroke-width="1.3"/>
<line x1="69.5" y1="294.3" x2="69.5" y2="297.6" stroke="#000" stroke-width="1.1"/>
<text x="69.5" y="308.3" font-size="8.2" text-anchor="middle" font-weight="normal" fill="#111" >1000</text>
<line x1="93.1" y1="294.3" x2="93.1" y2="297.6" stroke="#000" stroke-width="1.1"/>
<text x="93.1" y="308.3" font-size="8.2" text-anchor="middle" font-weight="normal" fill="#111" >100</text>
<line x1="116.7" y1="294.3" x2="116.7" y2="297.6" stroke="#000" stroke-width="1.1"/>
<text x="116.7" y="308.3" font-size="8.2" text-anchor="middle" font-weight="normal" fill="#111" >10</text>
<line x1="140.3" y1="294.3" x2="140.3" y2="297.6" stroke="#000" stroke-width="1.1"/>
<text x="140.3" y="308.3" font-size="8.2" text-anchor="middle" font-weight="normal" fill="#111" >1</text>
<line x1="163.9" y1="294.3" x2="163.9" y2="297.6" stroke="#000" stroke-width="1.1"/>
<text x="163.9" y="308.3" font-size="8.2" text-anchor="middle" font-weight="normal" fill="#111" >0.1</text>
<line x1="187.5" y1="294.3" x2="187.5" y2="297.6" stroke="#000" stroke-width="1.1"/>
<text x="187.5" y="308.3" font-size="8.2" text-anchor="middle" font-weight="normal" fill="#111" >0.01</text>
<line x1="211.10000000000002" y1="294.3" x2="211.10000000000002" y2="297.6" stroke="#000" stroke-width="1.1"/>
<text x="211.10000000000002" y="308.3" font-size="8.2" text-anchor="middle" font-weight="normal" fill="#111" >0.001</text>
<text x="141" y="321.5" font-size="8.9" text-anchor="middle" font-weight="normal" fill="#111" >ng/ml HA-1 peptide</text>
<line x1="69.5" y1="178.70000000000002" x2="69.5" y2="192.572" stroke="#2b4779" stroke-width="1.1"/>
<line x1="66.3" y1="178.70000000000002" x2="72.7" y2="178.70000000000002" stroke="#2b4779" stroke-width="1.1"/>
<line x1="66.3" y1="192.572" x2="72.7" y2="192.572" stroke="#2b4779" stroke-width="1.1"/>
<line x1="93.1" y1="185.63600000000002" x2="93.1" y2="200.66400000000002" stroke="#2b4779" stroke-width="1.1"/>
<line x1="89.89999999999999" y1="185.63600000000002" x2="96.3" y2="185.63600000000002" stroke="#2b4779" stroke-width="1.1"/>
<line x1="89.89999999999999" y1="200.66400000000002" x2="96.3" y2="200.66400000000002" stroke="#2b4779" stroke-width="1.1"/>
<line x1="140.3" y1="178.70000000000002" x2="140.3" y2="197.19600000000003" stroke="#2b4779" stroke-width="1.1"/>
<line x1="137.10000000000002" y1="178.70000000000002" x2="143.5" y2="178.70000000000002" stroke="#2b4779" stroke-width="1.1"/>
<line x1="137.10000000000002" y1="197.19600000000003" x2="143.5" y2="197.19600000000003" stroke="#2b4779" stroke-width="1.1"/>
<polyline points="69.50,291.41 93.10,289.68 116.70,290.83 140.30,290.83 163.90,291.41 187.50,292.57 211.10,293.14" fill="none" stroke="#6aa93f" stroke-width="1.8" stroke-dasharray="4,2.3"/>
<polyline points="69.50,192.57 93.10,194.88 116.70,187.95 140.30,180.43 163.90,205.29 187.50,266.56 211.10,291.99" fill="none" stroke="#b3133b" stroke-width="1.8"/>
<polyline points="69.50,200.66 93.10,201.24 116.70,194.88 140.30,183.32 163.90,206.44 187.50,275.80 211.10,293.14" fill="none" stroke="#b3133b" stroke-width="1.8" stroke-dasharray="4,2.3"/>
<polyline points="69.50,185.64 93.10,193.73 116.70,186.79 140.30,182.17 163.90,201.82 187.50,264.24 211.10,289.68" fill="none" stroke="#2b4779" stroke-width="1.8"/>
<polyline points="69.50,190.26 93.10,193.73 116.70,186.79 140.30,186.79 163.90,200.66 187.50,271.18 211.10,293.14" fill="none" stroke="#2b4779" stroke-width="1.8" stroke-dasharray="4,2.3"/>
<path d="M69.5,288.15500000000003 L72.755,291.41 L69.5,294.665 L66.245,291.41 Z" fill="#6aa93f"/>
<path d="M93.1,286.421 L96.35499999999999,289.676 L93.1,292.931 L89.845,289.676 Z" fill="#6aa93f"/>
<path d="M116.7,287.577 L119.955,290.832 L116.7,294.087 L113.44500000000001,290.832 Z" fill="#6aa93f"/>
<path d="M140.3,287.577 L143.555,290.832 L140.3,294.087 L137.04500000000002,290.832 Z" fill="#6aa93f"/>
<path d="M163.9,288.15500000000003 L167.155,291.41 L163.9,294.665 L160.645,291.41 Z" fill="#6aa93f"/>
<path d="M187.5,289.31100000000004 L190.755,292.56600000000003 L187.5,295.821 L184.245,292.56600000000003 Z" fill="#6aa93f"/>
<path d="M211.10000000000002,289.889 L214.35500000000002,293.144 L211.10000000000002,296.399 L207.84500000000003,293.144 Z" fill="#6aa93f"/>
<rect x="66.3" y="189.372" width="6.4" height="6.4" fill="#b3133b"/>
<rect x="89.89999999999999" y="191.68400000000003" width="6.4" height="6.4" fill="#b3133b"/>
<rect x="113.5" y="184.74800000000005" width="6.4" height="6.4" fill="#b3133b"/>
<rect x="137.10000000000002" y="177.23400000000004" width="6.4" height="6.4" fill="#b3133b"/>
<rect x="160.70000000000002" y="202.08800000000002" width="6.4" height="6.4" fill="#b3133b"/>
<rect x="184.3" y="263.35600000000005" width="6.4" height="6.4" fill="#b3133b"/>
<rect x="207.90000000000003" y="288.788" width="6.4" height="6.4" fill="#b3133b"/>
<rect x="66.5" y="197.66400000000002" width="6.0" height="6.0" fill="#fff" stroke="#b3133b" stroke-width="1.3"/>
<rect x="90.1" y="198.24200000000002" width="6.0" height="6.0" fill="#fff" stroke="#b3133b" stroke-width="1.3"/>
<rect x="113.7" y="191.88400000000001" width="6.0" height="6.0" fill="#fff" stroke="#b3133b" stroke-width="1.3"/>
<rect x="137.3" y="180.324" width="6.0" height="6.0" fill="#fff" stroke="#b3133b" stroke-width="1.3"/>
<rect x="160.9" y="203.44400000000002" width="6.0" height="6.0" fill="#fff" stroke="#b3133b" stroke-width="1.3"/>
<rect x="184.5" y="272.80400000000003" width="6.0" height="6.0" fill="#fff" stroke="#b3133b" stroke-width="1.3"/>
<rect x="208.10000000000002" y="290.144" width="6.0" height="6.0" fill="#fff" stroke="#b3133b" stroke-width="1.3"/>
<circle cx="69.5" cy="185.63600000000002" r="3.5" fill="#2b4779"/>
<circle cx="93.1" cy="193.728" r="3.5" fill="#2b4779"/>
<circle cx="116.7" cy="186.79200000000003" r="3.5" fill="#2b4779"/>
<circle cx="140.3" cy="182.168" r="3.5" fill="#2b4779"/>
<circle cx="163.9" cy="201.82000000000002" r="3.5" fill="#2b4779"/>
<circle cx="187.5" cy="264.244" r="3.5" fill="#2b4779"/>
<circle cx="211.10000000000002" cy="289.676" r="3.5" fill="#2b4779"/>
<circle cx="69.5" cy="190.26000000000002" r="3.2" fill="#fff" stroke="#2b4779" stroke-width="1.3"/>
<circle cx="93.1" cy="193.728" r="3.2" fill="#fff" stroke="#2b4779" stroke-width="1.3"/>
<circle cx="116.7" cy="186.79200000000003" r="3.2" fill="#fff" stroke="#2b4779" stroke-width="1.3"/>
<circle cx="140.3" cy="186.79200000000003" r="3.2" fill="#fff" stroke="#2b4779" stroke-width="1.3"/>
<circle cx="163.9" cy="200.66400000000002" r="3.2" fill="#fff" stroke="#2b4779" stroke-width="1.3"/>
<circle cx="187.5" cy="271.18" r="3.2" fill="#fff" stroke="#2b4779" stroke-width="1.3"/>
<circle cx="211.10000000000002" cy="293.144" r="3.2" fill="#fff" stroke="#2b4779" stroke-width="1.3"/>
<line x1="64.6" y1="223.0" x2="68.6" y2="223.0" stroke="#2b4779" stroke-width="1.7"/>
<line x1="79.2" y1="223.0" x2="83.4" y2="223.0" stroke="#2b4779" stroke-width="1.7"/>
<circle cx="73.9" cy="223.0" r="3.2" fill="#fff" stroke="#2b4779" stroke-width="1.3"/>
<text x="86.8" y="225.8" font-size="7.8" text-anchor="start" font-weight="normal" fill="#111" >Clone 2</text>
<line x1="64.6" y1="234.45" x2="83.4" y2="234.45" stroke="#2b4779" stroke-width="1.7"/>
<circle cx="73.9" cy="234.45" r="3.5" fill="#2b4779"/>
<text x="86.8" y="237.25" font-size="7.8" text-anchor="start" font-weight="normal" fill="#111" >HA-1 TCR2</text>
<line x1="64.6" y1="245.9" x2="68.6" y2="245.9" stroke="#b3133b" stroke-width="1.7"/>
<line x1="79.2" y1="245.9" x2="83.4" y2="245.9" stroke="#b3133b" stroke-width="1.7"/>
<rect x="70.9" y="242.9" width="6.0" height="6.0" fill="#fff" stroke="#b3133b" stroke-width="1.3"/>
<text x="86.8" y="248.70000000000002" font-size="7.8" text-anchor="start" font-weight="normal" fill="#111" >Clone 16</text>
<line x1="64.6" y1="257.35" x2="83.4" y2="257.35" stroke="#b3133b" stroke-width="1.7"/>
<rect x="70.7" y="254.15000000000003" width="6.4" height="6.4" fill="#b3133b"/>
<text x="86.8" y="260.15000000000003" font-size="7.8" text-anchor="start" font-weight="normal" fill="#111" >HA-1 TCR16</text>
<line x1="64.6" y1="268.8" x2="68.6" y2="268.8" stroke="#6aa93f" stroke-width="1.7"/>
<line x1="79.2" y1="268.8" x2="83.4" y2="268.8" stroke="#6aa93f" stroke-width="1.7"/>
<path d="M73.9,265.44 L77.26,268.8 L73.9,272.16 L70.54,268.8 Z" fill="#6aa93f"/>
<text x="86.8" y="271.6" font-size="7.8" text-anchor="start" font-weight="normal" fill="#111" >Clone control</text>
<line x1="290.3" y1="175.70000000000002" x2="290.3" y2="294.90000000000003" stroke="#000" stroke-width="1.3"/>
<line x1="286.90000000000003" y1="294.3" x2="290.3" y2="294.3" stroke="#000" stroke-width="1.1"/>
<text x="283.6" y="296.8" font-size="8.4" text-anchor="end" font-weight="normal" fill="#111" >0</text>
<line x1="286.90000000000003" y1="271.18" x2="290.3" y2="271.18" stroke="#000" stroke-width="1.1"/>
<text x="283.6" y="273.68" font-size="8.4" text-anchor="end" font-weight="normal" fill="#111" >20</text>
<line x1="286.90000000000003" y1="248.06" x2="290.3" y2="248.06" stroke="#000" stroke-width="1.1"/>
<text x="283.6" y="250.56" font-size="8.4" text-anchor="end" font-weight="normal" fill="#111" >40</text>
<line x1="286.90000000000003" y1="224.94" x2="290.3" y2="224.94" stroke="#000" stroke-width="1.1"/>
<text x="283.6" y="227.44" font-size="8.4" text-anchor="end" font-weight="normal" fill="#111" >60</text>
<line x1="286.90000000000003" y1="201.82000000000002" x2="290.3" y2="201.82000000000002" stroke="#000" stroke-width="1.1"/>
<text x="283.6" y="204.32000000000002" font-size="8.4" text-anchor="end" font-weight="normal" fill="#111" >80</text>
<line x1="286.90000000000003" y1="178.70000000000002" x2="290.3" y2="178.70000000000002" stroke="#000" stroke-width="1.1"/>
<text x="283.6" y="181.20000000000002" font-size="8.4" text-anchor="end" font-weight="normal" fill="#111" >100</text>
<text x="0" y="0" font-size="9" text-anchor="middle" font-weight="normal" fill="#111" transform="translate(265.2,235.2) rotate(-90)">% lysis</text>
<line x1="289.7" y1="294.3" x2="463.3" y2="294.3" stroke="#000" stroke-width="1.3"/>
<line x1="308.0" y1="294.3" x2="308.0" y2="297.6" stroke="#000" stroke-width="1.1"/>
<text x="308.0" y="308.3" font-size="8.2" text-anchor="middle" font-weight="normal" fill="#111" >20:1</text>
<line x1="335.5" y1="294.3" x2="335.5" y2="297.6" stroke="#000" stroke-width="1.1"/>
<text x="335.5" y="308.3" font-size="8.2" text-anchor="middle" font-weight="normal" fill="#111" >10:1</text>
<line x1="363.0" y1="294.3" x2="363.0" y2="297.6" stroke="#000" stroke-width="1.1"/>
<text x="363.0" y="308.3" font-size="8.2" text-anchor="middle" font-weight="normal" fill="#111" >5:1</text>
<line x1="390.5" y1="294.3" x2="390.5" y2="297.6" stroke="#000" stroke-width="1.1"/>
<text x="390.5" y="308.3" font-size="8.2" text-anchor="middle" font-weight="normal" fill="#111" >2.5:1</text>
<line x1="418.0" y1="294.3" x2="418.0" y2="297.6" stroke="#000" stroke-width="1.1"/>
<text x="418.0" y="308.3" font-size="8.2" text-anchor="middle" font-weight="normal" fill="#111" >1:1</text>
<line x1="445.5" y1="294.3" x2="445.5" y2="297.6" stroke="#000" stroke-width="1.1"/>
<text x="445.5" y="308.3" font-size="8.2" text-anchor="middle" font-weight="normal" fill="#111" >0.5:1</text>
<text x="361" y="322" font-size="9.6" text-anchor="start" font-weight="normal" fill="#111" textLength="31.6" lengthAdjust="spacingAndGlyphs">E:T ratio</text>
<line x1="308.0" y1="191.41600000000003" x2="308.0" y2="201.82000000000002" stroke="#2b4779" stroke-width="1.1"/>
<line x1="304.8" y1="191.41600000000003" x2="311.2" y2="191.41600000000003" stroke="#2b4779" stroke-width="1.1"/>
<line x1="304.8" y1="201.82000000000002" x2="311.2" y2="201.82000000000002" stroke="#2b4779" stroke-width="1.1"/>
<line x1="363.0" y1="230.142" x2="363.0" y2="235.92200000000003" stroke="#2b4779" stroke-width="1.1"/>
<line x1="359.8" y1="230.142" x2="366.2" y2="230.142" stroke="#2b4779" stroke-width="1.1"/>
<line x1="359.8" y1="235.92200000000003" x2="366.2" y2="235.92200000000003" stroke="#2b4779" stroke-width="1.1"/>
<line x1="418.0" y1="265.40000000000003" x2="418.0" y2="270.024" stroke="#2b4779" stroke-width="1.1"/>
<line x1="414.8" y1="265.40000000000003" x2="421.2" y2="265.40000000000003" stroke="#2b4779" stroke-width="1.1"/>
<line x1="414.8" y1="270.024" x2="421.2" y2="270.024" stroke="#2b4779" stroke-width="1.1"/>
<polyline points="308.00,207.60 335.50,229.56 363.00,253.84 390.50,270.02 418.00,279.27 445.50,286.21" fill="none" stroke="#b3133b" stroke-width="1.9"/>
<polyline points="308.00,198.35 335.50,211.07 363.00,233.03 390.50,253.84 418.00,267.71 445.50,280.43" fill="none" stroke="#2b4779" stroke-width="1.9"/>
<rect x="304.6" y="204.20000000000002" width="6.8" height="6.8" fill="#b3133b"/>
<rect x="332.1" y="226.16400000000002" width="6.8" height="6.8" fill="#b3133b"/>
<rect x="359.6" y="250.44000000000003" width="6.8" height="6.8" fill="#b3133b"/>
<rect x="387.1" y="266.624" width="6.8" height="6.8" fill="#b3133b"/>
<rect x="414.6" y="275.872" width="6.8" height="6.8" fill="#b3133b"/>
<rect x="442.1" y="282.80800000000005" width="6.8" height="6.8" fill="#b3133b"/>
<circle cx="308.0" cy="198.35200000000003" r="3.5" fill="#2b4779"/>
<circle cx="335.5" cy="211.068" r="3.5" fill="#2b4779"/>
<circle cx="363.0" cy="233.032" r="3.5" fill="#2b4779"/>
<circle cx="390.5" cy="253.84000000000003" r="3.5" fill="#2b4779"/>
<circle cx="418.0" cy="267.712" r="3.5" fill="#2b4779"/>
<circle cx="445.5" cy="280.428" r="3.5" fill="#2b4779"/>
<line x1="378.8" y1="183.3" x2="397" y2="183.3" stroke="#2b4779" stroke-width="1.9"/>
<circle cx="388" cy="183.3" r="3.5999999999999996" fill="#2b4779"/>
<text x="400.8" y="186.10000000000002" font-size="7.8" text-anchor="start" font-weight="normal" fill="#111" >HA-1 TCR2</text>
<line x1="378.8" y1="194.5" x2="397" y2="194.5" stroke="#b3133b" stroke-width="1.9"/>
<rect x="384.7" y="191.2" width="6.6" height="6.6" fill="#b3133b"/>
<text x="400.8" y="197.3" font-size="7.8" text-anchor="start" font-weight="normal" fill="#111" >HA-1 TCR16</text>
<line x1="53.5" y1="357.5" x2="53.5" y2="477.20000000000005" stroke="#000" stroke-width="1.3"/>
<line x1="50.1" y1="476.6" x2="53.5" y2="476.6" stroke="#000" stroke-width="1.1"/>
<text x="46.800000000000004" y="479.1" font-size="8.4" text-anchor="end" font-weight="normal" fill="#111" >0</text>
<line x1="50.1" y1="453.38" x2="53.5" y2="453.38" stroke="#000" stroke-width="1.1"/>
<text x="46.800000000000004" y="455.88" font-size="8.4" text-anchor="end" font-weight="normal" fill="#111" >20</text>
<line x1="50.1" y1="430.16" x2="53.5" y2="430.16" stroke="#000" stroke-width="1.1"/>
<text x="46.800000000000004" y="432.66" font-size="8.4" text-anchor="end" font-weight="normal" fill="#111" >40</text>
<line x1="50.1" y1="406.94000000000005" x2="53.5" y2="406.94000000000005" stroke="#000" stroke-width="1.1"/>
<text x="46.800000000000004" y="409.44000000000005" font-size="8.4" text-anchor="end" font-weight="normal" fill="#111" >60</text>
<line x1="50.1" y1="383.72" x2="53.5" y2="383.72" stroke="#000" stroke-width="1.1"/>
<text x="46.800000000000004" y="386.22" font-size="8.4" text-anchor="end" font-weight="normal" fill="#111" >80</text>
<line x1="50.1" y1="360.5" x2="53.5" y2="360.5" stroke="#000" stroke-width="1.1"/>
<text x="46.800000000000004" y="363.0" font-size="8.4" text-anchor="end" font-weight="normal" fill="#111" >100</text>
<text x="0" y="0" font-size="9" text-anchor="middle" font-weight="normal" fill="#111" transform="translate(27.0,417.5) rotate(-90)">% lysis</text>
<line x1="52.9" y1="476.6" x2="228" y2="476.6" stroke="#000" stroke-width="1.3"/>
<line x1="75.2" y1="476.6" x2="75.2" y2="479.8" stroke="#000" stroke-width="1.1"/>
<line x1="118.6" y1="476.6" x2="118.6" y2="479.8" stroke="#000" stroke-width="1.1"/>
<line x1="162" y1="476.6" x2="162" y2="479.8" stroke="#000" stroke-width="1.1"/>
<line x1="205" y1="476.6" x2="205" y2="479.8" stroke="#000" stroke-width="1.1"/>
<text x="60.8" y="490.4" font-size="8.6" fill="#111" textLength="14.2" lengthAdjust="spacingAndGlyphs">HA1</text>
<text x="76.4" y="486.6" font-size="5.4" fill="#222" style="stroke-width:0.05px" textLength="14.2" lengthAdjust="spacingAndGlyphs">+H/H</text>
<text x="103.1" y="490.4" font-size="8.6" fill="#111" textLength="15.2" lengthAdjust="spacingAndGlyphs">HA1</text>
<text x="118.9" y="486.6" font-size="5.4" fill="#222" style="stroke-width:0.05px" textLength="16.1" lengthAdjust="spacingAndGlyphs">+ H/R</text>
<text x="148.1" y="490.4" font-size="8.6" fill="#111" textLength="15.3" lengthAdjust="spacingAndGlyphs">HA1</text>
<text x="163.9" y="486.6" font-size="5.4" fill="#222" style="stroke-width:0.05px" textLength="12.6" lengthAdjust="spacingAndGlyphs">-R/R</text>
<text x="190.4" y="490.4" font-size="8.6" fill="#111" textLength="27.7" lengthAdjust="spacingAndGlyphs">HLA-A2</text>
<text x="218.6" y="486.6" font-size="5.4" fill="#222" style="stroke-width:0.05px" textLength="2.8" lengthAdjust="spacingAndGlyphs">-</text>
<line x1="75.2" y1="380.5" x2="75.2" y2="416.5" stroke="#3d5a8a" stroke-width="1.1"/>
<line x1="68.0" y1="380.5" x2="82.4" y2="380.5" stroke="#3d5a8a" stroke-width="1.1"/>
<line x1="68.0" y1="416.5" x2="82.4" y2="416.5" stroke="#3d5a8a" stroke-width="1.1"/>
<line x1="60.7" y1="398.4" x2="89.8" y2="398.4" stroke="#000" stroke-width="1.3"/>
<circle cx="75.2" cy="377.4" r="2.5" fill="#2e4670"/>
<circle cx="67.4" cy="389" r="2.5" fill="#2e4670"/>
<circle cx="83" cy="389.3" r="2.5" fill="#2e4670"/>
<circle cx="75.2" cy="396.3" r="2.5" fill="#2e4670"/>
<circle cx="75.2" cy="413.1" r="2.5" fill="#2e4670"/>
<circle cx="75.2" cy="426.6" r="2.5" fill="#2e4670"/>
<rect x="112.4" y="384.2" width="4.6" height="4.6" fill="#2e4670"/>
<rect x="120.3" y="384.6" width="4.6" height="4.6" fill="#2e4670"/>
<rect x="106.5" y="394.5" width="4.6" height="4.6" fill="#2e4670"/>
<rect x="111.1" y="394.5" width="4.6" height="4.6" fill="#2e4670"/>
<rect x="120.5" y="394.5" width="4.6" height="4.6" fill="#2e4670"/>
<rect x="125.5" y="394.5" width="4.6" height="4.6" fill="#2e4670"/>
<rect x="105.9" y="398.0" width="4.6" height="4.6" fill="#2e4670"/>
<rect x="110.2" y="398.0" width="4.6" height="4.6" fill="#2e4670"/>
<rect x="114.7" y="398.3" width="4.6" height="4.6" fill="#2e4670"/>
<rect x="119.2" y="398.0" width="4.6" height="4.6" fill="#2e4670"/>
<rect x="123.7" y="398.0" width="4.6" height="4.6" fill="#2e4670"/>
<rect x="127.3" y="398.0" width="4.6" height="4.6" fill="#2e4670"/>
<rect x="106.3" y="401.3" width="4.6" height="4.6" fill="#2e4670"/>
<rect x="110.7" y="401.3" width="4.6" height="4.6" fill="#2e4670"/>
<rect x="115.2" y="401.5" width="4.6" height="4.6" fill="#2e4670"/>
<rect x="119.7" y="401.3" width="4.6" height="4.6" fill="#2e4670"/>
<rect x="124.2" y="401.3" width="4.6" height="4.6" fill="#2e4670"/>
<rect x="126.9" y="401.3" width="4.6" height="4.6" fill="#2e4670"/>
<rect x="107.3" y="404.5" width="4.6" height="4.6" fill="#2e4670"/>
<rect x="111.7" y="404.7" width="4.6" height="4.6" fill="#2e4670"/>
<rect x="120.7" y="404.7" width="4.6" height="4.6" fill="#2e4670"/>
<rect x="125.3" y="404.5" width="4.6" height="4.6" fill="#2e4670"/>
<rect x="110.3" y="407.3" width="4.6" height="4.6" fill="#2e4670"/>
<rect x="114.7" y="407.7" width="4.6" height="4.6" fill="#2e4670"/>
<rect x="119.2" y="407.7" width="4.6" height="4.6" fill="#2e4670"/>
<rect x="123.1" y="407.3" width="4.6" height="4.6" fill="#2e4670"/>
<rect x="120.3" y="415.0" width="4.6" height="4.6" fill="#2e4670"/>
<rect x="112.6" y="422.4" width="4.6" height="4.6" fill="#2e4670"/>
<rect x="116.4" y="405.8" width="4.4" height="2.6" fill="#6f88b8"/>
<line x1="104" y1="403.1" x2="133.7" y2="403.1" stroke="#000" stroke-width="1.3"/>
<path d="M148,469.6 L153,469.2 L157,470.4 L162,471 L167,470.4 L171.5,469.2 L176.8,469.6 L177.4,473.2 L173.2,474.3 L170.2,476.2 L166.8,477.8 L162.4,478.8 L158.2,477.8 L154.6,476.2 L151.6,474.3 L147.4,473.2 Z" fill="#2e4670"/>
<path d="M150.6,464.9 L153.35,469.4 L147.85,469.4 Z" fill="#2e4670"/>
<path d="M174.4,464.9 L177.15,469.4 L171.65,469.4 Z" fill="#2e4670"/>
<path d="M162.2,464.7 L164.95,469.2 L159.45,469.2 Z" fill="#2e4670"/>
<path d="M154.5,467.1 L157.25,471.6 L151.75,471.6 Z" fill="#2e4670"/>
<path d="M158.5,468.5 L161.25,473.0 L155.75,473.0 Z" fill="#2e4670"/>
<path d="M166,468.5 L168.75,473.0 L163.25,473.0 Z" fill="#2e4670"/>
<path d="M170.2,467.1 L172.95,471.6 L167.45,471.6 Z" fill="#2e4670"/>
<path d="M162.2,470.2 L160.5,472 L163.9,472 Z" fill="#2e4670"/>
<line x1="147.5" y1="472.4" x2="177.2" y2="472.4" stroke="#000" stroke-width="1.2"/>
<path d="M205.6,463.2 L208.35,458.7 L202.85,458.7 Z" fill="#2e4670"/>
<path d="M197,468.5 L214.2,468.5 L211,471 L208.2,473.6 L205.6,476.6 L203,473.6 L200.2,471 Z" fill="#2e4670"/>
<path d="M194.4,468.4 L197.04,464.08 L191.76000000000002,464.08 Z" fill="#2e4670"/>
<path d="M197.6,468.7 L200.23999999999998,464.38 L194.96,464.38 Z" fill="#2e4670"/>
<path d="M200.8,468.79999999999995 L203.44,464.47999999999996 L198.16000000000003,464.47999999999996 Z" fill="#2e4670"/>
<path d="M203.3,469.0 L205.94,464.68 L200.66000000000003,464.68 Z" fill="#2e4670"/>
<path d="M207.9,469.0 L210.54,464.68 L205.26000000000002,464.68 Z" fill="#2e4670"/>
<path d="M210.5,468.79999999999995 L213.14,464.47999999999996 L207.86,464.47999999999996 Z" fill="#2e4670"/>
<path d="M213.6,468.7 L216.23999999999998,464.38 L210.96,464.38 Z" fill="#2e4670"/>
<path d="M216.9,468.4 L219.54,464.08 L214.26000000000002,464.08 Z" fill="#2e4670"/>
<path d="M200.6,471.9 L203.23999999999998,467.58 L197.96,467.58 Z" fill="#2e4670"/>
<path d="M204.2,472.4 L206.83999999999997,468.08 L201.56,468.08 Z" fill="#2e4670"/>
<path d="M207.2,472.4 L209.83999999999997,468.08 L204.56,468.08 Z" fill="#2e4670"/>
<path d="M210.8,471.9 L213.44,467.58 L208.16000000000003,467.58 Z" fill="#2e4670"/>
<path d="M203.2,475.0 L205.83999999999997,470.68 L200.56,470.68 Z" fill="#2e4670"/>
<path d="M206.6,475.2 L209.23999999999998,470.88 L203.96,470.88 Z" fill="#2e4670"/>
<path d="M205.2,477.2 L207.83999999999997,472.88 L202.56,472.88 Z" fill="#2e4670"/>
<path d="M205.6,468.6 L207.9,464.4 L203.3,464.4 Z" fill="#fff"/>
<line x1="190.8" y1="469.2" x2="220" y2="469.2" stroke="#000" stroke-width="1.2"/>
<line x1="289.5" y1="357.5" x2="289.5" y2="477.20000000000005" stroke="#000" stroke-width="1.3"/>
<line x1="286.1" y1="476.6" x2="289.5" y2="476.6" stroke="#000" stroke-width="1.1"/>
<text x="282.8" y="479.1" font-size="8.4" text-anchor="end" font-weight="normal" fill="#111" >0</text>
<line x1="286.1" y1="453.38" x2="289.5" y2="453.38" stroke="#000" stroke-width="1.1"/>
<text x="282.8" y="455.88" font-size="8.4" text-anchor="end" font-weight="normal" fill="#111" >20</text>
<line x1="286.1" y1="430.16" x2="289.5" y2="430.16" stroke="#000" stroke-width="1.1"/>
<text x="282.8" y="432.66" font-size="8.4" text-anchor="end" font-weight="normal" fill="#111" >40</text>
<line x1="286.1" y1="406.94000000000005" x2="289.5" y2="406.94000000000005" stroke="#000" stroke-width="1.1"/>
<text x="282.8" y="409.44000000000005" font-size="8.4" text-anchor="end" font-weight="normal" fill="#111" >60</text>
<line x1="286.1" y1="383.72" x2="289.5" y2="383.72" stroke="#000" stroke-width="1.1"/>
<text x="282.8" y="386.22" font-size="8.4" text-anchor="end" font-weight="normal" fill="#111" >80</text>
<line x1="286.1" y1="360.5" x2="289.5" y2="360.5" stroke="#000" stroke-width="1.1"/>
<text x="282.8" y="363.0" font-size="8.4" text-anchor="end" font-weight="normal" fill="#111" >100</text>
<text x="0" y="0" font-size="9" text-anchor="middle" font-weight="normal" fill="#111" transform="translate(263.5,417.5) rotate(-90)">% lysis</text>
<line x1="288.9" y1="476.6" x2="464.3" y2="476.6" stroke="#000" stroke-width="1.3"/>
<rect x="291.95" y="472.65" width="6.3" height="3.95" fill="#33466a"/>
<line x1="295.1" y1="471.2594" x2="295.1" y2="472.6526" stroke="#111" stroke-width="1.0"/>
<line x1="293.5" y1="471.2594" x2="296.70000000000005" y2="471.2594" stroke="#111" stroke-width="1.0"/>
<line x1="295.1" y1="476.6" x2="295.1" y2="479.8" stroke="#000" stroke-width="1.1"/>
<text x="0" y="0" font-size="8.1" text-anchor="end" font-weight="normal" fill="#111" transform="translate(298.00,482.2) rotate(-90)">A1</text>
<rect x="302.03" y="404.04" width="6.3" height="72.56" fill="#2a4a86"/>
<line x1="305.18" y1="401.7155" x2="305.18" y2="404.0375" stroke="#111" stroke-width="1.0"/>
<line x1="303.58" y1="401.7155" x2="306.78000000000003" y2="401.7155" stroke="#111" stroke-width="1.0"/>
<line x1="305.18" y1="476.6" x2="305.18" y2="479.8" stroke="#000" stroke-width="1.1"/>
<text x="0" y="0" font-size="8.1" text-anchor="end" font-weight="normal" fill="#111" transform="translate(308.08,482.2) rotate(-90)">A2</text>
<rect x="312.11" y="470.80" width="6.3" height="5.81" fill="#4a5b82"/>
<line x1="315.26000000000005" y1="469.86620000000005" x2="315.26000000000005" y2="470.795" stroke="#111" stroke-width="1.0"/>
<line x1="313.66" y1="469.86620000000005" x2="316.86000000000007" y2="469.86620000000005" stroke="#111" stroke-width="1.0"/>
<line x1="315.26000000000005" y1="476.6" x2="315.26000000000005" y2="479.8" stroke="#000" stroke-width="1.1"/>
<text x="0" y="0" font-size="8.1" text-anchor="end" font-weight="normal" fill="#111" transform="translate(318.16,482.2) rotate(-90)">A3</text>
<rect x="322.19" y="471.72" width="6.3" height="4.88" fill="#6c6e9c"/>
<line x1="325.34000000000003" y1="470.795" x2="325.34000000000003" y2="471.72380000000004" stroke="#111" stroke-width="1.0"/>
<line x1="323.74" y1="470.795" x2="326.94000000000005" y2="470.795" stroke="#111" stroke-width="1.0"/>
<line x1="325.34000000000003" y1="476.6" x2="325.34000000000003" y2="479.8" stroke="#000" stroke-width="1.1"/>
<text x="0" y="0" font-size="8.1" text-anchor="end" font-weight="normal" fill="#111" transform="translate(328.24,482.2) rotate(-90)">A11</text>
<rect x="332.27" y="470.10" width="6.3" height="6.50" fill="#c2c3dc"/>
<line x1="335.42" y1="469.1696" x2="335.42" y2="470.0984" stroke="#111" stroke-width="1.0"/>
<line x1="333.82" y1="469.1696" x2="337.02000000000004" y2="469.1696" stroke="#111" stroke-width="1.0"/>
<line x1="335.42" y1="476.6" x2="335.42" y2="479.8" stroke="#000" stroke-width="1.1"/>
<text x="0" y="0" font-size="8.1" text-anchor="end" font-weight="normal" fill="#111" transform="translate(338.32,482.2) rotate(-90)">A24</text>
<rect x="342.35" y="472.42" width="6.3" height="4.18" fill="#d2d3cc"/>
<line x1="345.5" y1="470.6789" x2="345.5" y2="472.42040000000003" stroke="#111" stroke-width="1.0"/>
<line x1="343.9" y1="470.6789" x2="347.1" y2="470.6789" stroke="#111" stroke-width="1.0"/>
<line x1="345.5" y1="476.6" x2="345.5" y2="479.8" stroke="#000" stroke-width="1.1"/>
<text x="0" y="0" font-size="8.1" text-anchor="end" font-weight="normal" fill="#111" transform="translate(348.40,482.2) rotate(-90)">B7</text>
<rect x="352.43" y="472.19" width="6.3" height="4.41" fill="#b4c2b6"/>
<line x1="355.58000000000004" y1="471.02720000000005" x2="355.58000000000004" y2="472.18820000000005" stroke="#111" stroke-width="1.0"/>
<line x1="353.98" y1="471.02720000000005" x2="357.18000000000006" y2="471.02720000000005" stroke="#111" stroke-width="1.0"/>
<line x1="355.58000000000004" y1="476.6" x2="355.58000000000004" y2="479.8" stroke="#000" stroke-width="1.1"/>
<text x="0" y="0" font-size="8.1" text-anchor="end" font-weight="normal" fill="#111" transform="translate(358.48,482.2) rotate(-90)">B8</text>
<rect x="362.51" y="470.80" width="6.3" height="5.81" fill="#7d9c88"/>
<line x1="365.66" y1="469.86620000000005" x2="365.66" y2="470.795" stroke="#111" stroke-width="1.0"/>
<line x1="364.06" y1="469.86620000000005" x2="367.26000000000005" y2="469.86620000000005" stroke="#111" stroke-width="1.0"/>
<line x1="365.66" y1="476.6" x2="365.66" y2="479.8" stroke="#000" stroke-width="1.1"/>
<text x="0" y="0" font-size="8.1" text-anchor="end" font-weight="normal" fill="#111" transform="translate(368.56,482.2) rotate(-90)">B15</text>
<rect x="372.59" y="471.72" width="6.3" height="4.88" fill="#5e8272"/>
<line x1="375.74" y1="471.02720000000005" x2="375.74" y2="471.72380000000004" stroke="#111" stroke-width="1.0"/>
<line x1="374.14" y1="471.02720000000005" x2="377.34000000000003" y2="471.02720000000005" stroke="#111" stroke-width="1.0"/>
<line x1="375.74" y1="476.6" x2="375.74" y2="479.8" stroke="#000" stroke-width="1.1"/>
<text x="0" y="0" font-size="8.1" text-anchor="end" font-weight="normal" fill="#111" transform="translate(378.64,482.2) rotate(-90)">B35</text>
<rect x="382.67" y="470.45" width="6.3" height="6.15" fill="#4d7262"/>
<line x1="385.82000000000005" y1="467.89250000000004" x2="385.82000000000005" y2="470.4467" stroke="#111" stroke-width="1.0"/>
<line x1="384.22" y1="467.89250000000004" x2="387.4200000000001" y2="467.89250000000004" stroke="#111" stroke-width="1.0"/>
<line x1="385.82000000000005" y1="476.6" x2="385.82000000000005" y2="479.8" stroke="#000" stroke-width="1.1"/>
<text x="0" y="0" font-size="8.1" text-anchor="end" font-weight="normal" fill="#111" transform="translate(388.72,482.2) rotate(-90)">B40</text>
<rect x="392.75" y="471.61" width="6.3" height="4.99" fill="#3a5a4a"/>
<line x1="395.90000000000003" y1="470.6789" x2="395.90000000000003" y2="471.6077" stroke="#111" stroke-width="1.0"/>
<line x1="394.3" y1="470.6789" x2="397.50000000000006" y2="470.6789" stroke="#111" stroke-width="1.0"/>
<line x1="395.90000000000003" y1="476.6" x2="395.90000000000003" y2="479.8" stroke="#000" stroke-width="1.1"/>
<text x="0" y="0" font-size="8.1" text-anchor="end" font-weight="normal" fill="#111" transform="translate(398.80,482.2) rotate(-90)">B44</text>
<rect x="402.83" y="471.03" width="6.3" height="5.57" fill="#dcc22a"/>
<line x1="405.98" y1="469.634" x2="405.98" y2="471.02720000000005" stroke="#111" stroke-width="1.0"/>
<line x1="404.38" y1="469.634" x2="407.58000000000004" y2="469.634" stroke="#111" stroke-width="1.0"/>
<line x1="405.98" y1="476.6" x2="405.98" y2="479.8" stroke="#000" stroke-width="1.1"/>
<text x="0" y="0" font-size="8.1" text-anchor="end" font-weight="normal" fill="#111" transform="translate(408.88,482.2) rotate(-90)">C3</text>
<rect x="412.91" y="471.26" width="6.3" height="5.34" fill="#e8d894"/>
<line x1="416.06000000000006" y1="470.0984" x2="416.06000000000006" y2="471.2594" stroke="#111" stroke-width="1.0"/>
<line x1="414.46000000000004" y1="470.0984" x2="417.6600000000001" y2="470.0984" stroke="#111" stroke-width="1.0"/>
<line x1="416.06000000000006" y1="476.6" x2="416.06000000000006" y2="479.8" stroke="#000" stroke-width="1.1"/>
<text x="0" y="0" font-size="8.1" text-anchor="end" font-weight="normal" fill="#111" transform="translate(418.96,482.2) rotate(-90)">C4</text>
<rect x="422.99" y="471.96" width="6.3" height="4.64" fill="#efe6c6"/>
<line x1="426.14" y1="470.795" x2="426.14" y2="471.956" stroke="#111" stroke-width="1.0"/>
<line x1="424.53999999999996" y1="470.795" x2="427.74" y2="470.795" stroke="#111" stroke-width="1.0"/>
<line x1="426.14" y1="476.6" x2="426.14" y2="479.8" stroke="#000" stroke-width="1.1"/>
<text x="0" y="0" font-size="8.1" text-anchor="end" font-weight="normal" fill="#111" transform="translate(429.04,482.2) rotate(-90)">C5</text>
<rect x="433.07" y="471.38" width="6.3" height="5.22" fill="#dca036"/>
<line x1="436.22" y1="469.05350000000004" x2="436.22" y2="471.37550000000005" stroke="#111" stroke-width="1.0"/>
<line x1="434.62" y1="469.05350000000004" x2="437.82000000000005" y2="469.05350000000004" stroke="#111" stroke-width="1.0"/>
<line x1="436.22" y1="476.6" x2="436.22" y2="479.8" stroke="#000" stroke-width="1.1"/>
<text x="0" y="0" font-size="8.1" text-anchor="end" font-weight="normal" fill="#111" transform="translate(439.12,482.2) rotate(-90)">C6</text>
<rect x="443.15" y="471.96" width="6.3" height="4.64" fill="#efc484"/>
<line x1="446.3" y1="470.56280000000004" x2="446.3" y2="471.956" stroke="#111" stroke-width="1.0"/>
<line x1="444.7" y1="470.56280000000004" x2="447.90000000000003" y2="470.56280000000004" stroke="#111" stroke-width="1.0"/>
<line x1="446.3" y1="476.6" x2="446.3" y2="479.8" stroke="#000" stroke-width="1.1"/>
<text x="0" y="0" font-size="8.1" text-anchor="end" font-weight="normal" fill="#111" transform="translate(449.20,482.2) rotate(-90)">C7</text>
<rect x="453.23" y="471.96" width="6.3" height="4.64" fill="#f4e4c8"/>
<line x1="456.38" y1="470.56280000000004" x2="456.38" y2="471.956" stroke="#111" stroke-width="1.0"/>
<line x1="454.78" y1="470.56280000000004" x2="457.98" y2="470.56280000000004" stroke="#111" stroke-width="1.0"/>
<line x1="456.38" y1="476.6" x2="456.38" y2="479.8" stroke="#000" stroke-width="1.1"/>
<text x="0" y="0" font-size="8.1" text-anchor="end" font-weight="normal" fill="#111" transform="translate(459.28,482.2) rotate(-90)">C12</text>
<text x="369.3" y="510.1" font-size="9.6" text-anchor="start" font-weight="normal" fill="#111" textLength="15.9" lengthAdjust="spacingAndGlyphs">HLA</text>
<rect x="0.6" y="0.6" width="518.8" height="518.8" fill="none" stroke="#000" stroke-width="1.6"/></svg>
</body></html>
